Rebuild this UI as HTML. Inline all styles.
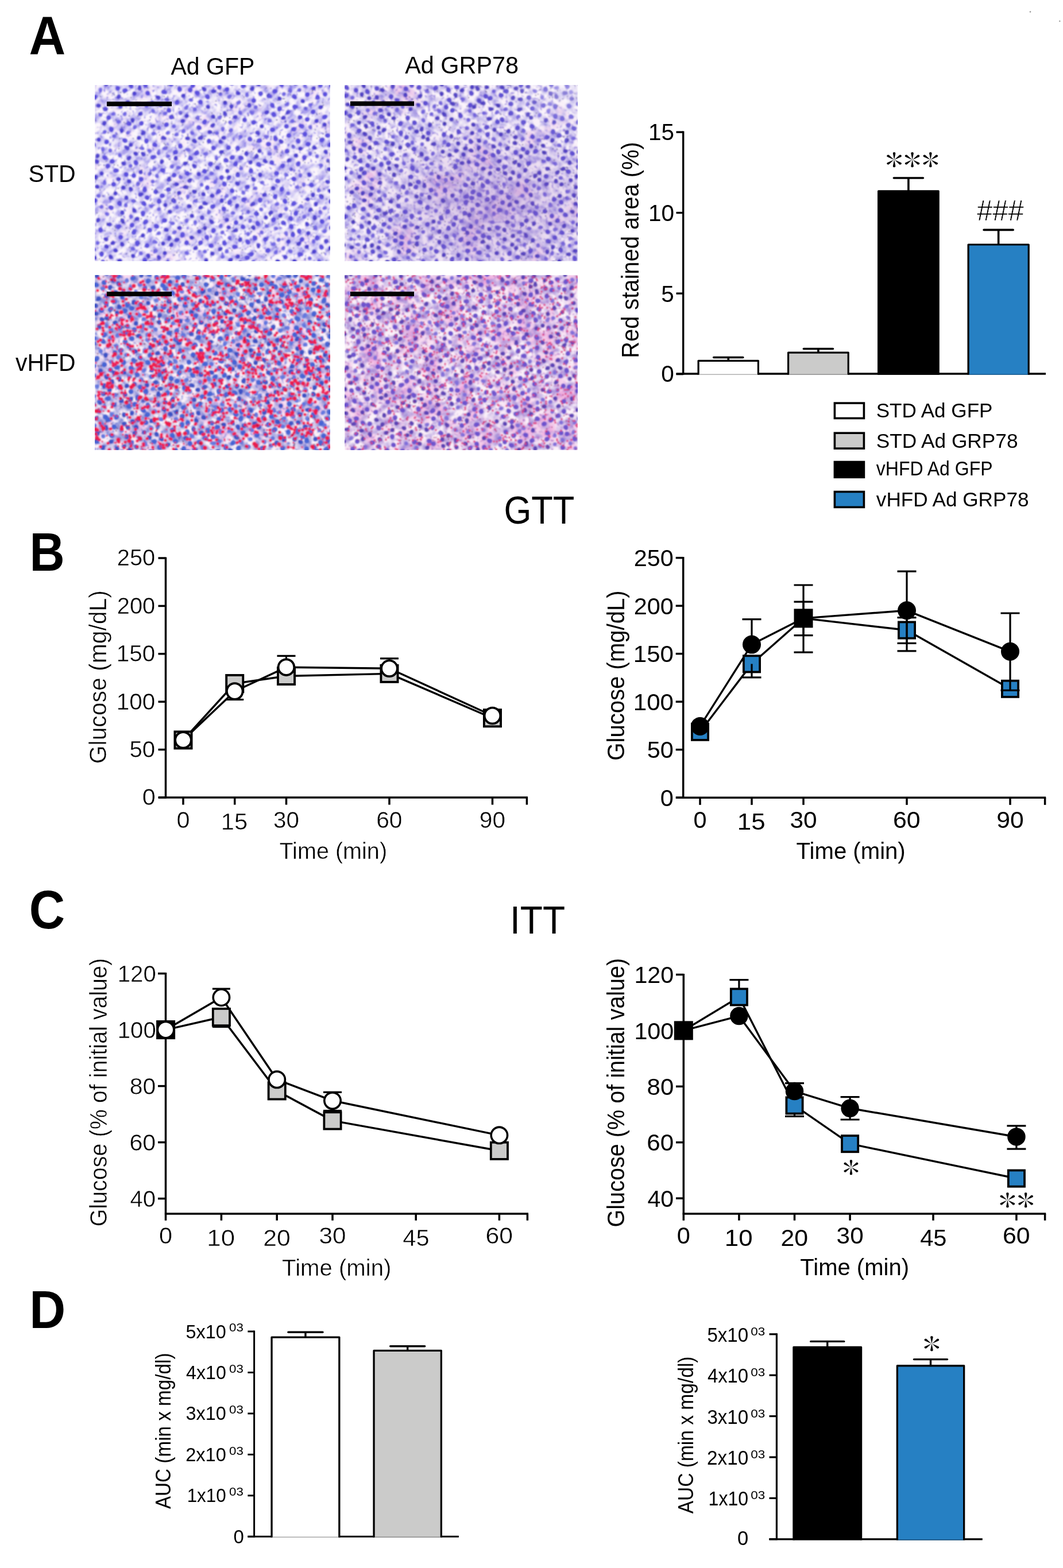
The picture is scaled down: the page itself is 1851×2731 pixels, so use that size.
<!DOCTYPE html><html><head><meta charset="utf-8"><title>Figure</title><style>html,body{margin:0;padding:0;background:#fff}svg{display:block}text{font-family:'Liberation Sans', Arial, Helvetica, sans-serif}</style></head><body>
<svg width="1851" height="2731" viewBox="0 0 1851 2731">
<rect x="0" y="0" width="1851" height="2731" fill="#fff"/>
<defs><filter id="bgt1" filterUnits="userSpaceOnUse" x="165" y="148" width="410" height="307" color-interpolation-filters="sRGB">
<feFlood flood-color="#fbf5fb" result="bg"/>
<feTurbulence type="fractalNoise" baseFrequency="0.03" numOctaves="2" seed="1" result="n0"/>
<feColorMatrix in="n0" type="matrix" values="0 0 0 0 0 0 0 0 0 0 0 0 0 0 0 2.100 0 0 0 -1.050" result="m0"/>
<feFlood flood-color="#f0d0f0"/><feComposite in2="m0" operator="in" result="c0"/>
<feTurbulence type="fractalNoise" baseFrequency="0.07" numOctaves="2" seed="8" result="n1"/>
<feColorMatrix in="n1" type="matrix" values="0 0 0 0 0 0 0 0 0 0 0 0 0 0 0 2.850 0 0 0 -1.140" result="m1"/>
<feFlood flood-color="#aaa0ec"/><feComposite in2="m1" operator="in" result="c1"/>
<feTurbulence type="fractalNoise" baseFrequency="0.2" numOctaves="1" seed="22" result="n2"/>
<feColorMatrix in="n2" type="matrix" values="0 0 0 0 0 0 0 0 0 0 0 0 0 0 0 4.500 0 0 0 -2.520" result="m2"/>
<feFlood flood-color="#8478e6"/><feComposite in2="m2" operator="in" result="c2"/>
<feMerge result="mg"><feMergeNode in="bg"/><feMergeNode in="c0"/><feMergeNode in="c1"/><feMergeNode in="c2"/></feMerge>
</filter>
<filter id="blt1" filterUnits="userSpaceOnUse" x="165" y="148" width="410" height="307"><feGaussianBlur stdDeviation="0.9"/></filter>
<clipPath id="cpt1"><rect x="165" y="148" width="410" height="307"/></clipPath>
<filter id="bgt2" filterUnits="userSpaceOnUse" x="600" y="148" width="406" height="307" color-interpolation-filters="sRGB">
<feFlood flood-color="#f9f0f9" result="bg"/>
<feTurbulence type="fractalNoise" baseFrequency="0.015" numOctaves="2" seed="2" result="n0"/>
<feColorMatrix in="n0" type="matrix" values="0 0 0 0 0 0 0 0 0 0 0 0 0 0 0 3.200 0 0 0 -1.760" result="m0"/>
<feFlood flood-color="#e4b0e0"/><feComposite in2="m0" operator="in" result="c0"/>
<feTurbulence type="fractalNoise" baseFrequency="0.07" numOctaves="2" seed="9" result="n1"/>
<feColorMatrix in="n1" type="matrix" values="0 0 0 0 0 0 0 0 0 0 0 0 0 0 0 2.850 0 0 0 -1.140" result="m1"/>
<feFlood flood-color="#aa9ee4"/><feComposite in2="m1" operator="in" result="c1"/>
<feTurbulence type="fractalNoise" baseFrequency="0.2" numOctaves="1" seed="23" result="n2"/>
<feColorMatrix in="n2" type="matrix" values="0 0 0 0 0 0 0 0 0 0 0 0 0 0 0 4.500 0 0 0 -2.520" result="m2"/>
<feFlood flood-color="#8a74dc"/><feComposite in2="m2" operator="in" result="c2"/>
<feMerge result="mg"><feMergeNode in="bg"/><feMergeNode in="c0"/><feMergeNode in="c1"/><feMergeNode in="c2"/></feMerge>
</filter>
<filter id="blt2" filterUnits="userSpaceOnUse" x="600" y="148" width="406" height="307"><feGaussianBlur stdDeviation="0.9"/></filter>
<clipPath id="cpt2"><rect x="600" y="148" width="406" height="307"/></clipPath>
<radialGradient id="rgt2850" cx="0.5" cy="0.5" r="0.5"><stop offset="0" stop-color="#8a5cb8" stop-opacity="0.35"/><stop offset="1" stop-color="#8a5cb8" stop-opacity="0"/></radialGradient>
<radialGradient id="rgt2990" cx="0.5" cy="0.5" r="0.5"><stop offset="0" stop-color="#ffffff" stop-opacity="0.35"/><stop offset="1" stop-color="#ffffff" stop-opacity="0"/></radialGradient>
<filter id="bgt3" filterUnits="userSpaceOnUse" x="165" y="479" width="410" height="305" color-interpolation-filters="sRGB">
<feFlood flood-color="#fbf0f8" result="bg"/>
<feTurbulence type="fractalNoise" baseFrequency="0.03" numOctaves="2" seed="3" result="n0"/>
<feColorMatrix in="n0" type="matrix" values="0 0 0 0 0 0 0 0 0 0 0 0 0 0 0 2.550 0 0 0 -1.173" result="m0"/>
<feFlood flood-color="#f2b8e4"/><feComposite in2="m0" operator="in" result="c0"/>
<feTurbulence type="fractalNoise" baseFrequency="0.07" numOctaves="2" seed="10" result="n1"/>
<feColorMatrix in="n1" type="matrix" values="0 0 0 0 0 0 0 0 0 0 0 0 0 0 0 2.850 0 0 0 -1.111" result="m1"/>
<feFlood flood-color="#8c8ed6"/><feComposite in2="m1" operator="in" result="c1"/>
<feTurbulence type="fractalNoise" baseFrequency="0.2" numOctaves="1" seed="24" result="n2"/>
<feColorMatrix in="n2" type="matrix" values="0 0 0 0 0 0 0 0 0 0 0 0 0 0 0 4.500 0 0 0 -2.520" result="m2"/>
<feFlood flood-color="#6a78d8"/><feComposite in2="m2" operator="in" result="c2"/>
<feMerge result="mg"><feMergeNode in="bg"/><feMergeNode in="c0"/><feMergeNode in="c1"/><feMergeNode in="c2"/></feMerge>
</filter>
<filter id="blt3" filterUnits="userSpaceOnUse" x="165" y="479" width="410" height="305"><feGaussianBlur stdDeviation="0.9"/></filter>
<clipPath id="cpt3"><rect x="165" y="479" width="410" height="305"/></clipPath>
<filter id="bgt4" filterUnits="userSpaceOnUse" x="600" y="479" width="406" height="305" color-interpolation-filters="sRGB">
<feFlood flood-color="#fbf0f9" result="bg"/>
<feTurbulence type="fractalNoise" baseFrequency="0.03" numOctaves="2" seed="4" result="n0"/>
<feColorMatrix in="n0" type="matrix" values="0 0 0 0 0 0 0 0 0 0 0 0 0 0 0 2.700 0 0 0 -1.134" result="m0"/>
<feFlood flood-color="#eea8dc"/><feComposite in2="m0" operator="in" result="c0"/>
<feTurbulence type="fractalNoise" baseFrequency="0.07" numOctaves="2" seed="11" result="n1"/>
<feColorMatrix in="n1" type="matrix" values="0 0 0 0 0 0 0 0 0 0 0 0 0 0 0 2.850 0 0 0 -1.197" result="m1"/>
<feFlood flood-color="#aa94da"/><feComposite in2="m1" operator="in" result="c1"/>
<feTurbulence type="fractalNoise" baseFrequency="0.2" numOctaves="1" seed="25" result="n2"/>
<feColorMatrix in="n2" type="matrix" values="0 0 0 0 0 0 0 0 0 0 0 0 0 0 0 4.200 0 0 0 -2.352" result="m2"/>
<feFlood flood-color="#b070c8"/><feComposite in2="m2" operator="in" result="c2"/>
<feMerge result="mg"><feMergeNode in="bg"/><feMergeNode in="c0"/><feMergeNode in="c1"/><feMergeNode in="c2"/></feMerge>
</filter>
<filter id="blt4" filterUnits="userSpaceOnUse" x="600" y="479" width="406" height="305"><feGaussianBlur stdDeviation="0.9"/></filter>
<clipPath id="cpt4"><rect x="600" y="479" width="406" height="305"/></clipPath></defs>
<g clip-path="url(#cpt1)"><g filter="url(#blt1)">
<rect x="165" y="148" width="410" height="307" fill="#fbf5fb" filter="url(#bgt1)"/>
<path d="M-30 277 L-17 269 L-11 262 L-2 254 L7 242 L16 240 L24 231 L28 225 L38 215 L51 207 L55 198 L67 193 L72 182 L80 174 L89 169 L97 160 L104 153 L113 146 L120 142 L129 133 L137 128 L145 114 L155 109 L165 101 L173 92 L181 81 L193 75 L202 63 L210 53 L220 49 L226 39 L237 33 L245 22 L254 15 L265 5 L273 -2 L277 -10 L291 -16 L298 -26 L305 -32 L318 -42 L327 -50 L333 -58 L345 -69 L352 -78 L363 -84 L369 -90M-17 291 L-7 281 L1 272 L7 262 L20 254 L27 247 L35 238 L43 232 L53 223 L60 213 L67 207 L79 201 L89 191 L98 179 L110 170 L114 162 L123 159 L128 150 L138 142 L144 136 L153 127 L162 122 L169 113 L177 104 L187 98 L192 90 L205 81 L212 75 L221 63 L227 58 L237 48 L249 41 L257 31 L270 22 L277 12 L287 4 L296 -5 L305 -15 L316 -19 L324 -32 L335 -42 L348 -51 L355 -60 L363 -63 L369 -69 L379 -81M-7 302 L4 290 L11 281 L19 273 L29 264 L35 257 L46 248 L54 240 L67 232 L71 224 L81 220 L90 208 L98 202 L109 193 L117 186 L126 175 L136 163 L146 153 L156 150 L162 143 L172 134 L178 125 L188 120 L197 112 L206 98 L215 90 L220 84 L234 76 L243 65 L254 58 L261 49 L267 41 L277 37 L286 28 L293 18 L305 10 L310 4 L315 -4 L326 -14 L336 -18 L341 -28 L349 -34 L358 -44 L371 -54 L384 -63 L389 -72M0 310 L10 300 L19 298 L25 290 L33 281 L41 277 L53 267 L56 258 L69 252 L77 242 L85 232 L94 224 L101 216 L111 212 L118 203 L129 195 L135 185 L143 178 L156 170 L161 161 L171 153 L179 144 L185 138 L193 133 L197 126 L208 118 L219 109 L229 97 L240 91 L246 86 L253 79 L264 68 L270 58 L281 53 L289 46 L296 40 L300 32 L312 23 L324 13 L333 3 L339 -4 L347 -10 L355 -20 L364 -24 L373 -35 L383 -42 L390 -52 L398 -60 L405 -64M12 322 L17 316 L23 308 L33 304 L40 295 L49 286 L55 281 L65 273 L73 266 L82 255 L91 247 L98 240 L109 234 L118 221 L127 211 L135 207 L145 196 L158 189 L165 181 L174 169 L186 161 L195 153 L207 143 L213 132 L221 125 L232 119 L238 113 L247 102 L255 93 L264 83 L279 75 L286 64 L300 56 L306 50 L316 39 L326 29 L339 20 L346 12 L352 2 L360 -5 L374 -13 L379 -20 L386 -29 L394 -36 L403 -47 L412 -51M22 333 L32 325 L37 317 L46 308 L56 299 L67 292 L79 283 L86 273 L98 264 L106 254 L112 246 L123 236 L134 228 L147 218 L156 205 L166 198 L174 191 L182 184 L187 178 L195 169 L205 164 L214 153 L223 144 L229 136 L239 131 L250 122 L260 114 L268 106 L276 98 L286 85 L294 80 L302 71 L308 65 L316 58 L328 48 L339 40 L348 29 L359 20 L368 11 L377 3 L387 -5 L397 -15 L407 -25 L415 -35 L424 -41M32 344 L40 338 L47 329 L53 323 L63 314 L72 307 L77 301 L89 291 L98 283 L105 273 L115 269 L119 259 L132 251 L140 243 L149 232 L160 225 L169 214 L179 205 L188 196 L200 189 L206 179 L219 170 L228 158 L241 150 L248 142 L259 133 L266 126 L274 121 L282 113 L291 103 L298 95 L304 88 L314 79 L324 69 L336 62 L341 52 L351 46 L356 39 L364 35 L374 23 L381 19 L393 10 L400 -1 L410 -12 L420 -21 L430 -27M41 353 L50 349 L58 340 L65 334 L73 326 L85 317 L91 311 L100 299 L109 292 L120 281 L132 272 L139 267 L143 258 L152 249 L160 242 L171 236 L180 223 L189 220 L193 212 L199 205 L207 202 L217 192 L228 182 L236 175 L247 164 L253 155 L266 146 L274 139 L283 130 L288 124 L296 116 L308 106 L318 98 L329 89 L337 77 L349 66 L362 58 L370 45 L379 42 L386 33 L397 21 L407 14 L414 7 L425 -0 L430 -7 L437 -12 L441 -21M53 366 L58 357 L71 349 L80 337 L88 329 L98 321 L107 316 L118 304 L125 298 L134 292 L144 282 L153 271 L165 262 L170 253 L179 247 L185 240 L194 230 L206 223 L213 214 L221 207 L232 198 L239 188 L251 178 L258 170 L271 161 L284 152 L295 141 L306 131 L314 118 L325 112 L337 101 L347 92 L356 85 L363 74 L374 69 L380 57 L389 53 L398 45 L404 37 L413 26 L421 22 L427 13 L436 8 L443 -2 L452 -5M61 375 L71 364 L82 360 L90 348 L102 339 L114 330 L122 321 L132 314 L142 303 L153 294 L158 285 L170 277 L178 268 L187 262 L197 251 L204 246 L210 236 L220 231 L223 223 L234 219 L244 209 L252 200 L261 191 L271 184 L281 171 L290 162 L298 156 L308 147 L318 135 L330 129 L339 118 L347 110 L360 101 L369 92 L381 82 L387 73 L398 63 L408 53 L416 46 L422 40 L429 31 L437 25 L449 16 L458 11 L464 2M73 388 L81 380 L90 372 L100 364 L107 352 L116 349 L120 339 L129 334 L140 323 L152 315 L157 308 L169 297 L177 288 L191 280 L196 272 L204 265 L210 257 L218 251 L230 243 L239 232 L245 225 L254 216 L265 210 L272 203 L276 196 L287 185 L297 177 L310 169 L315 160 L327 150 L335 144 L341 136 L349 132 L359 123 L368 110 L377 102 L389 94 L394 85 L405 76 L411 69 L421 62 L432 51 L441 41 L449 34 L459 25 L467 18 L475 10M81 396 L94 388 L101 377 L111 372 L121 364 L130 352 L139 344 L145 337 L152 330 L163 324 L172 315 L178 307 L189 301 L195 290 L202 285 L210 276 L219 271 L230 259 L240 251 L245 245 L252 238 L263 230 L267 222 L278 213 L286 206 L291 200 L299 195 L311 185 L319 179 L326 171 L335 165 L342 157 L352 149 L362 140 L369 132 L378 122 L387 114 L397 107 L405 97 L411 91 L417 84 L426 77 L433 69 L442 62 L449 53 L459 47 L468 39 L479 29M91 407 L101 402 L108 397 L115 390 L122 383 L131 372 L141 361 L153 351 L160 342 L170 334 L182 327 L189 316 L203 308 L211 297 L222 291 L230 282 L238 272 L249 262 L257 252 L266 243 L276 234 L282 229 L290 224 L298 216 L311 207 L321 198 L329 186 L340 176 L349 168 L358 163 L367 151 L378 141 L390 134 L398 121 L407 114 L416 109 L424 101 L433 91 L440 86 L449 74 L460 66 L468 60 L478 46 L490 37M101 418 L111 408 L122 404 L131 395 L138 386 L148 379 L156 367 L166 360 L176 353 L185 340 L192 333 L198 327 L208 323 L218 314 L223 305 L237 296 L245 283 L256 278 L267 269 L274 259 L281 255 L293 244 L301 233 L310 228 L322 218 L327 210 L336 202 L348 194 L357 183 L367 174 L374 164 L384 154 L395 146 L405 138 L415 132 L419 121 L431 112 L439 105 L450 98 L458 87 L467 79 L476 71 L483 64 L490 56 L502 46M113 430 L124 421 L134 412 L139 403 L147 397 L155 390 L161 383 L168 376 L180 367 L187 360 L198 351 L207 342 L215 336 L221 331 L227 325 L235 317 L243 306 L252 298 L260 292 L268 286 L279 274 L289 264 L300 255 L308 245 L319 236 L328 228 L339 219 L349 211 L354 202 L366 193 L379 185 L385 173 L398 165 L404 157 L412 148 L426 140 L435 129 L445 117 L456 109 L461 103 L471 98 L478 90 L486 80 L497 73 L508 62M124 443 L133 431 L139 423 L150 413 L160 406 L165 399 L177 390 L190 381 L195 374 L201 368 L211 362 L218 350 L227 343 L234 336 L247 328 L254 315 L267 306 L277 295 L286 292 L290 282 L302 277 L311 265 L324 255 L334 245 L343 238 L352 230 L361 222 L368 212 L377 203 L385 197 L395 186 L407 178 L416 167 L429 157 L436 146 L445 137 L457 128 L466 121 L476 113 L485 105 L495 94 L505 87 L508 79 L516 72M131 451 L139 445 L149 439 L161 428 L168 416 L176 413 L185 401 L198 392 L207 383 L212 376 L224 366 L230 360 L240 350 L247 344 L257 337 L265 331 L277 320 L281 312 L294 303 L300 296 L309 289 L313 282 L325 275 L331 268 L341 260 L350 253 L354 243 L362 239 L368 231 L374 224 L386 214 L399 205 L407 199 L413 194 L417 185 L425 176 L436 167 L446 157 L456 149 L464 143 L472 135 L481 125 L489 121 L498 115 L505 105 L509 98 L518 94 L528 86 L536 77M141 461 L152 456 L163 447 L173 435 L181 427 L191 419 L201 411 L208 402 L219 393 L228 384 L238 374 L245 366 L253 357 L265 352 L270 343 L282 336 L291 326 L298 317 L308 308 L317 297 L330 290 L335 280 L345 275 L356 266 L360 257 L370 254 L377 242 L389 236 L396 225 L409 216 L417 209 L425 200 L432 192 L441 185 L451 178 L455 170 L467 161 L477 152 L483 145 L490 137 L503 128 L512 115 L523 107 L533 100 L538 94M154 475 L161 465 L171 457 L179 450 L184 441 L192 434 L203 427 L214 418 L225 409 L231 400 L237 392 L247 386 L255 381 L264 367 L270 362 L283 355 L286 346 L296 339 L301 332 L309 326 L317 320 L324 312 L333 308 L339 300 L347 292 L354 283 L363 279 L372 267 L381 264 L387 257 L396 244 L407 235 L413 229 L422 223 L431 216 L439 204 L448 200 L455 195 L463 182 L471 175 L479 168 L485 162 L493 156 L503 150 L512 140 L522 129 L530 121 L543 113 L553 101M161 483 L175 476 L184 468 L195 457 L202 448 L209 440 L217 431 L224 425 L235 419 L243 407 L253 401 L258 393 L268 385 L277 376 L289 366 L298 359 L310 350 L320 339 L325 332 L336 326 L344 314 L354 309 L363 301 L373 290 L382 281 L388 272 L400 261 L409 256 L419 244 L429 239 L435 230 L442 222 L455 213 L459 206 L467 201 L477 189 L485 183 L495 177 L504 169 L512 159 L523 149 L532 141 L539 133 L545 126 L555 117 L562 110M171 493 L181 488 L192 480 L198 473 L204 466 L215 459 L225 450 L229 442 L236 433 L244 429 L252 419 L259 414 L270 405 L282 395 L293 384 L301 376 L306 368 L318 362 L322 354 L330 348 L341 337 L349 331 L360 320 L368 310 L380 305 L385 297 L395 288 L405 280 L414 270 L422 263 L431 255 L442 244 L452 238 L461 225 L471 215 L481 205 L491 199 L503 191 L512 180 L519 170 L530 163 L539 152 L547 143 L560 137 L568 128M182 505 L190 501 L196 491 L207 486 L218 474 L228 462 L236 453 L246 450 L252 443 L261 436 L270 422 L281 419 L286 408 L298 399 L306 392 L314 384 L322 374 L334 369 L343 359 L348 350 L357 347 L361 339 L372 331 L381 322 L391 312 L401 300 L411 291 L420 285 L427 278 L437 267 L447 264 L453 254 L466 244 L472 237 L480 232 L489 223 L495 218 L502 211 L511 203 L515 194 L526 189 L533 180 L540 174 L550 167 L559 156 L564 149 L577 140 L585 134M193 517 L203 505 L209 499 L217 494 L224 486 L231 481 L240 475 L247 467 L256 460 L262 453 L270 445 L279 437 L288 431 L299 419 L309 411 L316 403 L324 395 L332 387 L339 380 L347 374 L355 368 L366 358 L374 351 L380 342 L390 334 L399 327 L408 315 L416 309 L427 300 L433 293 L446 285 L454 275 L463 263 L471 259 L479 252 L486 244 L495 232 L504 225 L515 219 L526 208 L532 201 L542 193 L553 185 L562 171 L571 168 L578 162 L583 154 L588 146 L598 141M203 527 L209 521 L216 514 L226 507 L235 495 L246 488 L252 481 L260 477 L266 467 L276 460 L287 451 L295 445 L300 439 L307 433 L314 427 L324 417 L330 409 L337 404 L348 393 L358 384 L364 377 L373 371 L380 362 L389 353 L395 347 L402 343 L411 335 L418 325 L431 317 L436 311 L446 301 L458 292 L468 283 L478 272 L483 266 L494 257 L502 248 L513 238 L523 229 L528 222 L536 216 L543 207 L552 204 L563 192 L572 185 L578 179 L589 171 L598 161 L607 154M213 538 L223 529 L230 523 L240 513 L246 506 L257 495 L267 486 L278 481 L283 472 L294 464 L302 455 L309 450 L317 443 L324 434 L336 423 L348 413 L356 404 L364 399 L372 391 L379 384 L390 376 L398 366 L409 357 L418 349 L423 340 L433 337 L444 326 L451 319 L461 308 L467 300 L481 292 L490 280 L502 272 L508 261 L521 252 L532 242 L538 236 L543 230 L556 221 L563 210 L575 203 L584 194 L595 183 L605 174 L614 166M222 548 L228 541 L238 534 L248 524 L258 520 L262 512 L273 504 L279 495 L288 487 L299 477 L310 466 L320 458 L329 450 L339 440 L349 429 L361 423 L370 416 L376 406 L389 398 L397 386 L409 376 L420 365 L427 358 L439 352 L445 340 L457 334 L465 321 L475 317 L486 308 L496 297 L505 286 L512 282 L521 275 L528 268 L537 260 L546 249 L553 239 L562 234 L568 227 L579 219 L589 208 L598 199 L609 191 L619 178 L626 173M234 561 L240 553 L249 544 L259 533 L270 524 L282 517 L294 507 L299 500 L311 490 L319 482 L327 475 L336 468 L340 461 L347 456 L358 444 L368 433 L376 430 L382 419 L394 413 L400 406 L406 397 L412 391 L420 385 L431 377 L442 368 L448 361 L458 349 L470 343 L478 333 L487 327 L496 315 L502 307 L514 302 L522 289 L529 283 L536 276 L544 271 L557 261 L564 251 L575 240 L581 234 L593 226 L599 217 L610 209 L620 199 L625 192 L634 187M244 571 L251 567 L258 558 L264 550 L273 545 L283 533 L291 526 L296 519 L309 513 L312 504 L322 497 L331 492 L336 483 L348 474 L358 465 L365 461 L369 453 L379 447 L388 433 L395 427 L404 424 L409 417 L415 408 L423 402 L434 396 L442 386 L448 378 L458 371 L468 360 L474 354 L482 347 L492 342 L501 331 L513 322 L519 316 L524 309 L532 301 L538 295 L550 288 L558 274 L568 266 L578 259 L584 251 L592 243 L606 236 L611 230 L620 218 L630 211 L638 205 L648 197M255 583 L265 574 L269 566 L278 559 L287 553 L297 544 L306 536 L314 529 L321 518 L329 509 L341 501 L350 490 L360 484 L366 479 L377 468 L389 459 L396 450 L407 440 L414 433 L426 424 L430 415 L442 408 L451 398 L461 392 L466 383 L471 376 L483 370 L490 363 L496 356 L507 348 L515 340 L523 332 L534 321 L544 314 L547 305 L554 301 L564 293 L572 282 L584 273 L595 262 L608 254 L613 247 L623 241 L628 233 L633 225 L644 219 L652 213M265 594 L275 585 L283 577 L292 568 L300 559 L307 552 L317 540 L330 533 L336 525 L347 515 L356 507 L364 503 L372 490 L381 485 L392 474 L398 466 L409 460 L417 448 L424 444 L433 438 L440 432 L448 419 L456 416 L460 408 L468 400 L476 395 L486 387 L490 379 L501 373 L508 366 L515 361 L526 351 L531 340 L543 332 L551 324 L562 316 L569 307 L575 300 L590 292 L595 285 L606 274 L616 262 L629 255 L633 247 L644 236 L656 230 L666 220M275 605 L280 597 L290 590 L294 582 L302 575 L314 565 L324 557 L336 548 L344 535 L356 529 L367 517 L374 508 L379 502 L389 497 L397 489 L406 484 L415 471 L422 463 L431 456 L441 446 L450 436 L462 429 L470 422 L481 413 L490 402 L500 394 L508 388 L518 377 L526 365 L538 357 L549 348 L557 341 L569 332 L575 326 L584 315 L594 305 L601 296 L615 288 L623 279 L632 268 L643 261 L653 253 L660 245 L669 235M284 614 L290 607 L301 602 L311 591 L320 581 L330 572 L340 561 L350 555 L360 545 L367 538 L373 530 L379 522 L388 518 L397 506 L409 497 L418 486 L427 483 L431 474 L441 465 L452 460 L458 454 L470 444 L479 435 L485 428 L497 418 L504 412 L511 403 L522 394 L530 387 L541 377 L545 368 L554 360 L563 357 L567 349 L577 344 L588 333 L594 322 L606 312 L618 305 L627 297 L637 285 L646 275 L656 269 L662 261 L672 251 L683 240M294 625 L302 620 L308 610 L319 602 L327 592 L334 586 L343 578 L352 574 L357 565 L371 557 L378 544 L388 535 L399 525 L407 519 L414 514 L425 504 L434 492 L444 488 L451 480 L458 470 L468 466 L478 454 L482 447 L496 439 L504 428 L515 417 L527 410 L535 403 L543 397 L552 384 L561 378 L568 370 L579 362 L587 350 L595 342 L608 335 L614 327 L621 319 L628 315 L638 302 L650 295 L660 287 L667 278 L672 271 L683 265 L692 257M304 636 L316 628 L326 616 L332 608 L340 599 L351 595 L357 587 L363 578 L372 572 L379 565 L391 555 L399 546 L408 541 L414 531 L424 526 L436 516 L442 505 L453 494 L465 489 L471 480 L479 473 L486 467 L494 456 L501 451 L509 445 L519 435 L524 428 L533 421 L545 413 L555 403 L563 397 L568 387 L575 383 L588 373 L596 363 L607 357 L616 344 L626 336 L633 329 L641 324 L648 316 L657 305 L671 297 L677 286 L689 279 L696 273 L702 264M315 647 L325 638 L331 629 L337 623 L345 616 L351 611 L358 606 L363 600 L369 594 L378 584 L391 576 L400 567 L409 556 L417 548 L424 544 L435 537 L443 524 L455 515 L463 506 L470 501 L481 494 L488 483 L499 476 L505 468 L515 463 L520 456 L529 449 L536 439 L548 430 L552 423 L560 417 L568 412 L576 402 L584 396 L593 389 L604 379 L613 367 L625 357 L636 348 L643 339 L654 330 L661 324 L666 316 L676 312 L683 305 L688 298 L695 294 L705 285 L716 276M324 657 L334 649 L341 642 L350 636 L356 630 L367 621 L375 612 L382 606 L387 599 L393 592 L403 583 L412 574 L419 568 L430 562 L439 550 L451 540 L458 533 L469 525 L476 520 L482 508 L492 504 L496 496 L506 486 L517 478 L525 472 L530 464 L541 456 L548 449 L558 438 L565 433 L573 427 L578 419 L590 413 L600 404 L610 393 L618 383 L625 377 L632 371 L641 363 L650 355 L661 344 L669 339 L677 328 L686 321 L695 314 L704 300 L719 293 L728 281M334 668 L341 660 L349 654 L356 646 L366 638 L376 627 L384 622 L393 617 L399 606 L408 601 L414 593 L420 585 L432 577 L438 569 L449 563 L461 553 L466 546 L475 538 L484 532 L492 521 L504 511 L510 506 L522 495 L529 489 L535 484 L542 477 L546 468 L555 463 L565 454 L573 450 L581 437 L588 432 L601 423 L605 414 L617 404 L629 397 L639 386 L649 377 L657 371 L661 362 L674 355 L683 344 L689 338 L696 332 L703 322 L714 316 L722 305 L736 297M346 681 L351 672 L361 661 L369 653 L377 648 L389 639 L396 634 L404 622 L413 617 L422 605 L430 598 L441 586 L447 581 L459 576 L464 570 L473 562 L484 551 L492 544 L498 539 L504 529 L516 519 L523 511 L532 503 L541 496 L547 487 L556 484 L567 475 L574 469 L583 456 L596 448 L606 436 L615 425 L622 418 L635 412 L639 403 L652 395 L656 386 L664 380 L670 374 L680 363 L691 358 L700 347 L707 341 L715 334 L722 327 L732 315 L742 311M356 691 L363 686 L368 680 L375 673 L385 663 L395 650 L407 642 L413 634 L422 630 L428 621 L436 617 L443 606 L454 597 L465 588 L473 579 L483 568 L492 565 L502 556 L512 547 L517 536 L527 528 L536 520 L544 514 L552 503 L564 494 L574 485 L581 478 L588 472 L599 464 L606 457 L613 447 L622 438 L633 429 L644 423 L653 412 L661 403 L669 394 L681 389 L689 380 L699 369 L708 365 L714 354 L722 350 L732 339 L739 333 L745 325 L753 319M365 701 L371 694 L379 688 L391 678 L400 666 L407 662 L414 654 L423 644 L435 635 L443 625 L452 621 L457 615 L464 607 L477 598 L483 590 L490 582 L503 573 L513 563 L520 557 L529 551 L540 541 L545 532 L556 522 L566 514 L573 507 L578 499 L591 491 L599 480 L609 476 L620 464 L630 453 L642 444 L650 438 L654 430 L665 424 L670 414 L682 407 L688 401 L696 392 L708 383 L720 372 L727 363 L732 356 L741 348 L751 339 L762 334M376 713 L381 703 L392 695 L402 686 L410 678 L419 674 L425 665 L437 656 L448 644 L456 638 L463 633 L470 624 L481 613 L493 604 L502 596 L506 587 L519 580 L524 569 L533 562 L539 556 L549 548 L559 538 L569 529 L576 522 L587 513 L598 505 L607 497 L615 485 L627 477 L636 466 L644 462 L653 456 L658 447 L667 440 L675 435 L682 428 L692 415 L705 407 L711 402 L717 392 L727 381 L736 379 L740 372 L749 363 L761 354 L766 348 L776 337" stroke="#fff" stroke-width="4.0" stroke-linecap="round" stroke-linejoin="round" fill="none" opacity="0.35"/>
<path d="M510 356h0M390 422h0M465 437h0M448 388h0M372 359h0M284 341h0M304 305h0M507 382h0M253 454h0M486 191h0M282 296h0M432 449h0M364 245h0M475 185h0M288 161h0M453 350h0M395 280h0M530 276h0M300 204h0M397 258h0M464 416h0M254 150h0M219 157h0M249 374h0M441 214h0M304 351h0M342 161h0M296 146h0M425 149h0M252 356h0M317 411h0M485 316h0M491 149h0M181 274h0M208 394h0M516 186h0M427 347h0M194 281h0M357 211h0M258 163h0M538 251h0M424 396h0M272 334h0M471 168h0M325 422h0M352 380h0M559 429h0M483 302h0M579 270h0M578 351h0M493 288h0M175 402h0M411 284h0M520 284h0M560 385h0M414 257h0M411 430h0M510 407h0M443 413h0M405 333h0M229 151h0M362 170h0M226 216h0M477 382h0M562 243h0M479 239h0M348 223h0M379 335h0M536 164h0M304 266h0M543 323h0M247 214h0M525 443h0M187 290h0M389 363h0M511 311h0M520 247h0M442 176h0M371 257h0M236 282h0M312 154h0M255 247h0M289 218h0M476 226h0M553 168h0M557 146h0M204 297h0M390 319h0M448 373h0M257 345h0M508 396h0M332 156h0M403 275h0M496 447h0M167 168h0M567 203h0M432 325h0M414 303h0M260 400h0M341 268h0M357 299h0M452 288h0M314 253h0M197 321h0M233 305h0M277 349h0M453 163h0M219 303h0M558 341h0M480 159h0M490 331h0M546 194h0M185 248h0M421 275h0M190 205h0M185 190h0M573 253h0M568 421h0M497 352h0M288 384h0M192 361h0M350 422h0M331 275h0M211 413h0M256 427h0M523 219h0M514 170h0M453 245h0M534 208h0M177 444h0M252 388h0M385 310h0M430 420h0M516 370h0M469 251h0M576 397h0M426 208h0M502 236h0M335 150h0M495 389h0M521 404h0M274 395h0M271 253h0M552 413h0M437 296h0M411 387h0M234 402h0M245 312h0M252 328h0M216 244h0M295 193h0M209 356h0M474 284h0M269 273h0M361 415h0M166 350h0M439 442h0M382 153h0M399 354h0M498 220h0M569 236h0M525 418h0M480 341h0M368 285h0M309 177h0M194 227h0M205 153h0M239 426h0M229 393h0M366 428h0M499 264h0M349 177h0M291 460h0M327 303h0M566 165h0M436 243h0M476 198h0M531 235h0M371 403h0M510 225h0M396 155h0M292 330h0M361 326h0" stroke="#5a4ede" stroke-width="6.8" stroke-linecap="round" fill="none" opacity="0.81"/>
<path d="M512 354h0M391 424h0M467 436h0M449 390h0M370 360h0M282 341h0M303 305h0M506 380h0M252 453h0M487 189h0M284 297h0M430 449h0M364 246h0M474 183h0M285 160h0M453 348h0M393 279h0M530 274h0M298 204h0M398 257h0M462 417h0M253 147h0M217 158h0M249 371h0M442 213h0M302 349h0M344 162h0M298 147h0M423 150h0M250 354h0M318 408h0M483 315h0M490 147h0M183 275h0M206 395h0M513 186h0M424 348h0M196 281h0M356 213h0M257 162h0M536 251h0M423 395h0M271 334h0M468 167h0M325 423h0M352 379h0M560 431h0M481 302h0M579 269h0M576 351h0M492 289h0M175 400h0M410 286h0M519 286h0M561 386h0M414 259h0M408 430h0M510 409h0M444 415h0M404 332h0M228 149h0M361 168h0M224 215h0M476 383h0M560 244h0M480 242h0M346 222h0M381 333h0M535 165h0M306 265h0M542 322h0M246 215h0M522 443h0M188 289h0M390 364h0M512 312h0M519 245h0M442 175h0M372 258h0M237 284h0M313 156h0M255 245h0M290 217h0M474 226h0M553 170h0M558 149h0M201 297h0M391 321h0M446 372h0M256 344h0M507 394h0M331 157h0M405 274h0M497 448h0M165 170h0M565 204h0M430 326h0M414 305h0M261 401h0M343 266h0M356 298h0M450 286h0M314 255h0M198 321h0M233 306h0M277 351h0M454 163h0M220 304h0M560 343h0M478 159h0M491 329h0M545 195h0M186 247h0M419 275h0M189 205h0M183 190h0M575 252h0M568 420h0M496 350h0M286 384h0M194 362h0M349 423h0M332 276h0M210 413h0M256 428h0M526 220h0M512 168h0M451 245h0M535 208h0M177 442h0M254 386h0M386 309h0M432 422h0M515 372h0M467 251h0M579 395h0M426 209h0M503 236h0M336 149h0M493 388h0M521 402h0M272 394h0M269 252h0M552 415h0M437 298h0M411 388h0M233 405h0M246 312h0M252 331h0M218 245h0M294 192h0M208 354h0M473 283h0M266 274h0M360 413h0M166 349h0M437 443h0M382 152h0M400 352h0M499 220h0M571 236h0M526 417h0M479 343h0M366 286h0M308 179h0M194 225h0M205 154h0M239 423h0M230 392h0M368 428h0M500 263h0M349 178h0M292 458h0M326 302h0M566 164h0M435 242h0M477 200h0M531 233h0M372 401h0M512 225h0M395 156h0M294 330h0M361 327h0" stroke="#5a4ede" stroke-width="8.5" stroke-linecap="round" fill="none" opacity="0.9"/>
<path d="M445 274h0M451 263h0M502 280h0M336 460h0M331 359h0M209 184h0M243 151h0M208 312h0M281 283h0M212 229h0M337 333h0M309 321h0M466 195h0M284 425h0M287 440h0M320 166h0M212 424h0M408 402h0M213 369h0M463 282h0M385 433h0M167 307h0M247 338h0M164 450h0M311 336h0M560 186h0M259 447h0M201 336h0M188 391h0M248 267h0M306 274h0M354 154h0M470 372h0M177 303h0M528 177h0M235 267h0M363 187h0M522 423h0M195 424h0M368 341h0M534 389h0M387 264h0M415 446h0M274 169h0M187 430h0M325 241h0M347 304h0M172 244h0M192 446h0M475 327h0M552 210h0M549 258h0M429 266h0M391 196h0M539 367h0M227 253h0M237 382h0M450 233h0M535 429h0M335 376h0M291 401h0M438 357h0M572 294h0M221 178h0M195 345h0M522 259h0M577 147h0M214 387h0M324 284h0M450 430h0M337 288h0M224 315h0M408 204h0M568 266h0M524 204h0M367 230h0M380 293h0M383 246h0M207 454h0M396 383h0M219 256h0M403 187h0M403 452h0M239 183h0M412 319h0M181 216h0M546 439h0M311 397h0M369 441h0M372 217h0M463 378h0M169 273h0M355 339h0M453 306h0M248 233h0M440 311h0M248 411h0M395 297h0M333 414h0M326 202h0M489 374h0M226 274h0M231 211h0M392 178h0M299 425h0M419 416h0M455 220h0M535 347h0M514 146h0M357 398h0M545 341h0M186 146h0M347 404h0M440 153h0M332 313h0M434 182h0M359 455h0M451 148h0M170 385h0M173 184h0M294 417h0M418 457h0M170 326h0M459 340h0M399 396h0M295 310h0M359 355h0M536 407h0M485 455h0M276 447h0M367 385h0M348 362h0M233 365h0M374 159h0M340 247h0M500 197h0M442 398h0M503 420h0M569 316h0M419 378h0M386 348h0M547 153h0M214 284h0M550 357h0M206 170h0M183 416h0M310 417h0M310 460h0M388 240h0M548 377h0M575 433h0M488 245h0M347 241h0M202 437h0M220 343h0M400 308h0M214 326h0M168 280h0M265 178h0M516 270h0M412 360h0M512 454h0M287 241h0M245 299h0M227 328h0M339 433h0M241 241h0M231 445h0M416 163h0M321 326h0M243 199h0M234 162h0M573 332h0M268 219h0M372 204h0M319 210h0M486 171h0M437 282h0M295 368h0M288 358h0M492 206h0M538 303h0M566 217h0" stroke="#4c40d0" stroke-width="6.0" stroke-linecap="round" fill="none" opacity="0.81"/>
<path d="M447 272h0M452 263h0M504 279h0M336 459h0M329 359h0M210 186h0M243 154h0M206 312h0M282 281h0M212 227h0M339 334h0M307 321h0M464 196h0M284 424h0M287 441h0M319 167h0M213 426h0M411 401h0M213 371h0M461 280h0M383 434h0M167 309h0M244 339h0M165 449h0M312 336h0M558 187h0M258 445h0M201 337h0M191 391h0M250 269h0M306 276h0M356 156h0M472 370h0M177 302h0M527 176h0M237 268h0M362 186h0M520 425h0M197 423h0M370 341h0M535 391h0M385 265h0M414 447h0M276 170h0M185 429h0M327 241h0M346 303h0M172 243h0M193 448h0M476 328h0M551 211h0M547 257h0M429 268h0M392 199h0M541 365h0M228 252h0M239 381h0M448 231h0M534 430h0M334 376h0M289 400h0M441 355h0M573 295h0M223 178h0M193 345h0M523 259h0M577 149h0M213 384h0M322 285h0M450 427h0M339 290h0M225 316h0M410 204h0M567 264h0M522 204h0M365 230h0M378 292h0M384 247h0M209 454h0M395 383h0M222 258h0M403 185h0M401 453h0M239 181h0M414 320h0M182 214h0M547 438h0M313 397h0M370 442h0M370 219h0M463 379h0M170 271h0M354 338h0M453 304h0M250 231h0M442 313h0M249 410h0M396 298h0M334 414h0M325 202h0M488 376h0M224 276h0M231 209h0M392 179h0M298 427h0M418 418h0M456 220h0M536 347h0M515 145h0M357 397h0M545 339h0M185 147h0M347 403h0M439 155h0M330 315h0M434 184h0M359 453h0M450 146h0M171 383h0M171 184h0M295 414h0M419 459h0M169 325h0M461 339h0M398 396h0M294 313h0M356 354h0M537 406h0M483 455h0M277 449h0M369 387h0M350 361h0M234 367h0M371 159h0M338 245h0M502 195h0M441 396h0M502 421h0M571 317h0M420 379h0M386 350h0M546 154h0M216 285h0M550 355h0M207 168h0M185 417h0M307 418h0M308 459h0M390 240h0M548 380h0M575 432h0M490 247h0M350 240h0M201 436h0M220 345h0M398 310h0M215 327h0M169 282h0M264 180h0M515 271h0M413 358h0M513 455h0M284 240h0M245 300h0M228 330h0M341 432h0M242 240h0M232 446h0M414 162h0M324 326h0M245 198h0M234 163h0M575 333h0M265 220h0M371 203h0M318 211h0M487 172h0M436 283h0M296 369h0M288 357h0M494 205h0M539 305h0M565 217h0" stroke="#4c40d0" stroke-width="7.5" stroke-linecap="round" fill="none" opacity="0.9"/>
<path d="M523 307h0M495 163h0M464 393h0M289 197h0M302 220h0M384 203h0M468 268h0M175 159h0M163 253h0M437 195h0M345 207h0M183 229h0M541 223h0M306 235h0M410 344h0M229 378h0M249 259h0M234 223h0M455 318h0M362 311h0M407 371h0M272 422h0M565 404h0M432 370h0M240 319h0M356 268h0M383 164h0M494 431h0M276 268h0M400 213h0M419 239h0M264 359h0M402 146h0M555 453h0M269 439h0M314 198h0M499 409h0M564 363h0M446 186h0M314 308h0M377 277h0M259 262h0M571 279h0M267 296h0M196 199h0M385 392h0M198 237h0M531 147h0M340 386h0M522 156h0M481 438h0M370 302h0M274 308h0M552 273h0M504 437h0M394 439h0M546 419h0M377 232h0M529 379h0M393 343h0M516 326h0M222 232h0M557 368h0M320 227h0M510 211h0M233 434h0M500 305h0M454 364h0M305 404h0M501 336h0M231 350h0M351 321h0M388 227h0M432 409h0M325 386h0M486 417h0M419 294h0M174 200h0M192 263h0M481 356h0M529 323h0M403 226h0M542 182h0M430 164h0M339 350h0M507 294h0M219 356h0M228 289h0M327 344h0M208 270h0M170 424h0M455 404h0M374 318h0M277 222h0M294 272h0M417 178h0M550 399h0M466 238h0M468 211h0M401 167h0M266 317h0M269 232h0M540 269h0M506 159h0M480 256h0M540 450h0M363 371h0M423 334h0M199 181h0M499 363h0M526 361h0M278 183h0M256 183h0M387 448h0M555 330h0M474 426h0M179 262h0M573 380h0M185 372h0M435 386h0M291 232h0M266 192h0M181 457h0M560 288h0M324 440h0M501 180h0M334 231h0M285 259h0M302 389h0M260 304h0M510 254h0M176 361h0M165 435h0M356 438h0M276 365h0M482 398h0M275 407h0M208 212h0M533 190h0M326 185h0M331 174h0M340 191h0M170 341h0M218 197h0M443 328h0M308 360h0M400 415h0M300 291h0M313 292h0M261 457h0M182 316h0M441 458h0M325 260h0M388 404h0M419 198h0M246 442h0M289 173h0" stroke="#6c62e2" stroke-width="5.6" stroke-linecap="round" fill="none" opacity="0.77"/>
<path d="M523 305h0M494 164h0M464 394h0M287 198h0M303 220h0M382 205h0M470 268h0M175 156h0M163 251h0M439 197h0M344 205h0M182 230h0M540 221h0M308 234h0M408 345h0M228 377h0M247 258h0M235 221h0M457 318h0M359 310h0M405 371h0M269 421h0M566 402h0M432 369h0M240 321h0M359 268h0M384 164h0M493 433h0M276 266h0M401 213h0M419 238h0M263 359h0M404 146h0M556 455h0M271 437h0M314 196h0M498 406h0M566 362h0M445 187h0M315 309h0M377 275h0M261 263h0M571 280h0M269 294h0M198 198h0M384 394h0M199 237h0M531 150h0M340 388h0M521 157h0M480 440h0M368 302h0M273 306h0M552 272h0M506 438h0M395 437h0M546 421h0M378 232h0M530 377h0M395 341h0M518 326h0M223 231h0M558 370h0M319 229h0M509 211h0M231 433h0M498 304h0M455 365h0M303 405h0M502 337h0M233 350h0M351 322h0M388 224h0M432 407h0M325 384h0M485 418h0M420 293h0M175 200h0M192 262h0M483 355h0M529 321h0M402 227h0M540 183h0M430 166h0M341 350h0M507 295h0M219 358h0M227 289h0M327 342h0M209 271h0M170 423h0M456 405h0M375 316h0M277 223h0M292 272h0M415 179h0M549 396h0M463 238h0M470 210h0M399 169h0M266 316h0M267 233h0M540 267h0M505 157h0M480 258h0M539 450h0M364 369h0M424 336h0M197 181h0M498 364h0M524 359h0M280 184h0M255 185h0M388 447h0M555 332h0M477 425h0M179 259h0M574 379h0M187 373h0M436 384h0M293 231h0M267 194h0M179 455h0M559 288h0M326 441h0M500 182h0M335 232h0M288 258h0M300 389h0M261 302h0M511 256h0M177 360h0M163 434h0M357 438h0M277 364h0M480 398h0M277 406h0M206 212h0M532 189h0M324 188h0M333 174h0M339 190h0M172 341h0M217 199h0M445 328h0M308 361h0M400 414h0M299 290h0M310 292h0M262 458h0M182 319h0M441 456h0M328 261h0M387 405h0M418 196h0M245 441h0M291 173h0" stroke="#6c62e2" stroke-width="7" stroke-linecap="round" fill="none" opacity="0.85"/>
<path d="M473 340h0M278 235h0M522 378h0M292 149h0M488 231h0M489 271h0M332 297h0M186 390h0M570 282h0M190 185h0M357 399h0M343 347h0M312 353h0M537 313h0M302 345h0M328 325h0M185 191h0M404 403h0M177 439h0M493 172h0M433 308h0M323 377h0M464 453h0M196 163h0M379 162h0M286 168h0M520 368h0M495 172h0M428 151h0M274 334h0M496 448h0M380 424h0M302 321h0M174 331h0M335 369h0M514 212h0M233 300h0M201 411h0M257 153h0M394 213h0M531 283h0M438 306h0M229 294h0M395 289h0M470 258h0M303 206h0M402 180h0M441 330h0M483 261h0M286 250h0M266 388h0M202 209h0M441 260h0M502 348h0M212 222h0M358 288h0M508 295h0M425 169h0M208 351h0M441 275h0M502 159h0M373 285h0M556 198h0M208 241h0M445 438h0M437 418h0M561 254h0M404 436h0M510 404h0M228 170h0M316 345h0M382 436h0M356 391h0M484 175h0M352 378h0M549 266h0M472 238h0M299 350h0M464 153h0M327 282h0M347 427h0M322 323h0M201 397h0M264 444h0M293 174h0M560 441h0M224 422h0M166 210h0M466 166h0M497 177h0M301 234h0M427 384h0M546 315h0M244 288h0M389 378h0M438 264h0M391 177h0M429 185h0M570 420h0M227 438h0M396 367h0M332 360h0M261 209h0M352 398h0M503 278h0M287 155h0M200 394h0M400 417h0M513 241h0M438 396h0M316 198h0M275 187h0M438 403h0M313 305h0M434 398h0M211 381h0M563 233h0M422 435h0M251 398h0M376 176h0M332 336h0M393 353h0M236 417h0M399 228h0M552 241h0M423 263h0M307 149h0M296 336h0M350 271h0M482 209h0M344 397h0M310 340h0M216 162h0M447 412h0M321 263h0M400 205h0M199 287h0M291 372h0M561 276h0M402 359h0M560 339h0M385 270h0M219 215h0M172 197h0M556 239h0M526 352h0M185 363h0M373 206h0M567 220h0M549 382h0M319 393h0M284 215h0M564 440h0M461 389h0M396 314h0M568 230h0M246 381h0M536 382h0M172 273h0M200 401h0M524 326h0M173 451h0M481 430h0M262 302h0M172 288h0M573 283h0M463 444h0M179 188h0M361 297h0M424 346h0M390 159h0M350 208h0M572 280h0M505 149h0M188 231h0M193 149h0M220 397h0M572 436h0M247 296h0M503 352h0M421 445h0M384 198h0M327 329h0M287 331h0M436 429h0M269 283h0M240 202h0M369 377h0M234 385h0M274 453h0M569 347h0M436 155h0M330 312h0M433 201h0M310 378h0M384 162h0M520 361h0M175 168h0M430 325h0M168 313h0M342 333h0M225 202h0M169 371h0M406 397h0M199 165h0M225 403h0M549 226h0M399 322h0M243 424h0M306 254h0M569 300h0M373 231h0M391 370h0M490 265h0M206 200h0M443 245h0M545 395h0M523 158h0M232 241h0M352 152h0M505 367h0M389 210h0M279 197h0M243 320h0M292 168h0M515 302h0M258 450h0M462 415h0M298 325h0M511 432h0M304 444h0M300 200h0M205 288h0M228 148h0M532 188h0M393 211h0M518 426h0M484 381h0M257 270h0M308 176h0M257 377h0M204 234h0M391 204h0M447 247h0M319 316h0M330 426h0M336 170h0M384 285h0M291 256h0M544 157h0M218 183h0M297 354h0M265 330h0M514 191h0M411 416h0M552 199h0M268 435h0M546 412h0M545 367h0M189 339h0M288 252h0M510 254h0M471 375h0M183 402h0M546 399h0M206 328h0M210 161h0M186 454h0M414 301h0M536 411h0M468 163h0M308 440h0M318 217h0M297 433h0M179 341h0M220 323h0M433 367h0M544 159h0M243 258h0M486 390h0M230 208h0M498 212h0M435 218h0M338 414h0M390 267h0M305 348h0M220 442h0M351 236h0M330 271h0M562 179h0M499 343h0M564 329h0M447 268h0M356 242h0M362 297h0M563 183h0M543 390h0M295 414h0M225 431h0M449 371h0M522 335h0M331 337h0M566 420h0M412 333h0M469 338h0M470 376h0M365 263h0M459 242h0M179 266h0M418 289h0M305 335h0M215 387h0M340 181h0M354 248h0M542 333h0M544 179h0M568 454h0M473 312h0M335 245h0M424 208h0M468 390h0M185 281h0M236 350h0M181 288h0M341 206h0M506 165h0M568 397h0M539 260h0M483 265h0M264 173h0M271 329h0M396 193h0M375 282h0M299 215h0M207 259h0M369 197h0M503 265h0M211 376h0M528 280h0M531 451h0M327 236h0M216 213h0M298 314h0M562 342h0M295 278h0M571 297h0M454 184h0M430 290h0M265 354h0M538 237h0" stroke="#3a3a80" stroke-width="2.5" stroke-linecap="round" fill="none" opacity="0.55"/>
</g></g>
<g clip-path="url(#cpt2)"><g filter="url(#blt2)">
<rect x="600" y="148" width="406" height="307" fill="#f9f0f9" filter="url(#bgt2)"/>
<path d="M739 -91 L754 -86 L759 -78 L771 -71 L780 -65 L791 -58 L799 -53 L807 -46 L820 -36 L831 -31 L841 -27 L846 -20 L855 -15 L867 -6 L879 0 L885 5 L892 11 L905 21 L912 27 L924 34 L937 43 L950 50 L961 61 L969 65 L982 72 L992 79 L1004 88 L1017 95 L1028 106 L1038 111 L1050 121 L1062 125 L1069 133 L1076 139 L1085 145 L1093 151 L1106 157 L1115 165 L1127 170 L1134 177 L1147 186 L1153 192 L1164 200 L1173 204 L1180 209 L1189 213M734 -83 L742 -73 L752 -70 L763 -61 L776 -55 L785 -48 L796 -41 L809 -32 L820 -25 L826 -16 L836 -13 L846 -5 L852 3 L862 4 L869 12 L882 18 L891 24 L899 33 L910 42 L921 50 L934 56 L941 62 L952 66 L959 75 L967 79 L977 85 L983 92 L992 97 L1003 101 L1013 108 L1020 112 L1028 118 L1038 127 L1050 138 L1065 144 L1074 150 L1084 159 L1095 168 L1104 172 L1116 177 L1121 184 L1128 190 L1138 193 L1145 199 L1152 206 L1163 211 L1174 218 L1184 230M725 -71 L735 -63 L742 -59 L753 -53 L758 -46 L768 -41 L781 -32 L788 -25 L800 -22 L811 -14 L817 -5 L831 -1 L839 7 L849 13 L860 19 L868 26 L882 34 L893 42 L903 50 L911 58 L922 62 L930 67 L940 78 L953 87 L960 91 L972 100 L983 105 L991 113 L1000 118 L1009 126 L1021 134 L1035 140 L1042 146 L1051 152 L1060 161 L1071 168 L1080 171 L1093 179 L1103 185 L1108 194 L1122 202 L1130 205 L1137 212 L1149 219 L1160 225 L1168 235M718 -61 L727 -52 L735 -45 L745 -40 L753 -32 L766 -26 L774 -21 L780 -16 L794 -9 L803 -1 L812 6 L825 15 L834 23 L843 28 L854 36 L868 42 L878 50 L887 60 L901 63 L908 73 L921 81 L935 86 L946 98 L956 106 L970 111 L981 122 L989 128 L1001 132 L1013 140 L1022 149 L1030 155 L1041 160 L1054 169 L1060 175 L1072 184 L1084 191 L1095 198 L1103 204 L1111 207 L1122 216 L1132 226 L1142 232 L1153 241 L1162 243M710 -48 L720 -45 L727 -34 L737 -29 L747 -23 L760 -15 L770 -7 L779 2 L786 6 L795 11 L807 19 L816 26 L824 30 L833 36 L845 46 L857 51 L865 57 L873 62 L887 70 L898 80 L907 86 L914 91 L921 96 L929 104 L943 111 L952 120 L963 123 L971 129 L982 137 L989 145 L998 150 L1010 156 L1022 164 L1032 175 L1043 181 L1056 190 L1067 198 L1080 207 L1094 214 L1104 223 L1114 228 L1120 235 L1130 239 L1144 247 L1157 255 L1163 261M701 -35 L714 -28 L724 -22 L731 -15 L742 -11 L753 -4 L760 5 L769 6 L777 12 L786 19 L795 25 L802 32 L812 37 L824 44 L830 52 L839 58 L847 62 L860 70 L871 79 L879 87 L890 91 L901 98 L912 107 L923 114 L935 125 L948 131 L958 138 L966 141 L979 150 L990 161 L1004 167 L1011 176 L1020 178 L1028 184 L1034 191 L1041 197 L1054 201 L1066 210 L1075 218 L1083 223 L1091 227 L1102 238 L1112 244 L1126 251 L1136 257 L1143 262 L1151 267M695 -27 L704 -17 L717 -9 L727 -2 L737 0 L747 11 L756 15 L764 21 L774 27 L784 37 L796 43 L803 50 L818 57 L828 66 L841 71 L850 79 L857 86 L868 93 L879 102 L891 106 L900 117 L913 124 L921 127 L927 134 L939 139 L949 151 L963 158 L973 162 L983 173 L991 179 L1003 184 L1011 192 L1021 198 L1028 204 L1036 210 L1046 213 L1056 221 L1064 230 L1073 234 L1084 242 L1094 247 L1103 253 L1112 258 L1122 265 L1131 273 L1141 277M686 -13 L695 -9 L705 -0 L718 5 L724 13 L735 15 L747 24 L755 31 L762 38 L772 43 L780 51 L788 54 L796 58 L806 66 L813 72 L825 81 L835 88 L849 94 L855 103 L870 109 L880 119 L891 126 L902 131 L910 135 L921 143 L931 152 L939 160 L950 165 L960 170 L967 177 L980 183 L991 194 L998 199 L1008 205 L1015 210 L1024 218 L1035 224 L1048 230 L1054 236 L1062 240 L1070 247 L1080 255 L1095 262 L1105 269 L1115 278 L1123 282 L1133 290M680 -4 L687 4 L700 8 L711 17 L723 27 L734 36 L744 43 L752 45 L766 52 L774 64 L785 71 L794 75 L804 81 L813 89 L823 91 L831 102 L843 110 L851 116 L860 118 L870 129 L879 135 L887 139 L896 143 L904 147 L912 155 L920 162 L927 166 L938 172 L951 180 L960 188 L967 196 L979 201 L989 207 L1000 218 L1013 223 L1024 230 L1033 235 L1042 247 L1053 253 L1062 258 L1072 264 L1081 269 L1090 280 L1103 287 L1111 290 L1121 301M671 8 L684 14 L694 22 L706 31 L717 39 L728 45 L740 55 L750 61 L762 70 L772 79 L780 82 L791 89 L803 100 L813 105 L824 113 L833 120 L844 123 L853 133 L863 138 L875 149 L884 155 L896 160 L906 169 L919 178 L931 184 L937 189 L943 196 L953 201 L966 207 L978 216 L984 222 L992 229 L1004 232 L1011 237 L1019 246 L1027 249 L1035 259 L1048 267 L1060 273 L1068 279 L1077 283 L1088 293 L1100 300 L1108 306 L1119 312M663 20 L673 23 L683 33 L692 38 L699 45 L711 50 L718 55 L728 62 L737 66 L746 77 L759 84 L772 90 L778 98 L787 100 L798 108 L805 115 L819 121 L830 131 L840 139 L846 146 L854 150 L868 158 L882 165 L888 172 L894 178 L904 185 L915 187 L927 197 L937 203 L946 211 L955 215 L962 224 L971 227 L981 236 L993 244 L1006 250 L1019 259 L1026 264 L1037 274 L1048 284 L1062 292 L1070 299 L1084 304 L1095 310 L1100 317 L1110 326M657 28 L667 39 L679 45 L689 49 L697 60 L705 65 L719 71 L731 79 L739 86 L751 95 L757 101 L768 108 L777 111 L785 116 L794 123 L804 132 L812 139 L825 144 L831 152 L844 155 L855 164 L863 172 L872 176 L881 186 L888 190 L901 195 L911 205 L923 212 L931 218 L940 223 L950 228 L957 235 L966 242 L978 248 L988 256 L997 260 L1008 273 L1022 278 L1030 283 L1037 290 L1044 294 L1054 304 L1064 306 L1075 315 L1084 320 L1092 327 L1101 332M648 42 L658 46 L666 55 L678 63 L686 68 L695 73 L705 80 L715 84 L719 92 L733 98 L739 105 L750 110 L762 116 L768 124 L779 133 L789 139 L802 146 L816 153 L821 161 L830 164 L841 173 L848 179 L856 183 L868 191 L876 199 L888 206 L900 215 L911 222 L922 226 L930 232 L936 238 L945 246 L952 250 L961 253 L968 262 L980 267 L989 271 L996 281 L1006 286 L1020 292 L1028 300 L1036 305 L1048 311 L1059 320 L1070 327 L1081 336 L1091 346M643 50 L649 60 L660 67 L670 74 L683 81 L695 86 L701 91 L711 102 L723 110 L732 111 L740 117 L748 128 L763 133 L772 143 L784 149 L791 157 L804 164 L816 169 L824 175 L832 181 L842 190 L849 196 L855 201 L867 207 L875 213 L889 219 L895 227 L905 230 L914 237 L922 243 L928 250 L939 256 L947 263 L959 272 L968 274 L975 280 L985 288 L993 295 L1004 303 L1014 308 L1022 312 L1033 319 L1044 326 L1053 334 L1064 339 L1071 345 L1082 353 L1090 358M635 62 L644 70 L654 74 L667 83 L673 89 L683 100 L697 105 L710 112 L717 118 L726 127 L736 135 L748 143 L755 149 L768 157 L775 161 L786 167 L794 174 L805 182 L814 188 L822 193 L830 195 L836 202 L849 210 L860 218 L871 228 L885 234 L890 241 L899 246 L913 252 L920 259 L931 269 L946 275 L955 285 L965 290 L972 297 L983 302 L994 309 L1006 317 L1014 325 L1025 332 L1038 341 L1047 347 L1061 353 L1071 362 L1081 367M625 75 L637 85 L649 92 L663 97 L672 108 L685 113 L696 122 L705 129 L718 135 L729 142 L734 150 L749 157 L760 164 L770 172 L777 177 L786 186 L795 188 L802 193 L808 201 L823 207 L832 215 L840 224 L856 229 L864 237 L875 244 L888 251 L895 260 L905 263 L916 270 L926 277 L933 283 L944 293 L955 300 L963 308 L975 313 L983 317 L991 327 L1005 331 L1016 340 L1027 347 L1032 354 L1043 360 L1054 368 L1064 373 L1074 379M617 87 L627 92 L638 99 L651 106 L656 113 L668 120 L681 128 L690 135 L703 142 L713 153 L724 155 L730 162 L737 169 L744 174 L753 180 L764 183 L775 191 L786 202 L795 206 L805 215 L814 219 L824 226 L835 233 L844 239 L857 248 L864 253 L875 262 L883 266 L891 274 L900 280 L914 285 L922 294 L932 302 L940 308 L947 312 L958 315 L967 327 L978 333 L989 337 L999 347 L1008 351 L1017 356 L1030 364 L1036 369 L1047 379 L1058 387 L1071 395M612 95 L621 101 L629 108 L640 120 L653 125 L663 130 L673 137 L681 146 L691 152 L702 161 L713 165 L725 175 L733 181 L744 191 L755 194 L764 200 L770 208 L783 212 L790 217 L803 227 L815 234 L821 243 L829 246 L840 252 L850 262 L859 265 L869 273 L879 281 L887 288 L899 291 L907 299 L914 306 L926 312 L935 316 L942 324 L953 332 L960 337 L971 344 L981 352 L994 359 L1004 366 L1016 374 L1028 381 L1039 388 L1050 394 L1058 404M603 107 L616 115 L622 121 L631 126 L641 135 L654 142 L664 150 L675 157 L684 165 L691 169 L700 172 L711 181 L721 185 L727 191 L733 198 L742 202 L750 210 L763 217 L772 221 L782 229 L793 236 L804 244 L813 249 L824 259 L833 267 L841 270 L850 275 L862 283 L871 291 L879 295 L885 300 L894 310 L909 316 L923 324 L929 331 L940 339 L948 343 L957 349 L968 359 L976 362 L986 371 L997 380 L1010 385 L1021 394 L1032 402 L1043 410 L1053 417M595 120 L608 127 L615 134 L625 137 L631 142 L639 150 L648 154 L661 160 L670 167 L681 176 L689 180 L695 188 L704 190 L713 196 L722 207 L733 212 L739 218 L748 223 L762 231 L772 239 L783 246 L794 254 L800 260 L809 264 L818 272 L831 278 L839 286 L850 291 L859 302 L871 308 L879 313 L891 320 L901 327 L909 334 L916 341 L930 347 L938 350 L949 360 L957 364 L969 372 L981 382 L992 389 L1003 396 L1012 401 L1018 408 L1032 414 L1044 424M589 128 L598 134 L607 142 L613 150 L624 156 L632 162 L643 169 L651 176 L663 179 L675 188 L688 196 L694 202 L704 210 L715 216 L727 225 L734 230 L743 236 L751 240 L759 248 L766 251 L774 259 L782 263 L795 271 L808 279 L818 286 L827 291 L837 301 L850 309 L857 315 L870 323 L878 329 L890 338 L901 345 L909 348 L915 353 L926 358 L937 369 L947 378 L959 385 L971 392 L982 401 L990 407 L998 411 L1012 418 L1024 428 L1036 434M581 140 L590 150 L601 155 L610 161 L621 171 L630 176 L640 180 L647 186 L657 193 L666 201 L676 207 L685 215 L695 219 L707 227 L719 235 L726 241 L737 247 L744 256 L754 261 L764 267 L774 271 L784 282 L794 286 L805 292 L813 303 L826 309 L833 314 L843 322 L857 329 L862 336 L872 343 L883 350 L894 357 L904 365 L915 373 L927 376 L934 383 L944 391 L953 399 L965 401 L973 411 L981 417 L988 423 L998 429 L1009 436 L1017 442 L1032 448M574 151 L584 162 L597 170 L606 176 L615 179 L623 188 L634 191 L640 197 L647 206 L659 213 L671 220 L684 226 L694 236 L705 243 L714 251 L728 256 L739 266 L745 272 L759 279 L769 285 L776 291 L785 298 L797 304 L808 313 L818 318 L827 328 L839 336 L849 341 L860 348 L865 354 L879 361 L892 368 L902 377 L913 384 L925 391 L933 398 L942 404 L954 413 L966 419 L974 428 L985 437 L997 442 L1008 453 L1023 458M566 162 L573 170 L585 178 L595 183 L604 188 L610 197 L625 202 L635 213 L648 219 L657 228 L668 236 L676 238 L685 245 L697 256 L710 263 L721 272 L729 276 L744 283 L753 291 L765 300 L772 304 L783 312 L789 318 L800 321 L808 331 L821 336 L826 343 L838 347 L848 354 L856 363 L865 368 L876 375 L888 381 L898 390 L906 399 L920 404 L931 413 L941 419 L947 427 L958 431 L971 438 L980 445 L984 453 L995 458 L1003 462 L1009 469 L1015 474M558 173 L567 179 L573 185 L582 193 L593 197 L603 203 L609 209 L622 216 L633 228 L647 236 L655 243 L663 247 L675 255 L688 262 L700 270 L708 278 L722 285 L728 293 L738 297 L744 305 L757 310 L769 322 L780 324 L790 334 L800 337 L806 347 L818 353 L830 360 L842 369 L854 378 L865 387 L878 395 L892 403 L901 408 L908 417 L919 420 L925 427 L938 434 L945 441 L958 448 L968 454 L977 463 L991 470 L1003 480M549 187 L558 191 L570 201 L583 208 L593 217 L601 223 L614 229 L623 238 L632 240 L645 248 L655 256 L664 261 L672 268 L681 277 L694 282 L702 292 L711 297 L720 301 L728 310 L740 314 L751 321 L761 330 L770 337 L779 342 L789 351 L796 357 L811 362 L823 371 L835 379 L846 390 L857 396 L868 404 L877 411 L890 418 L903 426 L911 434 L920 440 L933 446 L941 455 L953 458 L965 467 L972 477 L984 484 L992 487 L998 495M543 195 L553 206 L565 212 L577 221 L583 227 L589 232 L601 238 L608 244 L618 249 L625 254 L637 262 L649 270 L659 278 L668 282 L679 292 L691 300 L703 307 L710 313 L724 319 L732 326 L745 333 L750 341 L763 347 L772 351 L777 360 L784 364 L792 370 L801 375 L813 382 L821 387 L828 395 L839 400 L848 405 L859 416 L871 424 L887 429 L895 436 L907 444 L919 452 L926 458 L939 467 L945 474 L954 479 L964 486 L975 491 L981 499 L990 502M533 210 L544 213 L553 220 L565 229 L576 235 L584 241 L595 251 L609 257 L621 266 L630 273 L637 278 L651 285 L663 295 L671 301 L679 305 L690 313 L702 321 L712 331 L723 337 L732 341 L742 349 L755 356 L761 362 L770 370 L782 376 L788 382 L795 388 L806 396 L817 400 L828 406 L839 417 L852 422 L860 428 L868 435 L881 444 L891 451 L901 456 L911 465 L919 472 L925 477 L935 484 L947 488 L957 495 L967 501 L976 512 L988 517M527 218 L539 229 L549 235 L556 242 L570 245 L580 254 L591 261 L598 270 L610 275 L622 281 L628 288 L637 294 L649 300 L655 308 L667 316 L674 320 L682 323 L688 332 L699 336 L706 341 L718 349 L728 354 L736 359 L746 371 L756 376 L765 383 L774 387 L786 395 L799 404 L805 409 L818 416 L827 424 L841 431 L852 439 L861 450 L874 453 L881 461 L894 470 L901 476 L912 485 L923 492 L937 498 L942 505 L953 513 L967 518 L974 527M519 231 L533 237 L541 243 L549 249 L562 257 L571 265 L583 275 L594 279 L602 285 L615 294 L624 299 L630 306 L640 313 L652 319 L661 328 L675 336 L684 341 L693 351 L702 357 L716 364 L721 371 L730 377 L740 381 L751 386 L760 392 L770 399 L779 408 L791 418 L802 425 L811 431 L821 439 L834 447 L849 452 L860 463 L871 469 L879 476 L889 480 L898 487 L911 495 L920 506 L934 515 L945 522 L957 532 L967 539M512 241 L520 247 L531 253 L540 260 L554 268 L560 274 L571 279 L580 286 L587 294 L595 296 L603 306 L616 312 L625 320 L635 327 L646 331 L659 340 L668 349 L679 354 L685 360 L692 365 L703 369 L711 377 L718 385 L729 387 L736 392 L745 398 L752 408 L761 413 L773 418 L783 424 L792 431 L799 437 L808 442 L816 448 L827 460 L838 462 L845 472 L853 478 L865 481 L872 486 L882 493 L890 501 L902 505 L907 513 L916 517 L925 527 L936 533 L946 540 L958 545M504 253 L511 258 L522 264 L532 270 L539 279 L549 283 L556 287 L567 296 L577 305 L588 313 L603 318 L614 325 L622 336 L634 343 L645 350 L654 354 L662 358 L674 366 L685 374 L695 386 L703 389 L714 396 L721 401 L732 408 L740 414 L748 417 L755 424 L765 429 L778 438 L784 445 L793 452 L806 459 L817 466 L827 476 L839 481 L853 488 L862 500 L871 504 L879 508 L893 516 L900 521 L908 527 L919 537 L929 545 L939 553 L949 557M497 263 L509 272 L519 278 L527 283 L536 293 L549 297 L558 306 L570 312 L576 318 L583 325 L598 330 L608 340 L618 346 L631 353 L641 365 L651 372 L663 379 L674 386 L684 393 L693 397 L702 401 L712 412 L720 418 L731 426 L743 431 L754 438 L763 447 L772 454 L786 461 L795 466 L806 472 L817 481 L825 486 L833 493 L844 500 L851 506 L861 513 L870 519 L884 527 L895 535 L906 543 L916 554 L928 560 L935 565 L948 570M488 276 L502 283 L510 287 L516 293 L529 302 L540 307 L551 316 L558 324 L570 331 L583 337 L593 346 L604 352 L615 358 L623 366 L633 373 L644 381 L658 388 L667 398 L681 404 L688 412 L699 417 L711 426 L719 432 L727 439 L740 447 L752 452 L762 464 L775 472 L783 475 L792 483 L799 489 L810 495 L823 502 L830 509 L839 511 L844 519 L857 526 L867 533 L876 538 L885 544 L896 553 L904 556 L915 566 L926 575 L938 580M481 286 L493 293 L505 304 L519 311 L527 317 L538 326 L546 328 L558 338 L565 343 L576 353 L584 357 L591 362 L603 366 L610 373 L619 383 L630 386 L641 394 L650 403 L663 409 L671 417 L682 424 L691 431 L699 437 L710 441 L715 448 L726 454 L737 458 L745 467 L753 473 L759 478 L774 484 L784 496 L795 500 L808 506 L820 514 L831 522 L838 531 L850 537 L859 541 L867 548 L875 553 L882 559 L889 566 L897 572 L907 579 L920 585 L932 591M473 298 L487 305 L493 312 L501 318 L510 324 L518 326 L531 333 L541 342 L552 349 L558 357 L572 362 L579 367 L587 373 L597 380 L610 388 L618 397 L631 404 L642 410 L649 419 L656 422 L668 432 L676 438 L688 441 L699 451 L713 458 L725 467 L732 471 L741 483 L754 489 L764 494 L774 500 L781 505 L792 517 L800 523 L808 527 L816 531 L828 541 L840 548 L852 556 L864 565 L877 571 L887 582 L895 585 L905 594 L919 600M465 309 L480 315 L485 323 L494 324 L503 330 L516 339 L521 346 L530 353 L544 359 L557 368 L565 374 L574 379 L585 388 L592 397 L603 400 L610 406 L616 412 L625 418 L637 422 L648 434 L660 439 L670 448 L682 453 L691 465 L704 472 L712 477 L724 483 L736 492 L743 497 L755 507 L764 511 L775 522 L786 527 L794 533 L807 540 L819 549 L829 558 L842 563 L855 571 L863 577 L873 586 L887 594 L894 598 L901 607 L910 612 L920 617M460 317 L467 328 L477 332 L489 339 L495 346 L503 348 L514 354 L518 362 L531 369 L543 379 L556 385 L567 393 L577 398 L582 405 L593 413 L603 419 L615 425 L625 431 L635 441 L642 446 L655 451 L666 464 L677 468 L683 474 L696 480 L702 485 L714 493 L724 502 L732 507 L739 513 L748 520 L759 524 L769 531 L781 538 L786 544 L795 548 L803 555 L810 562 L819 568 L830 570 L841 580 L847 586 L860 593 L869 603 L879 607 L893 615 L905 622M451 330 L462 338 L475 344 L486 354 L496 363 L506 370 L519 375 L525 382 L539 389 L546 397 L559 405 L567 410 L577 415 L587 424 L597 431 L603 437 L614 441 L625 450 L638 460 L649 469 L663 473 L672 481 L680 490 L694 498 L708 503 L717 512 L723 519 L730 524 L745 531 L752 536 L757 543 L770 546 L780 556 L791 561 L802 573 L815 581 L829 588 L841 596 L848 603 L859 608 L868 615 L878 624 L891 630 L900 636M442 343 L452 346 L462 352 L472 362 L481 366 L490 376 L498 380 L510 389 L525 396 L531 404 L541 409 L551 416 L560 418 L565 427 L573 429 L580 436 L590 444 L602 452 L611 456 L624 464 L635 473 L643 481 L651 484 L662 493 L670 497 L678 503 L686 507 L696 513 L703 521 L714 526 L723 534 L734 541 L746 551 L755 554 L766 560 L774 566 L783 573 L789 579 L802 585 L809 591 L821 598 L830 609 L841 612 L849 621 L860 624 L868 631 L874 638 L882 642 L892 646M436 352 L444 359 L455 364 L462 371 L473 380 L482 385 L491 391 L498 397 L507 403 L521 409 L531 421 L540 425 L554 431 L564 439 L574 446 L582 455 L591 459 L599 464 L607 469 L616 476 L626 484 L633 488 L646 498 L657 505 L668 508 L673 518 L684 522 L694 526 L704 533 L714 544 L722 547 L730 552 L737 558 L748 563 L759 574 L773 582 L782 592 L792 598 L800 603 L808 609 L822 616 L829 623 L838 629 L847 636 L857 643 L868 649 L879 658M428 363 L438 372 L448 375 L458 383 L470 390 L481 397 L488 402 L497 408 L505 419 L518 423 L528 435 L537 441 L551 444 L557 450 L570 459 L581 470 L594 478 L602 484 L610 487 L617 495 L629 499 L636 504 L644 512 L649 518 L662 522 L671 533 L681 534 L688 542 L700 550 L707 556 L720 565 L728 570 L739 577 L748 583 L757 590 L764 595 L778 603 L787 608 L794 615 L806 620 L815 627 L823 633 L834 641 L843 645 L849 653 L861 658 L869 666 L876 671M421 374 L432 380 L441 388 L448 393 L460 404 L470 411 L482 417 L491 422 L500 427 L510 436 L522 442 L533 453 L544 458 L556 466 L569 474 L578 482 L591 490 L602 497 L613 509 L626 513 L635 519 L642 528 L651 530 L659 538 L667 543 L679 552 L687 559 L699 565 L711 575 L723 582 L730 588 L742 596 L753 602 L765 609 L773 618 L786 626 L793 630 L799 636 L810 643 L823 648 L831 657 L839 663 L848 666 L858 671 L866 680M412 388 L425 393 L437 403 L450 409 L459 416 L467 425 L476 428 L482 435 L492 441 L504 446 L513 455 L526 462 L535 470 L541 476 L550 481 L558 487 L573 493 L579 501 L589 505 L597 513 L609 521 L617 526 L624 531 L636 537 L642 544 L653 553 L660 557 L673 562 L678 570 L687 573 L695 579 L703 585 L715 592 L721 597 L729 605 L740 608 L749 615 L755 621 L763 628 L773 630 L781 639 L794 648 L807 656 L819 663 L828 672 L835 676 L845 683 L856 687M406 395 L415 406 L426 411 L438 418 L451 426 L464 434 L475 444 L486 451 L495 461 L504 465 L511 471 L519 474 L526 481 L534 487 L548 492 L559 504 L570 512 L580 515 L587 524 L601 529 L608 537 L619 542 L626 547 L635 553 L643 560 L655 568 L664 572 L669 581 L678 585 L689 589 L698 598 L705 603 L718 611 L726 620 L738 627 L748 633 L758 637 L767 643 L773 651 L781 656 L790 660 L803 670 L813 678 L821 681 L827 688 L838 696 L851 699" stroke="#fff" stroke-width="4" stroke-linecap="round" stroke-linejoin="round" fill="none" opacity="0.3"/>
<path d="M608 238h0M926 189h0M745 390h0M964 348h0M986 148h0M663 446h0M835 177h0M919 265h0M627 261h0M998 268h0M798 228h0M818 184h0M742 278h0M888 456h0M690 174h0M714 308h0M832 440h0M950 154h0M860 346h0M698 214h0M605 154h0M849 236h0M884 342h0M759 437h0M967 204h0M678 283h0M717 146h0M721 213h0M788 450h0M624 198h0M904 306h0M917 332h0M689 419h0M616 357h0M653 395h0M609 202h0M978 367h0M967 414h0M1008 211h0M771 428h0M781 396h0M745 360h0M948 368h0M972 237h0M768 381h0M865 396h0M852 172h0M1006 181h0M812 323h0M787 193h0M825 333h0M913 213h0M875 210h0M810 343h0M804 416h0M728 413h0M849 315h0M998 223h0M607 361h0M682 366h0M629 393h0M922 284h0M620 158h0M816 437h0M928 239h0M910 259h0M844 265h0M698 234h0M794 381h0M649 218h0M812 351h0M780 155h0M908 148h0M867 263h0M1000 448h0M874 334h0M600 379h0M703 327h0M679 382h0M874 166h0M977 437h0M840 322h0M694 344h0M836 340h0M740 179h0M670 390h0M982 275h0M980 406h0M650 439h0M725 325h0M908 390h0M721 259h0M657 154h0M996 204h0M699 425h0M658 366h0M928 221h0M953 403h0M776 186h0M988 298h0M978 353h0M879 159h0M791 390h0M950 307h0M710 207h0M757 155h0M811 372h0M740 436h0M918 315h0M631 365h0M604 166h0M931 265h0M1008 345h0M633 302h0M920 170h0M881 290h0M888 440h0M793 288h0M641 401h0M1007 282h0M719 295h0M979 205h0M970 385h0M728 153h0M717 379h0M898 267h0M707 240h0M633 317h0M886 144h0M628 296h0M990 184h0M947 183h0M845 167h0M986 246h0M1007 374h0M706 154h0M656 249h0M650 178h0M900 448h0M843 411h0M712 253h0M801 200h0M963 228h0M794 152h0M967 187h0M641 289h0M954 239h0M923 439h0M986 375h0M832 287h0M819 245h0M779 370h0M775 330h0M850 413h0M639 158h0M641 418h0M902 222h0M849 221h0M1007 265h0M1010 361h0M654 378h0M617 274h0M684 152h0M860 271h0M663 349h0M876 352h0M888 198h0M960 147h0M664 192h0M643 274h0M628 281h0M783 175h0M872 366h0M826 416h0M710 438h0M626 227h0M693 358h0M1007 289h0M675 248h0M847 348h0M956 421h0M727 317h0M809 399h0M750 332h0M687 453h0M780 253h0M954 276h0M888 181h0M602 196h0M778 412h0M823 345h0M1011 145h0M667 204h0M931 370h0M632 252h0M989 218h0M820 161h0M773 233h0M733 353h0M704 369h0M681 170h0M867 213h0M598 244h0M843 277h0M701 414h0M961 377h0M831 356h0M745 231h0M684 268h0M664 285h0" stroke="#5c4cd2" stroke-width="6.8" stroke-linecap="round" fill="none" opacity="0.81"/>
<path d="M608 235h0M927 189h0M744 391h0M965 347h0M988 151h0M661 446h0M834 175h0M918 266h0M628 263h0M996 267h0M799 230h0M819 183h0M743 276h0M887 458h0M692 175h0M716 308h0M835 440h0M950 156h0M859 344h0M697 216h0M603 152h0M849 234h0M886 344h0M760 438h0M967 202h0M676 284h0M717 149h0M722 214h0M787 452h0M624 196h0M904 307h0M916 330h0M688 419h0M617 359h0M650 397h0M610 202h0M976 366h0M966 414h0M1007 213h0M773 430h0M781 398h0M744 362h0M949 368h0M974 236h0M768 379h0M867 397h0M854 171h0M1007 181h0M810 322h0M788 192h0M823 335h0M911 213h0M874 208h0M813 342h0M802 418h0M726 414h0M849 317h0M1000 224h0M607 362h0M680 368h0M630 395h0M920 285h0M620 157h0M814 437h0M927 238h0M911 260h0M846 265h0M698 231h0M793 379h0M648 215h0M811 353h0M781 157h0M907 149h0M868 265h0M1001 451h0M873 335h0M602 377h0M702 325h0M680 383h0M872 166h0M976 435h0M841 324h0M694 342h0M834 339h0M741 180h0M668 391h0M980 276h0M978 405h0M649 438h0M724 326h0M909 391h0M721 260h0M656 154h0M994 203h0M699 424h0M660 366h0M926 220h0M954 404h0M777 187h0M990 299h0M977 352h0M882 159h0M790 391h0M951 307h0M710 205h0M759 153h0M809 371h0M739 435h0M917 315h0M633 364h0M602 167h0M933 263h0M1010 346h0M635 301h0M921 170h0M878 291h0M887 442h0M793 291h0M642 404h0M1008 280h0M718 292h0M979 207h0M971 384h0M730 152h0M717 376h0M898 265h0M708 239h0M634 319h0M885 145h0M629 294h0M991 185h0M946 184h0M846 168h0M987 244h0M1007 375h0M707 155h0M654 249h0M650 180h0M902 448h0M841 411h0M710 252h0M802 202h0M963 230h0M796 152h0M967 185h0M640 288h0M952 239h0M924 436h0M984 374h0M830 286h0M820 247h0M780 368h0M775 332h0M852 414h0M640 160h0M639 417h0M901 223h0M847 222h0M1009 263h0M1009 359h0M656 379h0M618 274h0M684 150h0M858 270h0M661 347h0M875 353h0M890 197h0M960 148h0M662 192h0M643 273h0M627 280h0M782 174h0M869 366h0M828 415h0M712 437h0M625 228h0M694 359h0M1007 291h0M673 247h0M849 347h0M954 420h0M729 317h0M807 399h0M751 331h0M686 452h0M781 252h0M955 277h0M890 181h0M601 197h0M777 412h0M821 345h0M1009 146h0M664 203h0M933 372h0M635 252h0M990 218h0M821 163h0M773 235h0M731 352h0M706 369h0M681 168h0M866 212h0M596 244h0M841 278h0M699 413h0M961 376h0M832 357h0M746 232h0M682 269h0M664 287h0" stroke="#5c4cd2" stroke-width="8.5" stroke-linecap="round" fill="none" opacity="0.9"/>
<path d="M843 294h0M968 314h0M644 256h0M745 241h0M849 429h0M830 152h0M966 459h0M803 158h0M879 402h0M602 293h0M809 142h0M676 456h0M684 206h0M766 402h0M660 432h0M962 432h0M1000 437h0M714 191h0M813 404h0M886 227h0M739 321h0M612 248h0M614 335h0M854 207h0M857 190h0M784 270h0M673 371h0M626 213h0M661 304h0M894 169h0M825 218h0M772 445h0M902 320h0M596 327h0M955 294h0M937 142h0M945 253h0M929 391h0M995 368h0M664 156h0M803 284h0M928 356h0M716 322h0M878 416h0M634 232h0M812 451h0M651 293h0M907 274h0M657 171h0M686 303h0M885 257h0M894 410h0M897 154h0M606 182h0M1002 327h0M726 423h0M760 206h0M706 164h0M940 302h0M958 163h0M885 387h0M887 312h0M872 235h0M898 250h0M854 301h0M839 180h0M642 171h0M997 172h0M894 302h0M735 270h0M898 433h0M727 182h0M932 178h0M796 262h0M835 246h0M849 152h0M809 259h0M817 423h0M822 263h0M645 456h0M614 431h0M974 342h0M839 422h0M645 242h0M931 308h0M765 423h0M876 153h0M620 329h0M694 437h0M797 249h0M822 320h0M907 190h0M737 237h0M636 428h0M935 459h0M992 282h0M772 351h0M904 173h0M961 246h0M637 203h0M1008 392h0M903 286h0M690 406h0M940 314h0M647 357h0M896 239h0M643 387h0M925 253h0M647 429h0M763 307h0M696 258h0M915 408h0M659 223h0M660 319h0M886 358h0M878 301h0M898 351h0M627 307h0M974 454h0M866 183h0M968 166h0M684 252h0M979 295h0M953 320h0M924 205h0M733 166h0M909 442h0M920 198h0M771 265h0M678 200h0M915 385h0M772 198h0M912 359h0M957 389h0M909 160h0M604 279h0M786 180h0M1003 355h0M817 283h0M646 327h0M996 402h0M1010 405h0M965 212h0M667 228h0M898 281h0M871 280h0M983 392h0M630 166h0M925 341h0M748 219h0M1000 342h0M822 151h0M615 386h0M677 292h0M769 165h0M861 227h0M798 446h0M747 342h0M927 420h0M852 400h0M631 338h0M823 231h0M753 251h0M755 385h0M726 343h0M611 185h0M787 340h0M689 288h0M914 298h0M786 236h0M918 151h0M679 351h0M794 168h0M986 263h0M993 313h0M988 229h0M986 162h0M950 211h0M861 256h0M833 259h0M787 207h0M638 221h0M864 441h0M825 187h0M818 374h0M1005 308h0M647 338h0M891 427h0M599 427h0M728 396h0M988 443h0M946 265h0M774 215h0M636 349h0M706 394h0M600 311h0M735 223h0M696 459h0M634 151h0M866 295h0M977 322h0M787 312h0M953 440h0M770 148h0M808 270h0M820 393h0M972 299h0M724 229h0M934 446h0M617 260h0" stroke="#4e3ec2" stroke-width="6.0" stroke-linecap="round" fill="none" opacity="0.81"/>
<path d="M841 294h0M968 316h0M644 258h0M745 243h0M850 431h0M832 155h0M964 458h0M805 157h0M878 400h0M600 293h0M810 145h0M674 456h0M686 206h0M765 404h0M659 431h0M963 430h0M1002 437h0M715 190h0M814 406h0M885 229h0M739 324h0M609 248h0M612 335h0M851 207h0M854 190h0M783 270h0M670 372h0M625 214h0M661 303h0M893 171h0M824 217h0M773 444h0M902 322h0M597 326h0M953 294h0M938 144h0M946 254h0M930 389h0M997 369h0M666 157h0M805 284h0M927 354h0M714 321h0M879 417h0M636 234h0M813 452h0M650 294h0M907 272h0M656 169h0M686 305h0M883 259h0M893 411h0M899 154h0M605 182h0M1003 326h0M726 426h0M762 206h0M706 166h0M939 301h0M959 163h0M883 387h0M889 311h0M872 234h0M896 249h0M853 302h0M842 180h0M643 171h0M995 172h0M893 300h0M734 268h0M899 432h0M729 183h0M930 178h0M794 263h0M834 245h0M847 152h0M811 258h0M815 424h0M820 262h0M646 456h0M612 431h0M975 341h0M841 421h0M644 240h0M932 306h0M765 421h0M874 152h0M622 328h0M695 439h0M798 250h0M824 320h0M904 191h0M737 239h0M635 430h0M936 459h0M992 284h0M771 349h0M907 173h0M962 244h0M635 204h0M1006 391h0M904 288h0M688 407h0M939 313h0M645 358h0M898 239h0M643 388h0M925 255h0M648 427h0M764 309h0M697 257h0M916 411h0M659 222h0M662 318h0M888 356h0M880 302h0M900 352h0M626 308h0M974 455h0M868 184h0M969 169h0M684 250h0M981 294h0M951 321h0M925 205h0M731 168h0M912 442h0M919 200h0M771 264h0M677 199h0M917 384h0M774 200h0M910 361h0M958 390h0M909 158h0M605 277h0M789 181h0M1002 355h0M816 282h0M648 328h0M997 402h0M1008 407h0M965 213h0M669 226h0M896 283h0M869 281h0M982 394h0M630 164h0M924 339h0M749 217h0M999 340h0M822 152h0M615 387h0M678 294h0M769 163h0M861 226h0M798 444h0M748 344h0M928 418h0M852 399h0M632 336h0M822 232h0M756 251h0M755 386h0M725 342h0M614 186h0M788 341h0M691 289h0M915 296h0M786 238h0M920 151h0M681 351h0M793 165h0M984 263h0M994 314h0M987 231h0M983 162h0M951 209h0M859 255h0M834 257h0M786 208h0M637 219h0M865 441h0M826 186h0M817 375h0M1004 307h0M645 339h0M892 426h0M597 426h0M726 396h0M991 443h0M948 266h0M774 216h0M634 349h0M704 395h0M602 311h0M734 226h0M695 457h0M633 149h0M868 295h0M978 321h0M787 311h0M953 438h0M769 147h0M807 269h0M820 395h0M970 301h0M726 229h0M936 446h0M616 258h0" stroke="#4e3ec2" stroke-width="7.5" stroke-linecap="round" fill="none" opacity="0.9"/>
<path d="M804 172h0M975 254h0M655 197h0M930 325h0M831 304h0M611 417h0M707 350h0M675 184h0M876 430h0M736 404h0M937 329h0M987 333h0M980 423h0M676 396h0M901 418h0M842 197h0M911 226h0M779 303h0M685 239h0M707 269h0M934 361h0M863 327h0M801 306h0M997 143h0M923 398h0M702 187h0M719 392h0M625 440h0M824 364h0M994 162h0M647 312h0M1003 424h0M815 310h0M895 364h0M859 361h0M691 318h0M948 337h0M764 192h0M944 171h0M611 302h0M738 211h0M800 361h0M904 405h0M844 249h0M841 394h0M752 198h0M671 342h0M751 414h0M690 376h0M955 196h0M802 386h0M731 381h0M750 285h0M818 194h0M835 455h0M939 202h0M988 346h0M835 405h0M834 228h0M864 197h0M948 281h0M996 416h0M727 299h0M870 252h0M621 426h0M965 284h0M718 250h0M710 449h0M661 422h0M660 230h0M792 412h0M901 204h0M641 193h0M713 224h0M690 277h0M709 334h0M704 286h0M811 241h0M784 425h0M659 334h0M759 368h0M909 341h0M642 375h0M1010 248h0M611 446h0M750 434h0M918 183h0M975 310h0M845 378h0M760 453h0M969 399h0M879 191h0M835 312h0M855 387h0M712 424h0M875 453h0M753 269h0M615 218h0M604 263h0M930 158h0M714 178h0M849 333h0M674 428h0M882 368h0M814 224h0M997 388h0M619 453h0M759 339h0M755 399h0M729 371h0M637 445h0M798 280h0M692 190h0M827 435h0M630 380h0M670 209h0M671 258h0M950 450h0M757 184h0M777 315h0M860 371h0M764 387h0M937 426h0M943 396h0M870 409h0M665 401h0M851 446h0M719 442h0M882 274h0M736 196h0M861 244h0M613 171h0M1000 241h0M598 225h0M958 355h0M597 457h0M774 246h0M937 244h0M735 340h0M815 208h0M877 320h0M744 157h0M768 181h0M869 426h0M833 271h0M848 364h0M962 440h0M859 159h0M722 458h0M826 199h0M992 427h0M666 178h0M735 252h0M914 425h0M959 182h0M921 369h0M768 290h0M793 347h0M911 243h0M670 439h0M761 321h0M736 453h0M750 303h0M719 280h0M853 292h0M706 385h0M967 153h0M698 298h0M892 392h0M617 402h0M838 370h0M742 293h0M803 332h0M624 412h0M674 410h0M653 281h0M671 277h0M892 380h0M830 388h0M650 409h0" stroke="#7060da" stroke-width="5.6" stroke-linecap="round" fill="none" opacity="0.77"/>
<path d="M806 173h0M973 253h0M652 198h0M930 323h0M828 304h0M611 416h0M708 348h0M677 184h0M878 431h0M737 404h0M939 328h0M988 334h0M981 425h0M678 396h0M903 418h0M843 197h0M912 228h0M778 302h0M684 238h0M705 270h0M935 361h0M863 326h0M801 304h0M999 144h0M921 398h0M701 186h0M716 392h0M625 439h0M822 365h0M994 160h0M648 313h0M1003 423h0M815 312h0M894 365h0M860 360h0M689 319h0M949 339h0M765 194h0M944 169h0M612 300h0M737 209h0M799 362h0M906 404h0M846 247h0M840 396h0M751 199h0M670 340h0M749 415h0M692 375h0M955 193h0M804 385h0M732 381h0M752 285h0M818 193h0M837 456h0M940 200h0M987 345h0M832 404h0M836 227h0M866 195h0M946 281h0M993 415h0M726 298h0M871 251h0M624 426h0M967 285h0M718 248h0M711 449h0M661 421h0M661 232h0M791 410h0M903 203h0M640 192h0M714 223h0M692 277h0M708 336h0M703 284h0M810 241h0M786 425h0M660 334h0M759 367h0M910 341h0M641 374h0M1010 245h0M611 447h0M751 432h0M919 181h0M977 310h0M846 376h0M760 454h0M966 400h0M881 190h0M838 311h0M858 387h0M713 422h0M874 451h0M754 267h0M613 218h0M602 262h0M932 159h0M713 179h0M849 336h0M676 426h0M882 371h0M813 223h0M998 387h0M620 455h0M759 338h0M754 398h0M731 370h0M637 446h0M796 280h0M691 192h0M827 434h0M632 379h0M671 211h0M671 260h0M951 451h0M756 186h0M776 313h0M860 373h0M765 388h0M937 428h0M941 396h0M867 409h0M665 403h0M849 445h0M721 444h0M881 275h0M737 194h0M859 242h0M614 170h0M998 241h0M596 224h0M958 358h0M596 456h0M774 248h0M939 244h0M734 339h0M816 209h0M878 322h0M743 159h0M767 179h0M867 424h0M832 273h0M847 363h0M961 442h0M860 159h0M719 459h0M827 201h0M992 428h0M668 178h0M735 251h0M913 427h0M957 181h0M923 368h0M767 292h0M795 348h0M910 242h0M672 440h0M763 322h0M737 454h0M752 302h0M718 279h0M855 291h0M708 384h0M970 153h0M699 297h0M894 393h0M615 401h0M836 370h0M744 292h0M802 333h0M625 412h0M674 409h0M654 280h0M670 275h0M893 378h0M830 385h0M649 411h0" stroke="#7060da" stroke-width="7" stroke-linecap="round" fill="none" opacity="0.85"/>
<path d="M772 382h0M685 347h0M890 235h0M745 156h0M658 237h0M944 242h0M763 305h0M972 267h0M975 175h0M933 256h0M822 246h0M617 347h0M646 151h0M618 371h0M632 169h0M994 347h0M637 224h0M872 199h0M848 277h0M688 450h0M719 223h0M643 215h0M660 251h0M621 188h0M784 222h0M923 314h0M836 310h0M712 232h0M910 252h0M779 361h0M950 376h0M832 202h0M663 191h0M937 164h0M619 296h0M943 406h0M998 370h0M677 336h0M959 154h0M608 209h0M667 152h0M971 158h0M718 220h0M793 434h0M720 429h0M968 453h0M721 431h0M733 280h0M797 319h0M916 450h0M841 392h0M653 346h0M721 318h0M830 373h0M615 245h0M934 197h0M626 417h0M650 380h0M885 153h0M896 413h0M917 233h0M802 274h0M692 344h0M723 414h0M632 300h0M675 253h0M709 442h0M663 374h0M942 253h0M609 449h0M724 270h0M663 344h0M968 233h0M618 377h0M730 439h0M753 297h0M970 260h0M791 279h0M713 169h0M839 318h0M785 384h0M805 302h0M989 243h0M666 412h0M940 156h0M985 296h0M656 349h0M843 406h0M988 245h0M655 381h0M696 304h0M868 185h0M894 277h0M775 273h0M620 232h0M788 292h0M800 197h0M924 423h0M775 318h0M684 413h0M872 324h0M671 209h0M833 149h0M833 262h0M870 321h0M868 310h0M809 407h0M952 369h0M825 326h0M765 222h0M794 193h0M661 311h0M1001 149h0M707 261h0M950 363h0M918 268h0M762 184h0M699 337h0M924 307h0M841 393h0M735 232h0M811 225h0M662 388h0M979 452h0M773 367h0M680 235h0M932 225h0M962 170h0M847 160h0M728 273h0M807 375h0M1003 339h0M614 375h0M713 440h0M852 275h0M788 318h0M670 184h0M605 407h0M625 337h0M659 415h0M1006 397h0M865 150h0M749 314h0M761 159h0M676 415h0M768 280h0M796 240h0M682 277h0M919 290h0M778 306h0M987 292h0M800 240h0M771 255h0M700 374h0M629 276h0M915 161h0M863 357h0M961 166h0M704 325h0M999 301h0M765 327h0M655 276h0M970 343h0M757 330h0M622 279h0M884 327h0M616 316h0M883 253h0M629 266h0M906 422h0M920 447h0M718 173h0M643 377h0M845 422h0M779 442h0M991 403h0M935 303h0M770 374h0M813 185h0M732 345h0M976 294h0M778 448h0M672 253h0M668 175h0M689 430h0M758 301h0M700 433h0M616 210h0M867 420h0M856 401h0M740 314h0M801 307h0M842 419h0M948 266h0M736 362h0M939 174h0M722 426h0M614 324h0M933 166h0M684 228h0M665 265h0M844 436h0M605 351h0M912 444h0M685 370h0M775 214h0M880 232h0M989 412h0M923 431h0M786 426h0M616 384h0M717 260h0M872 300h0M607 213h0M837 381h0M650 258h0M957 423h0M615 351h0M836 150h0M854 353h0M726 380h0M688 278h0M984 319h0M795 158h0M975 432h0M681 252h0M816 351h0M684 150h0M1001 348h0M735 398h0M833 198h0M706 200h0M921 314h0M758 356h0M807 363h0M662 325h0M879 309h0M846 159h0M754 214h0M821 369h0M985 344h0M673 367h0M1002 442h0M605 201h0M775 386h0M604 397h0M680 373h0M988 238h0M610 355h0M980 172h0M865 229h0M893 282h0M610 341h0M932 358h0M804 332h0M697 272h0M784 286h0M898 247h0M755 281h0M908 451h0M706 269h0M689 303h0M968 386h0M780 415h0M693 348h0M829 182h0M982 239h0M649 167h0M857 319h0M712 455h0M832 355h0M649 226h0M645 387h0M744 198h0M890 337h0M909 368h0M645 254h0M717 412h0M835 395h0M963 259h0M613 178h0M920 373h0M901 406h0M1001 163h0M613 253h0M988 168h0M797 285h0M988 293h0M965 279h0M906 397h0M656 201h0M775 306h0M666 384h0M794 179h0M678 293h0M699 376h0M958 296h0M895 229h0M971 184h0M957 170h0M687 211h0M908 230h0M795 209h0M684 311h0M868 354h0M999 323h0M995 363h0M791 295h0M985 229h0M802 331h0M831 300h0M631 295h0M775 350h0M753 409h0M740 257h0M977 429h0M990 322h0M713 329h0M893 348h0M855 219h0M790 245h0M1005 295h0M822 316h0M889 149h0M888 399h0M981 238h0M956 160h0M603 261h0M868 310h0M869 267h0M738 442h0M816 170h0M944 279h0M641 397h0M788 365h0M944 371h0M616 180h0M918 425h0M619 197h0M742 241h0M645 280h0M850 350h0M793 349h0M661 159h0M834 175h0M1004 170h0M709 256h0M916 394h0M766 413h0M921 181h0" stroke="#3a3070" stroke-width="2.5" stroke-linecap="round" fill="none" opacity="0.55"/>
<ellipse cx="850" cy="360" rx="230" ry="150" fill="url(#rgt2850)"/>
<ellipse cx="990" cy="160" rx="120" ry="90" fill="url(#rgt2990)"/>
</g></g>
<g clip-path="url(#cpt3)"><g filter="url(#blt3)">
<rect x="165" y="479" width="410" height="305" fill="#fbf0f8" filter="url(#bgt3)"/>
<path d="M370 227 L379 236 L387 246 L396 249 L406 260 L410 269 L420 277 L429 284 L436 290 L447 300 L457 310 L463 316 L473 323 L478 331 L487 339 L498 349 L510 358 L520 368 L530 380 L539 384 L544 393 L553 400 L561 406 L570 413 L578 423 L589 434 L600 445 L612 455 L618 462 L630 473 L639 481 L646 488 L657 494 L661 502 L676 510 L685 521 L692 527 L701 539 L708 544 L713 550 L721 558 L733 567 L746 577 L751 584 L759 588 L765 597 L774 602M361 237 L371 250 L380 256 L388 264 L398 273 L406 283 L417 289 L428 298 L433 308 L443 315 L449 320 L460 327 L467 338 L474 344 L482 352 L490 359 L502 366 L506 374 L519 384 L527 393 L535 399 L543 406 L552 415 L559 424 L566 429 L577 437 L582 446 L591 450 L598 460 L606 465 L612 474 L620 482 L629 486 L637 497 L647 503 L653 510 L659 518 L672 525 L677 534 L687 543 L697 548 L702 558 L711 563 L719 571 L726 581 L736 584 L744 597 L757 607M350 249 L358 255 L369 264 L379 271 L387 278 L392 285 L399 293 L405 299 L415 309 L426 319 L438 324 L448 334 L454 343 L463 351 L474 362 L483 368 L493 379 L504 388 L511 395 L522 404 L530 416 L541 426 L548 431 L561 439 L567 447 L576 455 L583 465 L592 468 L598 474 L601 483 L615 490 L623 499 L631 506 L640 516 L649 522 L657 529 L664 540 L674 545 L680 552 L688 563 L696 570 L707 578 L715 585 L725 594 L735 604 L742 611 L753 618M343 256 L352 269 L360 276 L373 283 L382 291 L391 303 L401 313 L411 322 L423 328 L432 337 L436 346 L445 349 L449 358 L458 361 L469 372 L478 384 L488 395 L497 403 L504 408 L513 416 L519 423 L533 431 L539 440 L550 448 L557 455 L565 466 L574 472 L583 479 L592 486 L598 497 L607 504 L614 510 L624 520 L634 528 L642 538 L651 541 L659 554 L669 560 L680 569 L687 576 L696 585 L702 593 L715 602 L725 612 L735 623 L744 628M334 266 L343 273 L350 281 L361 290 L372 302 L381 310 L391 322 L401 329 L410 340 L419 347 L431 357 L439 362 L447 373 L458 385 L468 389 L475 396 L483 408 L496 416 L507 426 L514 435 L522 439 L532 450 L539 458 L551 465 L557 474 L567 481 L574 493 L583 499 L591 504 L601 512 L609 526 L616 532 L624 539 L636 546 L645 557 L657 565 L664 577 L676 585 L682 591 L689 599 L700 608 L706 614 L718 622 L727 634 L733 641M325 275 L335 286 L343 294 L353 301 L361 306 L369 318 L378 327 L387 332 L393 342 L401 346 L407 354 L416 360 L424 368 L435 377 L447 387 L454 394 L458 402 L470 409 L477 417 L485 428 L496 436 L504 442 L510 449 L521 456 L526 465 L532 471 L542 482 L552 488 L561 497 L572 508 L579 515 L589 523 L601 530 L609 542 L618 549 L628 556 L638 564 L644 574 L653 582 L663 594 L670 600 L682 606 L690 614 L695 621 L707 631 L717 642 L723 649M314 287 L325 296 L333 303 L344 314 L353 321 L364 327 L370 333 L376 340 L383 350 L393 357 L403 366 L410 375 L421 381 L430 393 L439 399 L447 408 L456 413 L461 422 L469 427 L477 433 L483 440 L491 445 L497 452 L506 459 L511 466 L518 475 L525 480 L535 486 L545 497 L551 504 L557 511 L567 517 L571 525 L578 532 L586 540 L596 545 L602 554 L613 561 L618 568 L630 579 L638 582 L644 589 L650 594 L657 606 L664 613 L673 620 L684 631 L692 634 L699 646 L708 649 L719 658M307 294 L315 306 L323 311 L333 321 L341 330 L351 336 L357 344 L368 350 L373 358 L382 367 L391 373 L397 380 L404 385 L414 396 L421 400 L431 411 L441 423 L449 431 L462 438 L470 444 L476 455 L483 460 L492 464 L501 474 L507 479 L515 490 L522 494 L534 505 L542 514 L552 524 L563 534 L571 539 L575 547 L584 550 L595 562 L607 572 L615 580 L624 591 L633 601 L646 610 L655 619 L660 626 L669 635 L677 640 L685 649 L693 654 L703 661M297 305 L306 313 L317 320 L322 330 L332 336 L339 341 L343 350 L353 359 L366 369 L378 379 L384 388 L396 399 L405 406 L412 415 L426 422 L438 433 L442 441 L451 447 L462 454 L471 464 L479 472 L488 483 L498 488 L504 496 L512 501 L520 513 L531 525 L544 533 L551 539 L559 548 L568 555 L579 565 L586 575 L598 583 L604 592 L612 595 L620 605 L628 609 L633 618 L641 627 L651 637 L660 640 L665 646 L674 652 L683 660 L690 668 L700 679M291 313 L297 322 L306 333 L319 340 L324 348 L335 357 L345 367 L354 373 L359 380 L369 391 L378 398 L389 409 L400 417 L409 424 L415 432 L427 443 L436 450 L443 459 L451 468 L460 472 L468 480 L478 492 L490 502 L496 507 L505 515 L512 523 L525 531 L534 542 L541 552 L553 561 L559 569 L568 573 L579 583 L584 592 L598 601 L606 608 L613 614 L625 624 L632 632 L637 639 L646 649 L656 658 L664 662 L676 672 L682 680 L689 687M281 323 L293 333 L304 344 L314 356 L325 363 L329 371 L338 376 L346 388 L352 394 L363 400 L370 407 L382 417 L389 423 L395 430 L407 439 L411 449 L422 460 L432 464 L443 475 L453 484 L459 490 L468 501 L478 508 L487 516 L495 526 L503 532 L513 543 L520 550 L533 557 L541 564 L544 573 L553 580 L562 583 L570 596 L582 607 L591 615 L598 621 L608 627 L617 636 L626 645 L633 652 L641 663 L652 673 L665 681 L677 692 L682 699M272 333 L282 342 L292 353 L301 361 L310 373 L321 379 L332 387 L338 398 L351 404 L360 416 L372 426 L379 434 L390 444 L400 455 L409 461 L418 469 L425 478 L436 488 L444 493 L451 501 L459 506 L466 514 L471 520 L483 531 L492 541 L502 552 L512 559 L517 565 L527 571 L539 581 L544 590 L556 596 L561 602 L565 609 L574 614 L581 622 L589 630 L600 639 L604 647 L617 653 L623 663 L637 671 L642 678 L649 688 L661 696 L669 704M263 342 L272 349 L282 358 L291 370 L302 377 L308 385 L318 396 L325 404 L336 412 L344 417 L355 427 L363 437 L370 445 L381 456 L393 463 L399 470 L407 476 L418 486 L426 499 L433 505 L444 510 L451 516 L459 525 L468 537 L476 541 L484 548 L492 555 L501 564 L508 570 L515 579 L522 587 L529 593 L541 600 L550 610 L558 619 L568 628 L573 635 L585 644 L595 652 L605 664 L612 671 L625 680 L636 691 L642 698 L650 706 L661 712M252 354 L262 361 L273 371 L281 379 L293 388 L298 396 L308 403 L318 415 L326 424 L338 433 L348 437 L355 449 L364 456 L374 463 L383 474 L392 480 L401 489 L411 498 L420 505 L426 514 L435 519 L443 527 L452 535 L457 543 L467 554 L478 561 L484 566 L490 576 L496 582 L507 588 L512 597 L520 602 L531 609 L535 618 L546 627 L560 635 L567 647 L576 653 L588 663 L598 672 L608 681 L616 690 L626 701 L635 709 L643 718 L651 724M245 362 L252 367 L261 376 L270 386 L281 398 L292 406 L298 412 L307 423 L316 427 L326 440 L335 448 L342 454 L352 463 L360 468 L367 479 L377 482 L380 491 L390 497 L401 509 L408 516 L415 520 L426 529 L430 536 L437 544 L444 550 L452 557 L461 565 L470 570 L477 580 L486 586 L495 593 L501 602 L510 610 L520 615 L525 622 L531 629 L538 637 L547 645 L558 654 L567 661 L572 669 L583 675 L592 687 L602 695 L607 703 L616 707 L628 717 L636 727 L642 735M237 370 L246 378 L253 390 L267 398 L276 408 L284 416 L293 422 L302 431 L314 442 L325 453 L329 461 L338 469 L347 477 L354 483 L362 492 L370 495 L377 507 L386 514 L397 521 L405 530 L412 534 L422 544 L431 552 L437 561 L446 571 L457 577 L466 583 L471 592 L482 600 L489 605 L495 613 L501 622 L512 628 L521 635 L529 647 L537 654 L546 659 L553 666 L561 676 L573 684 L582 695 L590 702 L600 709 L606 718 L616 729 L623 735 L634 744M228 380 L236 393 L243 398 L256 407 L264 419 L275 424 L280 434 L290 439 L297 450 L307 453 L317 465 L323 475 L334 478 L344 489 L349 499 L356 505 L366 510 L373 518 L382 526 L391 534 L400 546 L411 555 L419 559 L426 565 L435 578 L448 588 L454 593 L459 601 L469 605 L480 616 L491 627 L502 635 L512 646 L519 655 L529 662 L535 669 L540 676 L550 681 L558 688 L564 696 L573 703 L580 711 L591 720 L601 730 L609 735 L618 746 L626 754M218 390 L226 398 L231 404 L240 412 L249 420 L260 428 L272 439 L282 449 L292 459 L298 466 L308 477 L318 488 L326 491 L332 499 L340 507 L350 517 L360 526 L372 532 L383 542 L387 551 L395 557 L402 561 L413 570 L419 581 L427 587 L437 596 L447 606 L455 610 L461 621 L470 626 L475 633 L485 640 L496 648 L504 660 L516 668 L524 674 L534 686 L542 693 L553 702 L559 711 L571 719 L575 727 L586 735 L593 744 L604 749 L610 756 L620 765M208 401 L217 409 L226 418 L235 425 L243 435 L250 441 L257 448 L265 453 L273 462 L281 466 L287 474 L298 480 L304 487 L315 499 L324 507 L332 518 L345 524 L352 534 L357 541 L366 546 L375 556 L383 565 L393 571 L399 578 L407 585 L416 591 L422 597 L426 605 L437 612 L446 623 L452 629 L458 636 L467 640 L473 649 L484 658 L492 664 L503 672 L511 685 L523 695 L532 705 L541 709 L548 715 L559 724 L568 735 L578 747 L588 756 L596 760 L603 768M198 412 L208 421 L220 428 L228 438 L240 447 L247 455 L253 462 L260 467 L270 474 L278 483 L288 495 L298 504 L311 512 L319 524 L331 535 L341 540 L351 549 L360 560 L372 569 L377 578 L389 586 L398 594 L407 603 L413 612 L425 622 L434 627 L442 638 L454 645 L463 656 L471 663 L479 671 L488 682 L496 687 L507 698 L516 707 L522 712 L532 721 L540 728 L547 734 L553 742 L565 750 L575 759 L585 767 L594 779M192 418 L203 428 L211 438 L217 444 L227 455 L234 463 L242 470 L253 475 L265 486 L270 495 L277 500 L288 511 L295 519 L306 528 L317 536 L323 546 L338 553 L344 560 L354 570 L359 579 L365 586 L374 593 L387 601 L397 611 L405 617 L414 628 L420 636 L429 641 L435 646 L446 657 L453 663 L463 672 L475 681 L484 693 L495 702 L502 708 L512 716 L516 725 L527 735 L539 744 L549 755 L559 762 L566 767 L572 775 L577 783 L587 791M183 428 L191 441 L202 445 L209 458 L222 466 L232 473 L238 481 L250 490 L261 500 L272 511 L281 523 L293 533 L304 541 L315 551 L324 563 L329 570 L340 574 L348 581 L353 590 L365 601 L375 611 L386 619 L395 625 L403 634 L413 644 L422 653 L433 661 L438 669 L445 676 L458 686 L468 697 L480 707 L490 718 L497 723 L507 732 L515 743 L526 752 L533 758 L542 768 L550 770 L561 782 L570 792 L579 799M171 441 L181 448 L189 455 L198 464 L211 472 L221 485 L229 491 L236 496 L245 508 L258 516 L264 523 L271 532 L279 539 L290 546 L301 555 L310 564 L315 571 L323 580 L330 589 L343 595 L347 604 L358 608 L363 617 L371 622 L381 631 L388 643 L400 651 L410 659 L419 669 L429 677 L440 686 L447 698 L456 701 L468 711 L477 723 L483 729 L488 735 L496 742 L509 750 L517 758 L528 767 L534 773 L545 783 L552 791 L561 800 L573 810M163 450 L172 454 L183 465 L192 477 L202 482 L206 490 L217 496 L224 502 L235 512 L243 523 L252 530 L261 537 L269 549 L281 556 L292 566 L297 574 L308 584 L313 591 L322 595 L333 608 L345 614 L355 626 L360 633 L373 641 L379 652 L389 657 L399 667 L409 679 L420 689 L427 695 L437 703 L447 711 L452 720 L463 724 L473 737 L483 745 L490 751 L501 761 L512 772 L524 782 L532 789 L538 797 L546 804 L554 810 L559 820 L567 824M155 458 L161 467 L170 470 L175 476 L186 486 L192 495 L201 498 L211 507 L219 516 L226 527 L237 533 L245 543 L253 547 L260 556 L267 563 L273 571 L283 576 L290 581 L295 591 L304 597 L314 610 L327 616 L334 625 L342 631 L349 637 L358 648 L367 655 L376 665 L381 671 L392 677 L402 690 L412 694 L419 704 L428 710 L437 719 L446 730 L453 738 L464 743 L471 750 L477 761 L489 770 L497 775 L504 782 L515 790 L522 799 L530 810 L539 817 L547 823 L558 831M146 468 L154 473 L164 484 L171 490 L180 499 L188 506 L195 513 L205 520 L214 530 L223 543 L231 548 L241 553 L249 566 L260 575 L272 586 L282 595 L292 606 L302 611 L309 620 L316 629 L328 638 L337 647 L343 654 L350 660 L361 667 L367 674 L375 683 L381 689 L391 696 L401 706 L410 712 L420 719 L424 729 L433 733 L443 744 L452 753 L462 761 L474 770 L484 781 L493 790 L503 800 L513 808 L522 820 L529 826 L542 835 L547 844M138 476 L146 489 L154 495 L162 502 L171 509 L177 516 L189 524 L195 529 L200 539 L210 548 L223 555 L228 565 L239 576 L251 585 L260 595 L272 599 L279 607 L285 616 L294 621 L300 628 L308 637 L321 645 L328 652 L338 665 L347 675 L352 680 L361 687 L369 695 L378 700 L384 709 L394 714 L401 723 L409 731 L419 741 L431 750 L440 762 L452 767 L456 776 L467 786 L476 793 L483 800 L496 809 L503 820 L514 828 L520 836 L531 847M127 488 L139 496 L149 506 L158 511 L165 523 L174 526 L181 534 L191 543 L199 553 L206 562 L216 568 L226 577 L231 586 L243 594 L251 602 L260 607 L267 619 L273 625 L281 632 L294 639 L299 648 L311 659 L321 667 L330 677 L343 685 L351 698 L364 703 L368 712 L376 720 L386 729 L394 734 L402 745 L416 753 L422 764 L431 766 L436 775 L444 782 L454 793 L461 798 L471 808 L482 818 L491 827 L503 833 L507 843 L517 849 L527 860M119 496 L130 503 L136 510 L144 520 L150 526 L157 531 L163 537 L168 545 L176 552 L187 558 L198 568 L205 577 L217 589 L224 593 L234 605 L244 610 L249 619 L256 626 L264 633 L275 640 L283 650 L291 656 L299 667 L309 671 L316 681 L324 690 L332 695 L342 702 L350 711 L357 720 L368 731 L377 736 L389 745 L396 751 L406 763 L415 770 L423 783 L434 792 L445 798 L452 805 L458 811 L465 816 L474 829 L486 837 L494 846 L505 855 L513 864M111 506 L117 511 L128 521 L138 529 L144 538 L151 543 L160 552 L169 563 L177 570 L188 579 L197 587 L207 597 L214 604 L225 613 L237 622 L245 632 L256 639 L266 648 L273 658 L282 668 L296 677 L306 688 L316 695 L327 706 L334 713 L341 720 L348 727 L355 736 L366 747 L375 753 L385 763 L395 769 L403 780 L411 787 L417 794 L427 805 L435 810 L447 818 L457 826 L464 833 L469 843 L478 851 L492 859 L500 872 L512 879M102 515 L110 522 L119 533 L128 538 L135 548 L145 557 L155 568 L164 575 L175 583 L182 590 L190 600 L199 607 L205 613 L213 621 L226 629 L237 640 L246 654 L255 658 L260 666 L270 676 L283 684 L293 693 L301 701 L311 710 L319 719 L330 729 L338 737 L346 745 L355 749 L360 756 L370 767 L378 777 L391 784 L398 792 L405 799 L412 804 L422 813 L427 821 L434 828 L443 837 L453 844 L462 849 L473 860 L477 869 L487 876 L498 887M93 524 L102 535 L110 540 L120 548 L128 560 L135 566 L146 572 L152 583 L161 591 L167 598 L178 606 L185 611 L191 616 L198 622 L206 629 L212 637 L219 643 L230 655 L243 663 L253 673 L263 684 L272 695 L281 698 L289 711 L300 716 L304 724 L315 732 L323 742 L330 748 L341 759 L353 768 L364 775 L372 787 L383 792 L388 800 L399 811 L411 820 L418 827 L424 836 L434 842 L443 851 L453 863 L465 872 L473 879 L483 892 L494 899M82 536 L93 543 L100 550 L111 558 L117 566 L128 573 L133 580 L143 589 L149 594 L154 602 L161 610 L171 614 L176 621 L184 630 L194 638 L199 645 L209 650 L214 657 L225 665 L234 671 L240 682 L249 687 L257 698 L263 705 L274 714 L281 722 L290 728 L301 740 L311 744 L318 750 L327 762 L337 770 L345 778 L355 787 L365 799 L376 809 L384 814 L395 824 L405 832 L415 842 L421 852 L430 855 L437 864 L444 870 L453 881 L464 891 L472 896 L482 902M75 544 L84 555 L93 560 L102 568 L107 574 L115 580 L124 592 L134 597 L144 607 L149 615 L161 624 L168 634 L179 641 L187 646 L195 659 L203 665 L209 672 L218 679 L229 685 L236 696 L244 699 L249 709 L262 719 L272 730 L280 736 L291 746 L299 755 L306 760 L315 769 L326 777 L334 786 L339 793 L352 803 L360 810 L369 818 L374 827 L385 832 L395 840 L401 849 L413 858 L417 866 L425 870 L431 880 L442 885 L449 892 L454 901 L463 908 L471 915M67 553 L78 564 L86 576 L94 584 L104 589 L115 601 L123 605 L131 614 L135 621 L143 629 L153 634 L159 644 L172 653 L179 660 L187 666 L194 670 L203 684 L211 690 L216 696 L226 705 L235 711 L246 721 L253 726 L264 737 L269 744 L276 750 L287 759 L293 769 L304 779 L310 785 L322 790 L334 801 L346 812 L350 819 L359 828 L372 836 L381 847 L391 858 L403 866 L414 877 L420 884 L431 893 L439 902 L448 907 L454 917 L465 924M56 565 L68 572 L71 580 L84 587 L93 598 L103 606 L113 615 L121 622 L129 634 L140 638 L145 647 L155 652 L164 663 L170 670 L178 679 L189 689 L201 698 L212 708 L222 716 L232 724 L243 735 L250 746 L260 756 L271 761 L282 772 L293 783 L301 791 L309 801 L320 807 L330 815 L340 825 L347 834 L354 843 L366 851 L373 860 L382 868 L390 875 L398 885 L407 892 L415 896 L420 905 L429 909 L436 919 L448 926 L454 935M49 572 L60 581 L66 588 L76 598 L84 607 L97 615 L102 623 L113 631 L120 641 L127 646 L131 654 L139 656 L149 665 L158 674 L168 686 L178 692 L184 702 L195 711 L203 720 L212 727 L223 738 L231 746 L243 754 L250 763 L260 769 L269 777 L274 787 L282 793 L289 797 L298 805 L307 818 L318 822 L327 835 L338 841 L342 848 L352 857 L361 863 L368 871 L378 880 L386 887 L394 898 L401 904 L413 911 L417 920 L426 923 L430 932 L441 936 L447 945M40 582 L49 594 L58 599 L66 605 L75 615 L82 626 L92 631 L99 639 L106 644 L114 651 L123 663 L134 669 L143 679 L153 690 L160 697 L171 705 L181 714 L189 720 L198 729 L205 735 L215 745 L224 758 L237 765 L247 777 L256 788 L266 794 L277 804 L285 809 L293 818 L305 828 L311 838 L320 847 L330 856 L341 867 L352 874 L362 882 L368 890 L377 897 L381 905 L391 910 L398 918 L407 929 L417 938 L426 944 L433 953 L442 956M31 591 L37 598 L45 606 L52 612 L61 619 L69 627 L74 636 L87 644 L97 652 L101 659 L114 668 L120 678 L127 683 L134 691 L144 701 L157 708 L165 719 L174 724 L182 733 L188 743 L196 749 L203 755 L212 762 L222 769 L228 776 L234 785 L244 793 L256 801 L262 806 L272 817 L284 828 L291 836 L302 846 L311 853 L317 862 L329 871 L335 879 L344 886 L354 892 L364 901 L375 912 L384 919 L389 928 L397 932 L403 937 L412 946 L420 957 L428 966M22 601 L31 612 L37 619 L44 624 L55 635 L65 644 L75 650 L82 658 L91 670 L104 679 L114 691 L121 695 L129 700 L135 710 L143 715 L151 724 L159 728 L165 735 L177 745 L185 756 L196 767 L204 771 L213 782 L226 790 L236 801 L245 812 L254 819 L258 826 L270 835 L280 844 L290 850 L297 862 L308 872 L317 876 L323 884 L334 895 L344 903 L352 909 L361 922 L372 930 L381 934 L387 940 L391 950 L403 956 L410 961 L415 967 L423 974M12 612 L20 616 L30 627 L39 635 L50 644 L55 654 L63 660 L72 665 L79 674 L85 680 L94 687 L102 698 L112 704 L121 715 L131 723 L138 731 L147 740 L157 744 L166 756 L176 766 L188 775 L198 786 L208 792 L214 798 L221 806 L229 817 L239 824 L245 830 L253 838 L262 845 L270 854 L278 862 L290 871 L299 880 L307 889 L320 898 L331 906 L340 918 L348 921 L356 934 L367 942 L374 949 L385 960 L392 964 L396 972 L407 982M4 620 L10 626 L18 634 L24 642 L36 651 L47 661 L53 670 L62 673 L72 685 L79 694 L92 703 L103 712 L113 723 L123 729 L128 736 L133 744 L146 753 L155 764 L164 773 L173 782 L180 787 L191 794 L195 803 L206 811 L214 820 L226 827 L235 840 L246 849 L257 856 L267 869 L274 875 L285 880 L295 891 L304 899 L311 908 L320 920 L332 929 L340 938 L349 942 L358 951 L368 959 L376 965 L383 974 L394 984 L399 992M-7 632 L4 638 L11 650 L21 656 L28 666 L43 673 L48 683 L58 690 L69 697 L72 706 L81 712 L89 721 L103 729 L113 738 L119 749 L129 756 L139 767 L151 777 L158 784 L169 790 L172 800 L185 805 L193 818 L198 824 L207 829 L217 838 L225 845 L233 856 L243 866 L256 874 L262 883 L275 891 L286 901 L292 908 L302 918 L312 929 L324 937 L336 947 L345 955 L350 965 L361 976 L371 982 L378 989 L390 998M-14 640 L-3 649 L9 659 L13 667 L23 677 L31 685 L40 690 L48 697 L54 702 L62 712 L69 720 L76 727 L83 733 L94 743 L103 753 L112 756 L119 766 L129 774 L137 782 L150 790 L159 800 L169 810 L180 820 L189 830 L200 840 L209 849 L215 857 L225 862 L230 870 L242 880 L255 890 L264 902 L273 906 L281 915 L288 924 L297 929 L305 936 L312 946 L321 951 L331 960 L340 972 L350 977 L360 987 L369 998 L380 1006M-23 649 L-16 660 L-4 666 L3 674 L12 685 L21 692 L29 699 L35 708 L45 713 L55 722 L61 728 L72 738 L80 745 L89 753 L97 763 L104 768 L115 777 L126 786 L133 796 L144 803 L150 811 L160 822 L171 832 L184 841 L195 852 L201 859 L208 869 L220 878 L229 883 L237 892 L245 898 L252 905 L258 911 L268 924 L277 933 L291 940 L296 947 L303 958 L310 962 L322 970 L330 982 L337 988 L346 996 L353 1002 L361 1005 L368 1014 L377 1021M-32 659 L-23 667 L-12 677 L-1 687 L10 698 L20 706 L30 716 L39 728 L49 739 L63 746 L74 756 L81 769 L91 772 L101 783 L109 793 L121 803 L131 814 L143 822 L154 833 L165 843 L175 850 L178 859 L188 866 L196 874 L207 880 L213 889 L219 897 L226 901 L237 912 L246 916 L255 926 L262 931 L272 940 L276 951 L284 957 L292 960 L297 968 L306 977 L317 986 L324 991 L329 998 L338 1005 L347 1017 L359 1023 L368 1035M-41 669 L-32 682 L-19 690 L-14 698 L-5 703 L2 712 L11 718 L21 729 L35 738 L40 746 L48 755 L59 760 L67 769 L76 780 L89 788 L98 797 L109 807 L117 819 L125 825 L133 829 L141 836 L147 846 L160 855 L167 865 L176 870 L182 880 L190 887 L198 891 L206 898 L213 905 L222 916 L235 926 L243 932 L252 940 L262 951 L267 957 L277 964 L283 973 L295 983 L304 988 L311 996 L319 1004 L327 1010 L336 1024 L346 1033 L356 1041" stroke="#fff" stroke-width="4" stroke-linecap="round" stroke-linejoin="round" fill="none" opacity="0.2"/>
<path d="M416 779h0M251 716h0M562 628h0M545 583h0M245 624h0M386 713h0M334 543h0M369 736h0M458 782h0M291 685h0M345 540h0M479 498h0M198 742h0M294 557h0M194 537h0M361 531h0M568 497h0M345 770h0M186 473h0M432 725h0M234 705h0M360 517h0M396 589h0M379 497h0M467 738h0M380 744h0M342 549h0M534 765h0M372 716h0M575 548h0M552 660h0M286 503h0M338 568h0M503 703h0M257 704h0M218 597h0M559 739h0M381 684h0M322 520h0M541 595h0M468 582h0M502 716h0M339 511h0M186 532h0M373 530h0M254 680h0M209 611h0M228 589h0M518 503h0M370 760h0M465 542h0M420 535h0M307 579h0M225 511h0M396 622h0M502 751h0M553 787h0M367 697h0M545 637h0M424 753h0M397 639h0M285 498h0M473 671h0M173 717h0M455 553h0M436 636h0M409 631h0M217 580h0M295 670h0M528 759h0M182 685h0M577 577h0M322 481h0M224 602h0M397 571h0M411 685h0M266 656h0M545 721h0M322 531h0M517 572h0M529 656h0M360 765h0M229 640h0M318 710h0M311 484h0M334 652h0M270 592h0M558 488h0M384 589h0M341 642h0M294 541h0M565 521h0M559 773h0M192 787h0M570 601h0M298 616h0M255 724h0M472 726h0M355 634h0M186 694h0M291 599h0M509 544h0M434 544h0M383 629h0M263 618h0M301 760h0M322 674h0M219 541h0M317 742h0M368 486h0M228 683h0M404 773h0M509 529h0M519 628h0M272 482h0M456 496h0M529 476h0M522 576h0M402 610h0M492 780h0M566 783h0M551 714h0M530 512h0M167 627h0M409 528h0M253 501h0M238 651h0M259 633h0M509 712h0M424 742h0M216 630h0M563 760h0M234 576h0M329 787h0M299 749h0M400 478h0M427 615h0M200 526h0M504 481h0M366 603h0M432 488h0M386 481h0M296 634h0M191 731h0M347 587h0M540 576h0M514 481h0M437 530h0M381 643h0M384 664h0M362 752h0M260 789h0M383 730h0M312 520h0M221 569h0M374 616h0M315 640h0M226 709h0M245 675h0M300 509h0M460 728h0M309 663h0M417 638h0M510 669h0M449 619h0M420 727h0M307 593h0M555 553h0M288 609h0M514 582h0M372 544h0M175 540h0M516 554h0M327 735h0M194 646h0M230 485h0M255 736h0M533 483h0M490 474h0M267 769h0M206 640h0M227 772h0M507 686h0M363 687h0M181 596h0M185 726h0M542 523h0M390 655h0M485 631h0M546 504h0M222 533h0M231 537h0M502 516h0M387 522h0M482 538h0M304 768h0M467 610h0M182 493h0M440 643h0M293 580h0M359 567h0M503 509h0M331 771h0M471 495h0M393 781h0M343 484h0M477 750h0M334 724h0M482 645h0M313 613h0M463 576h0M329 644h0M534 783h0M577 658h0M534 589h0M539 649h0M377 561h0M453 605h0M261 477h0M279 779h0M409 721h0M341 783h0M489 514h0M210 672h0M181 585h0M313 756h0M401 712h0M284 658h0M193 758h0M470 530h0M338 601h0M313 647h0M181 636h0M438 716h0M202 728h0M306 783h0M172 699h0M574 719h0M326 755h0M354 691h0M257 491h0M480 695h0M214 789h0M424 627h0M329 630h0M486 673h0M412 654h0M347 703h0M548 493h0M449 757h0M286 536h0M169 497h0M348 624h0M453 667h0M518 749h0M337 617h0M185 554h0M546 548h0M576 587h0M539 752h0M320 780h0M317 727h0M568 728h0M402 518h0M208 571h0M239 695h0M280 649h0M560 589h0M392 688h0M299 660h0M440 566h0M376 655h0M420 549h0M170 767h0M476 662h0M421 719h0M207 480h0M232 626h0M429 593h0M555 500h0M358 495h0" stroke="#4262d4" stroke-width="7.2" stroke-linecap="round" fill="none" opacity="0.81"/>
<path d="M415 781h0M249 714h0M560 627h0M546 584h0M244 623h0M386 715h0M333 544h0M369 737h0M456 781h0M292 684h0M343 537h0M480 500h0M199 744h0M291 557h0M192 539h0M359 532h0M570 496h0M347 770h0M186 476h0M434 725h0M235 704h0M363 518h0M395 586h0M380 497h0M467 740h0M378 744h0M340 551h0M534 768h0M372 719h0M572 548h0M554 659h0M289 503h0M340 567h0M504 704h0M258 707h0M218 595h0M560 736h0M381 681h0M324 520h0M543 597h0M470 580h0M501 718h0M339 513h0M185 529h0M371 529h0M254 683h0M211 610h0M230 590h0M517 500h0M371 761h0M467 545h0M422 535h0M308 576h0M225 512h0M396 619h0M502 753h0M553 786h0M365 696h0M544 635h0M423 754h0M397 638h0M283 497h0M472 672h0M171 716h0M454 552h0M434 635h0M408 631h0M220 579h0M296 670h0M527 761h0M180 686h0M577 575h0M320 481h0M225 603h0M398 569h0M408 684h0M264 656h0M545 724h0M322 532h0M516 571h0M526 655h0M357 763h0M228 641h0M320 710h0M309 484h0M336 654h0M269 592h0M561 487h0M383 590h0M343 642h0M294 542h0M564 524h0M558 771h0M190 787h0M570 599h0M298 619h0M257 722h0M473 725h0M358 634h0M189 694h0M290 597h0M508 542h0M432 545h0M386 629h0M261 619h0M300 758h0M321 676h0M217 542h0M317 739h0M371 486h0M228 682h0M406 771h0M509 532h0M521 628h0M273 483h0M455 496h0M527 475h0M522 578h0M400 610h0M492 781h0M569 782h0M553 711h0M532 510h0M169 624h0M411 527h0M252 503h0M239 653h0M257 631h0M511 713h0M426 741h0M215 632h0M564 759h0M234 574h0M327 787h0M301 749h0M397 478h0M427 613h0M198 525h0M502 480h0M365 605h0M431 490h0M385 483h0M296 632h0M188 731h0M345 588h0M537 576h0M515 479h0M438 531h0M382 641h0M384 662h0M362 749h0M262 787h0M381 730h0M313 521h0M222 568h0M375 615h0M316 639h0M224 707h0M244 674h0M301 511h0M459 728h0M308 664h0M418 639h0M509 671h0M451 617h0M419 730h0M306 591h0M555 555h0M288 607h0M513 583h0M372 542h0M177 541h0M519 556h0M327 737h0M192 644h0M232 484h0M254 736h0M536 484h0M490 476h0M269 769h0M203 640h0M229 771h0M507 688h0M366 686h0M179 594h0M183 726h0M541 522h0M391 653h0M486 633h0M545 505h0M222 530h0M229 537h0M501 518h0M388 521h0M484 540h0M306 769h0M466 613h0M181 492h0M441 642h0M295 580h0M361 568h0M504 508h0M331 773h0M473 494h0M393 778h0M346 484h0M479 748h0M334 722h0M479 644h0M314 611h0M462 576h0M330 644h0M534 782h0M576 660h0M532 588h0M541 650h0M376 563h0M453 604h0M260 478h0M278 779h0M411 722h0M339 783h0M491 514h0M208 675h0M182 583h0M312 758h0M401 714h0M285 661h0M195 759h0M471 530h0M340 601h0M312 650h0M182 635h0M436 714h0M203 726h0M306 785h0M174 701h0M573 717h0M326 752h0M352 691h0M258 489h0M481 696h0M213 788h0M422 625h0M329 631h0M486 671h0M413 654h0M348 704h0M546 494h0M447 758h0M284 535h0M167 496h0M346 625h0M450 666h0M518 752h0M336 618h0M186 554h0M547 546h0M574 586h0M541 753h0M320 782h0M317 725h0M571 729h0M402 520h0M210 570h0M240 692h0M278 652h0M559 591h0M395 687h0M298 659h0M440 569h0M374 657h0M417 550h0M168 769h0M475 659h0M420 716h0M206 481h0M233 629h0M431 595h0M555 501h0M359 496h0" stroke="#4262d4" stroke-width="9" stroke-linecap="round" fill="none" opacity="0.9"/>
<path d="M419 684h0M394 673h0M356 728h0M556 645h0M533 743h0M282 766h0M269 539h0M382 554h0M463 519h0M199 562h0M168 754h0M406 643h0M531 638h0M568 641h0M433 476h0M411 616h0M478 621h0M220 673h0M172 567h0M168 547h0M299 709h0M190 680h0M422 497h0M518 648h0M310 598h0M320 623h0M284 713h0M425 661h0M415 746h0M277 599h0M207 533h0M186 516h0M210 699h0M446 504h0M452 744h0M539 661h0M293 737h0M339 697h0M467 702h0M507 639h0M286 647h0M240 585h0M460 665h0M412 674h0M447 578h0M168 481h0M442 738h0M402 557h0M479 773h0M317 497h0M508 646h0M555 624h0M217 649h0M217 686h0M466 690h0M344 579h0M200 508h0M569 531h0M461 589h0M258 527h0M521 527h0M467 511h0M446 595h0M436 610h0M237 612h0M278 563h0M252 753h0M494 767h0M336 672h0M389 739h0M285 635h0M299 605h0M489 706h0M406 738h0M277 677h0M350 651h0M196 705h0M276 684h0M343 679h0M547 677h0M410 760h0M326 763h0M560 669h0M170 522h0M399 497h0M569 513h0M231 735h0M261 514h0M298 722h0M483 554h0M296 526h0M227 697h0M201 615h0M529 689h0M495 586h0M432 584h0M352 562h0M179 557h0M522 769h0M545 685h0M199 651h0M416 693h0M570 770h0M236 564h0M393 529h0M265 501h0M489 564h0M563 577h0M358 483h0M238 745h0M349 613h0M374 671h0M448 524h0M308 716h0M191 502h0M422 520h0M245 765h0M337 749h0M405 501h0M424 486h0M399 656h0M229 721h0M255 671h0M285 482h0M232 528h0M393 547h0M286 573h0M209 662h0M432 672h0M487 761h0M186 658h0M247 479h0M340 478h0M305 534h0M225 552h0M237 777h0M212 516h0M577 646h0M215 738h0M487 613h0M346 721h0M371 582h0M273 616h0M538 560h0M413 581h0M516 592h0M220 759h0M469 600h0M534 714h0M490 603h0M567 691h0M216 724h0M221 743h0M192 770h0M446 540h0M354 676h0M277 551h0M262 603h0M575 679h0M565 619h0M215 509h0M377 474h0M272 755h0M505 739h0M295 492h0M276 706h0M377 788h0M461 717h0M184 620h0M163 703h0M523 490h0M520 736h0M522 540h0M427 702h0M462 675h0M169 727h0M553 477h0M196 666h0M521 721h0M175 648h0M456 639h0M181 674h0M461 627h0M300 551h0M489 524h0M388 559h0M567 710h0M332 580h0M407 540h0M550 764h0M547 778h0M263 734h0M498 497h0M269 666h0M266 643h0M185 743h0M485 592h0M203 545h0M234 670h0M206 493h0M445 776h0M426 562h0M551 608h0M179 781h0M227 784h0M413 601h0M441 618h0M349 523h0M458 533h0M198 489h0M518 608h0M482 683h0M299 697h0M444 553h0M355 507h0M464 759h0M245 529h0M475 572h0M217 777h0M341 731h0M566 567h0M261 761h0M366 648h0M289 701h0M525 616h0M512 765h0M495 676h0M479 606h0M485 736h0M400 783h0M378 510h0M446 632h0M352 754h0M540 615h0M167 531h0M236 753h0M203 781h0M368 595h0M534 628h0M446 485h0M294 774h0M326 572h0M315 560h0M241 732h0M470 651h0M549 532h0" stroke="#3850c4" stroke-width="6.4" stroke-linecap="round" fill="none" opacity="0.81"/>
<path d="M419 681h0M396 673h0M354 727h0M555 643h0M531 743h0M281 764h0M270 536h0M381 551h0M463 522h0M201 562h0M170 755h0M404 643h0M532 637h0M571 640h0M434 477h0M413 617h0M476 622h0M221 672h0M173 569h0M167 546h0M301 707h0M191 679h0M420 497h0M520 647h0M313 597h0M319 621h0M286 713h0M424 664h0M414 743h0M277 598h0M208 535h0M185 515h0M212 698h0M445 503h0M450 744h0M537 661h0M292 738h0M338 696h0M465 700h0M509 638h0M287 646h0M242 585h0M463 666h0M413 672h0M446 577h0M169 481h0M444 738h0M402 555h0M482 771h0M318 495h0M506 648h0M553 623h0M215 648h0M218 687h0M466 688h0M346 577h0M202 509h0M571 532h0M460 587h0M258 528h0M524 527h0M469 510h0M444 594h0M437 610h0M235 612h0M277 561h0M251 753h0M495 766h0M333 671h0M390 740h0M282 635h0M301 604h0M489 707h0M405 735h0M280 677h0M350 653h0M199 705h0M276 687h0M345 679h0M548 675h0M412 762h0M323 763h0M560 667h0M172 520h0M396 496h0M568 511h0M231 734h0M262 514h0M296 721h0M482 552h0M294 525h0M228 695h0M200 614h0M530 689h0M493 587h0M433 584h0M350 562h0M177 556h0M524 770h0M546 687h0M199 649h0M416 695h0M571 767h0M237 563h0M395 529h0M267 501h0M491 565h0M564 575h0M358 481h0M237 744h0M350 611h0M373 669h0M450 525h0M307 718h0M192 500h0M424 519h0M243 763h0M337 747h0M407 503h0M422 486h0M398 658h0M230 719h0M256 671h0M285 479h0M233 526h0M393 545h0M288 573h0M208 660h0M433 673h0M490 761h0M185 656h0M246 480h0M338 476h0M307 534h0M226 551h0M238 779h0M213 518h0M578 647h0M217 738h0M487 615h0M345 719h0M371 580h0M275 615h0M540 561h0M412 580h0M518 590h0M221 761h0M468 599h0M537 714h0M492 602h0M568 692h0M216 722h0M223 745h0M194 769h0M445 541h0M357 674h0M278 549h0M262 605h0M575 678h0M566 617h0M215 507h0M375 475h0M273 757h0M507 737h0M296 491h0M275 705h0M379 786h0M460 719h0M184 618h0M161 703h0M524 489h0M519 736h0M520 540h0M428 702h0M460 677h0M167 729h0M552 478h0M195 664h0M523 722h0M175 646h0M458 639h0M181 671h0M460 627h0M301 551h0M490 526h0M387 560h0M567 708h0M333 582h0M408 541h0M549 765h0M547 780h0M264 733h0M495 498h0M272 666h0M264 645h0M185 746h0M483 592h0M204 545h0M234 669h0M207 495h0M446 776h0M427 560h0M552 606h0M179 779h0M225 784h0M416 601h0M439 620h0M349 525h0M460 534h0M197 488h0M518 607h0M480 683h0M301 695h0M443 555h0M353 508h0M462 756h0M245 530h0M476 569h0M216 778h0M342 733h0M565 565h0M260 762h0M369 649h0M287 701h0M526 613h0M513 765h0M495 678h0M480 607h0M483 734h0M402 785h0M377 512h0M445 632h0M350 754h0M540 613h0M167 533h0M234 755h0M204 781h0M366 596h0M534 625h0M446 486h0M292 775h0M325 571h0M313 559h0M241 730h0M467 649h0M552 532h0" stroke="#3850c4" stroke-width="8" stroke-linecap="round" fill="none" opacity="0.9"/>
<path d="M561 720h0M504 661h0M425 576h0M221 487h0M529 703h0M473 777h0M175 741h0M162 690h0M356 586h0M339 710h0M312 703h0M256 543h0M245 496h0M488 485h0M391 600h0M165 743h0M386 704h0M432 777h0M384 750h0M304 628h0M456 654h0M356 549h0M252 644h0M185 566h0M406 485h0M382 538h0M181 501h0M440 750h0M536 731h0M194 723h0M496 728h0M445 686h0M411 708h0M176 611h0M498 623h0M251 613h0M364 622h0M496 551h0M557 750h0M271 573h0M165 599h0M430 646h0M387 616h0M415 567h0M333 760h0M517 513h0M236 507h0M530 568h0M241 642h0M315 507h0M521 666h0M380 768h0M579 753h0M386 573h0M369 635h0M290 515h0M510 727h0M556 515h0M247 662h0M165 655h0M515 697h0M454 706h0M331 504h0M415 514h0M257 584h0M450 511h0M475 764h0M461 771h0M259 592h0M508 557h0M282 731h0M308 676h0M446 721h0M492 696h0M163 783h0M219 619h0M462 563h0M283 625h0M529 552h0M165 590h0M570 482h0M270 523h0M512 656h0M305 730h0M510 490h0M484 719h0M478 716h0M530 601h0M208 764h0M440 663h0M572 624h0M193 587h0M431 508h0M398 752h0M228 499h0M227 656h0M430 685h0M324 558h0M309 496h0M563 539h0M367 555h0M364 506h0M268 627h0M277 505h0M205 583h0M249 566h0M368 786h0M195 630h0M200 687h0M194 574h0M534 538h0M449 568h0M441 701h0M165 637h0M271 717h0M253 775h0M201 602h0M182 706h0M241 548h0M362 716h0M263 744h0M265 678h0M262 569h0M517 621h0M539 741h0M437 765h0M348 667h0M207 623h0M566 740h0M491 743h0M521 683h0M375 708h0M326 661h0M248 699h0M534 497h0M364 662h0M329 596h0M170 672h0M418 770h0M538 703h0M390 508h0M353 781h0M406 593h0M475 481h0M498 571h0M489 575h0M554 694h0M453 688h0M274 744h0M531 678h0M331 680h0M300 564h0M245 516h0M568 657h0M266 555h0M211 749h0M419 586h0M556 567h0M352 744h0M338 530h0M467 638h0M306 642h0M436 515h0M320 583h0M380 695h0M179 759h0M507 599h0M316 544h0M251 555h0M191 603h0M209 557h0M374 772h0M494 657h0M278 586h0M496 534h0" stroke="#5e74de" stroke-width="6.0" stroke-linecap="round" fill="none" opacity="0.77"/>
<path d="M563 718h0M502 663h0M426 575h0M221 489h0M529 704h0M471 776h0M177 739h0M164 690h0M355 585h0M339 708h0M313 703h0M254 542h0M243 496h0M486 485h0M392 598h0M165 741h0M387 704h0M433 778h0M384 753h0M306 630h0M454 652h0M357 548h0M250 646h0M186 568h0M408 488h0M383 537h0M179 503h0M438 749h0M535 728h0M195 721h0M494 729h0M446 685h0M410 706h0M175 612h0M495 623h0M252 610h0M361 622h0M494 549h0M556 749h0M271 574h0M164 598h0M430 647h0M386 614h0M414 565h0M335 760h0M515 514h0M237 510h0M529 566h0M243 640h0M317 508h0M523 666h0M382 769h0M577 751h0M386 575h0M368 634h0M288 517h0M511 725h0M553 513h0M246 661h0M163 653h0M517 698h0M452 706h0M330 502h0M414 512h0M257 583h0M453 512h0M475 763h0M460 769h0M256 592h0M506 560h0M280 730h0M308 678h0M446 723h0M493 695h0M162 782h0M221 618h0M463 562h0M282 623h0M531 549h0M166 589h0M572 481h0M273 523h0M512 659h0M307 730h0M511 492h0M487 718h0M477 714h0M532 600h0M206 767h0M440 661h0M572 625h0M192 589h0M428 507h0M400 749h0M227 502h0M225 657h0M432 687h0M327 558h0M307 497h0M561 538h0M365 554h0M365 505h0M268 629h0M276 507h0M204 585h0M248 569h0M367 788h0M193 630h0M201 688h0M193 575h0M537 537h0M451 567h0M442 698h0M164 638h0M269 716h0M253 773h0M203 603h0M182 708h0M243 549h0M363 714h0M264 746h0M267 677h0M264 568h0M514 620h0M541 742h0M436 765h0M348 665h0M206 623h0M565 741h0M493 743h0M521 682h0M377 710h0M324 662h0M250 698h0M535 497h0M363 659h0M329 594h0M169 674h0M420 770h0M541 704h0M391 510h0M355 779h0M406 595h0M476 481h0M501 571h0M488 576h0M556 694h0M452 690h0M275 743h0M533 680h0M331 682h0M302 563h0M246 518h0M569 655h0M267 553h0M212 750h0M419 588h0M554 565h0M351 743h0M336 530h0M468 636h0M304 640h0M439 515h0M318 584h0M379 693h0M180 760h0M507 596h0M315 545h0M250 556h0M188 604h0M211 555h0M371 772h0M491 657h0M281 585h0M495 534h0" stroke="#5e74de" stroke-width="7.5" stroke-linecap="round" fill="none" opacity="0.85"/>
<path d="M448 702h0M281 761h0M360 589h0M468 707h0M453 717h0M552 735h0M257 551h0M281 757h0M319 611h0M305 734h0M357 517h0M323 528h0M427 555h0M470 613h0M553 551h0M514 621h0M372 553h0M428 540h0M372 576h0M439 643h0M312 567h0M377 754h0M256 764h0M282 570h0M360 711h0M239 778h0M274 485h0M471 506h0M496 762h0M346 529h0M487 526h0M519 540h0M190 783h0M298 592h0M365 605h0M498 530h0M367 578h0M457 601h0M178 582h0M223 694h0M212 743h0M258 552h0M457 637h0M313 593h0M299 554h0M292 714h0M324 744h0M204 566h0M484 683h0M210 694h0M542 725h0M190 593h0M435 498h0M385 688h0M435 558h0M244 663h0M370 723h0M436 670h0M410 530h0M472 574h0M285 577h0M459 714h0M172 683h0M529 586h0M526 502h0M228 675h0M222 576h0M338 648h0M297 536h0M321 622h0M330 510h0M510 614h0M282 628h0M217 644h0M177 695h0M208 672h0M435 738h0M195 757h0M251 535h0M301 670h0M426 723h0M361 526h0M229 646h0M245 531h0M425 505h0M371 779h0M366 531h0M334 732h0M296 497h0M476 774h0M540 582h0M269 733h0M388 776h0M369 482h0M285 632h0M431 558h0M216 505h0M517 633h0M405 712h0M482 580h0M302 782h0M383 674h0M197 703h0M563 607h0M441 568h0M424 714h0M337 643h0M513 707h0M381 718h0M212 684h0M357 686h0M470 710h0M297 615h0M424 568h0M193 747h0M361 529h0M384 615h0M337 555h0M499 605h0M216 578h0M487 670h0M378 563h0M451 700h0M177 669h0M359 716h0M403 737h0M215 584h0M385 519h0M174 717h0M198 636h0M521 524h0M401 641h0M487 671h0M396 588h0M435 636h0M536 668h0M245 492h0M431 601h0M356 756h0M512 627h0M471 767h0M323 591h0M533 650h0M373 662h0M171 595h0M508 592h0M239 706h0M254 729h0M573 628h0M497 495h0M180 576h0M249 490h0M558 655h0M385 664h0M455 641h0M286 702h0M345 688h0M521 750h0M555 566h0M536 737h0M430 778h0M485 688h0M376 718h0M328 506h0M459 653h0M433 721h0M295 496h0M423 715h0M540 715h0M364 736h0M239 538h0M488 504h0M285 665h0M319 669h0M446 651h0M306 559h0M262 599h0M383 713h0M521 602h0M357 646h0M380 574h0M549 700h0M245 588h0M562 675h0M290 775h0M189 716h0M334 501h0M173 694h0M550 604h0M231 603h0M451 782h0M205 632h0M196 509h0M200 488h0M175 778h0M340 739h0M212 649h0M228 504h0M444 683h0M195 525h0M336 576h0M511 686h0M381 555h0M387 649h0M171 689h0M210 583h0M327 491h0M212 558h0M289 516h0M293 617h0M270 698h0M182 709h0M197 620h0M486 743h0M477 611h0M413 771h0M523 710h0M433 639h0M445 752h0M511 780h0M424 764h0M304 743h0M296 738h0M472 720h0M176 564h0M473 667h0M434 569h0M250 773h0M389 720h0M491 505h0M462 483h0M274 730h0M448 573h0M442 562h0M445 644h0M506 723h0M380 710h0M309 507h0M433 738h0M291 760h0M192 747h0M547 658h0M445 646h0M557 672h0M409 755h0M265 533h0M189 675h0M326 570h0M332 597h0M240 644h0M245 536h0M389 503h0M371 674h0M572 755h0M540 532h0M395 719h0M194 487h0M541 482h0M239 768h0M563 638h0M514 764h0M532 518h0M373 625h0M331 765h0M406 734h0M429 675h0M385 626h0M198 525h0M247 637h0M221 559h0M559 553h0M232 612h0M403 507h0M537 633h0M174 601h0M367 767h0M241 537h0M425 632h0M413 492h0M237 528h0M463 578h0M304 502h0M287 695h0M335 725h0M287 531h0M380 545h0M380 735h0M475 527h0M280 622h0M540 491h0M394 618h0M214 557h0M408 661h0M224 661h0M315 730h0M473 651h0M191 660h0M386 668h0M177 538h0M448 572h0M508 686h0M389 745h0M488 695h0M426 534h0M343 706h0M495 596h0M472 706h0M513 749h0M483 547h0M558 621h0M301 698h0M375 646h0M422 573h0M554 732h0M533 759h0M279 773h0M562 683h0M451 733h0M456 602h0M384 535h0M555 763h0M453 734h0M555 517h0M405 524h0M221 722h0M298 765h0M277 645h0M358 572h0M351 630h0M289 561h0M226 727h0M233 660h0M535 528h0M243 731h0M377 766h0M264 643h0M429 777h0M409 728h0M568 709h0M483 512h0M203 631h0M510 631h0M197 593h0M536 627h0M357 654h0M372 719h0M379 773h0M309 623h0M401 706h0M283 689h0M188 653h0M496 640h0M567 685h0M464 554h0M215 532h0M354 615h0M400 545h0M250 676h0M547 574h0M337 538h0M421 747h0M248 711h0M180 700h0M196 508h0M419 557h0M186 673h0M575 552h0M270 694h0M523 607h0M275 738h0M482 698h0M282 516h0M305 529h0M246 681h0M501 696h0M192 579h0M548 593h0M462 698h0M343 690h0M212 637h0M371 612h0M231 737h0M568 613h0M504 527h0M366 622h0M340 772h0M272 673h0M469 515h0M458 769h0M407 756h0M467 493h0M527 715h0M229 649h0M502 586h0M318 732h0M268 511h0M398 497h0M341 517h0M295 741h0M334 549h0M404 748h0M448 753h0M390 676h0M253 538h0M546 570h0M289 647h0M242 694h0M202 572h0M185 527h0M364 767h0M299 751h0M284 775h0M245 622h0M172 485h0M207 770h0M213 565h0M406 688h0M195 709h0M328 520h0M379 526h0M440 650h0M566 511h0M424 716h0M475 501h0M488 540h0M213 663h0M220 521h0M441 684h0M547 596h0M568 771h0M502 779h0M470 749h0M168 730h0M397 703h0M188 772h0M457 644h0M541 646h0M531 722h0M470 689h0M298 676h0M570 683h0M266 670h0M191 685h0M352 504h0M481 556h0M340 633h0M330 597h0M461 536h0M428 497h0M405 525h0M436 587h0M542 740h0M255 665h0M205 659h0M473 596h0M424 650h0M376 644h0M310 696h0M297 611h0M327 490h0M386 494h0M549 628h0M509 758h0M312 566h0M353 618h0M185 500h0M394 553h0M437 571h0M395 591h0M494 495h0M196 587h0M546 653h0M289 672h0M378 751h0M512 754h0M489 566h0M177 742h0M396 567h0M358 765h0M245 568h0M327 641h0M227 546h0M397 566h0M424 641h0M501 537h0M289 484h0M473 716h0M418 768h0M201 635h0M545 749h0M498 621h0M203 549h0M371 672h0M288 767h0M412 550h0M173 687h0M170 749h0M366 701h0M476 670h0M572 702h0M227 603h0M343 615h0M308 490h0M422 619h0M297 603h0M194 549h0M370 754h0M388 752h0M379 625h0M536 503h0M228 777h0M223 618h0M233 759h0M289 736h0M186 549h0M283 649h0M542 757h0M256 553h0M445 496h0M425 593h0M197 637h0M268 700h0M197 687h0M491 628h0M187 513h0M461 586h0M252 548h0M474 625h0M491 685h0M519 622h0M514 494h0M472 688h0M564 694h0M563 680h0M227 762h0M551 531h0M558 783h0M274 508h0M310 777h0M326 765h0M381 552h0M273 512h0M389 644h0M277 638h0M317 520h0M532 483h0M525 481h0M284 780h0M371 484h0M480 630h0M386 552h0M252 709h0M535 671h0M370 525h0M561 551h0M470 755h0M525 523h0M410 662h0M276 505h0M450 607h0M536 542h0M449 639h0M353 757h0M298 686h0M225 514h0M479 584h0M257 710h0M422 495h0M510 561h0M549 597h0M368 750h0M487 753h0M170 506h0M362 545h0M432 661h0M387 731h0M295 670h0M330 680h0M399 670h0M415 609h0M197 517h0M212 563h0M440 683h0M371 745h0M542 596h0M529 737h0M389 576h0M316 504h0M427 492h0M183 534h0M296 764h0M463 490h0M227 582h0M272 650h0M332 701h0M214 525h0M562 482h0M424 542h0M369 669h0M420 518h0M408 505h0M450 576h0M387 662h0M378 578h0M489 591h0M566 696h0M476 515h0M459 782h0M286 570h0M502 533h0M439 727h0M567 745h0M488 559h0M291 653h0M228 504h0M412 494h0M426 589h0M304 750h0M475 734h0M353 744h0M169 573h0M371 527h0M276 717h0M357 577h0M525 625h0M506 746h0M503 619h0M508 747h0M239 711h0M175 592h0M382 663h0M327 705h0M534 509h0M460 546h0M538 526h0M271 645h0M390 726h0M547 615h0M395 697h0M490 644h0M550 720h0M549 563h0M311 615h0M302 698h0M402 526h0M520 648h0M245 570h0M441 656h0M539 594h0M516 537h0M392 561h0M380 480h0M514 546h0M398 746h0M477 689h0M432 648h0M557 544h0M173 766h0M572 568h0M298 635h0M346 617h0M449 540h0M339 781h0M569 685h0M352 629h0M569 729h0M401 677h0M403 570h0M334 524h0M399 696h0M222 600h0M218 590h0M420 603h0M496 650h0M383 640h0M428 636h0M245 599h0M539 747h0M250 548h0M444 571h0M272 492h0M433 599h0M441 705h0M557 649h0M479 724h0M506 694h0M559 638h0M547 609h0M268 654h0M568 507h0M253 573h0M434 649h0M451 484h0M192 644h0M349 615h0M281 483h0M311 505h0M286 780h0M229 633h0M553 775h0M174 737h0M303 602h0M376 697h0M437 511h0M388 620h0M192 553h0M351 601h0M495 587h0M463 693h0M575 691h0M299 648h0M529 482h0M378 735h0M427 740h0M255 574h0M532 647h0M534 646h0M236 748h0M443 614h0M211 616h0M452 587h0M266 507h0M298 568h0M251 496h0M179 571h0M384 618h0M521 688h0M526 756h0M216 780h0M259 564h0M232 582h0M274 595h0M307 586h0M462 757h0M185 685h0M257 696h0M226 503h0M250 776h0M412 671h0M437 700h0M518 579h0M458 504h0M421 568h0M340 564h0M320 718h0M363 758h0M527 749h0M505 522h0M240 570h0M574 673h0M287 531h0M354 526h0M458 540h0M395 779h0M486 617h0M500 522h0M524 573h0M309 639h0M217 584h0M375 625h0M287 615h0M316 592h0M192 667h0M258 708h0M242 610h0M226 759h0M532 681h0M543 646h0M197 633h0M265 564h0M284 482h0M218 770h0M325 544h0M341 738h0M393 480h0M418 630h0M266 655h0M558 629h0M357 693h0M393 606h0M451 612h0M552 669h0M313 754h0M307 581h0M356 576h0M507 496h0M347 580h0M533 747h0M552 661h0M282 541h0M545 780h0M363 481h0M489 593h0M535 635h0M263 545h0M272 638h0M522 724h0M336 777h0M296 542h0M294 514h0M521 527h0M461 778h0M567 515h0M574 779h0M325 723h0M263 747h0M225 658h0M538 577h0M222 567h0M286 729h0M208 570h0M262 756h0M238 547h0M509 650h0M208 495h0M455 578h0M440 620h0M482 649h0M470 739h0M365 639h0M257 561h0M193 515h0M266 616h0M194 729h0M453 623h0M450 656h0M218 684h0M196 586h0M262 638h0M359 480h0M285 711h0M422 673h0M324 680h0M324 646h0M545 641h0M317 663h0M534 627h0M360 520h0M538 564h0M515 744h0M191 570h0M227 577h0M537 481h0M470 674h0M477 620h0M493 602h0M481 527h0M338 571h0M167 756h0M266 779h0" stroke="#f21a50" stroke-width="5.5" stroke-linecap="round" fill="none" opacity="0.95"/>
<path d="M422 697h0M511 724h0M334 598h0M381 593h0M308 636h0M403 498h0M313 741h0M278 592h0M390 627h0M489 527h0M259 505h0M421 645h0M333 719h0M573 756h0M521 596h0M247 691h0M514 516h0M307 503h0M562 765h0M522 630h0M168 759h0M232 576h0M365 609h0M194 479h0M489 673h0M403 629h0M363 760h0M376 580h0M451 627h0M487 519h0M391 767h0M370 735h0M180 507h0M186 759h0M195 672h0M547 718h0M383 627h0M480 635h0M564 498h0M231 480h0M372 610h0M408 667h0M225 741h0M400 529h0M465 749h0M389 688h0M242 578h0M252 755h0M525 706h0M416 707h0M413 695h0M487 740h0M526 779h0M542 485h0M309 550h0M552 668h0M373 750h0M485 643h0M458 616h0M230 551h0M480 673h0M364 738h0M543 698h0M296 678h0M564 770h0M268 718h0M402 602h0M393 542h0M233 663h0M289 721h0M426 588h0M196 605h0M424 519h0M563 515h0M482 741h0M422 633h0M391 511h0M167 632h0M364 574h0M413 759h0M398 738h0M502 517h0M305 706h0M458 544h0M509 589h0M283 570h0M214 757h0M278 522h0M239 525h0M219 752h0M551 631h0M364 707h0M188 688h0M257 608h0M386 662h0M267 643h0M354 481h0M206 777h0M533 652h0M184 710h0M460 655h0M442 509h0M367 534h0M503 762h0M210 625h0M437 566h0M433 662h0M555 748h0M229 773h0M273 634h0M552 522h0M516 515h0M499 533h0M424 560h0M436 496h0M525 765h0M365 654h0M378 575h0M366 579h0M476 642h0M309 654h0M237 576h0M511 544h0M176 665h0M370 723h0M545 715h0M482 725h0M403 597h0M402 649h0M252 735h0M282 600h0M400 766h0M511 488h0M512 620h0M527 558h0M220 693h0M279 540h0M198 654h0M504 626h0M434 491h0M318 587h0M331 578h0M354 668h0M497 769h0M545 754h0M259 591h0M516 667h0M568 563h0M268 553h0M561 623h0M277 555h0M273 531h0M394 527h0M396 636h0M340 602h0M395 568h0M276 700h0M435 683h0M200 540h0M225 736h0M449 625h0M397 559h0M463 626h0M424 637h0M179 684h0M399 626h0M297 688h0M525 733h0M417 547h0M290 748h0M441 722h0M505 629h0M500 710h0M553 745h0M285 533h0M497 553h0M436 669h0M357 661h0M208 676h0M541 676h0M512 672h0M403 689h0M478 626h0M458 699h0M529 514h0M224 527h0M348 665h0M278 624h0M361 547h0M317 591h0M470 534h0M391 711h0M277 648h0M354 622h0M292 554h0M473 617h0M518 532h0M458 531h0M208 582h0M253 784h0M249 653h0M272 706h0M355 524h0M248 773h0M430 661h0M185 490h0M501 745h0M221 783h0M482 651h0M351 560h0M405 588h0M513 651h0M198 724h0M298 752h0M474 521h0M306 513h0M569 559h0M431 743h0M320 483h0M276 519h0M181 518h0M294 649h0M358 606h0M476 491h0M216 492h0M231 782h0M558 499h0M303 622h0M429 701h0M499 664h0M410 700h0M483 525h0M289 734h0M218 680h0M298 684h0M210 611h0M275 541h0M494 586h0M196 676h0M352 615h0M528 528h0M264 552h0M302 735h0M233 616h0M548 605h0M419 577h0M448 570h0M237 747h0M237 754h0M178 708h0M416 650h0M308 547h0M501 579h0M461 663h0M364 623h0M308 591h0M249 632h0M535 651h0M468 591h0M207 650h0M501 654h0M246 778h0M394 710h0M345 703h0M215 689h0M420 578h0M342 616h0M305 771h0M364 580h0M350 696h0M365 540h0M287 486h0M444 524h0M574 495h0M569 544h0M233 761h0M236 730h0M471 506h0M528 681h0M204 480h0M264 600h0M324 711h0M380 619h0M198 692h0M178 651h0M359 707h0M268 708h0M555 588h0M234 712h0M171 566h0M393 573h0M507 779h0M562 774h0M457 582h0M202 771h0M383 688h0M276 671h0M402 564h0M291 757h0M510 549h0M241 525h0M485 658h0M438 561h0M339 515h0M263 557h0M528 714h0M189 557h0M470 776h0M323 673h0M272 508h0M263 699h0M441 494h0M574 571h0M558 590h0M514 731h0M265 576h0M183 738h0M404 546h0M297 709h0M510 713h0M476 737h0M432 631h0M444 699h0M565 513h0M518 739h0M229 707h0M271 729h0M344 630h0M385 488h0M423 569h0M348 578h0M508 586h0M338 748h0M487 718h0M249 525h0M487 777h0M382 748h0M317 573h0M175 652h0M311 732h0M565 679h0M319 685h0M259 729h0M551 493h0M398 646h0M186 521h0M448 774h0M307 735h0M466 718h0M240 761h0M435 749h0M449 566h0M507 760h0M225 748h0M417 495h0M372 580h0M416 618h0M457 588h0M409 580h0M500 578h0M226 609h0M408 499h0M308 686h0M341 492h0M500 671h0M419 533h0M529 635h0M452 641h0M534 532h0M229 702h0M321 714h0M333 694h0M168 660h0M531 649h0M253 674h0M167 705h0M466 713h0M325 500h0M238 648h0M299 503h0M389 700h0M341 526h0M474 622h0M211 599h0M272 750h0M239 602h0M200 783h0M346 541h0M500 589h0M230 637h0M472 755h0M480 777h0M305 746h0M321 668h0M341 770h0M379 569h0M178 769h0M452 740h0M287 525h0M179 538h0M303 539h0M166 541h0M456 698h0M347 748h0M302 775h0M448 553h0M309 509h0M359 751h0M250 664h0M507 722h0M553 652h0M494 616h0M516 643h0M515 636h0M550 644h0M364 758h0M571 731h0M575 664h0M329 591h0M289 642h0M431 666h0M361 553h0M380 537h0M353 582h0M295 524h0M307 754h0M499 589h0M353 677h0M328 740h0M460 675h0M292 520h0M320 773h0M204 608h0M344 631h0M268 600h0M558 480h0M297 530h0M571 644h0M226 648h0M274 729h0M511 576h0M482 644h0M398 533h0M280 564h0M260 590h0M516 762h0M473 539h0M466 576h0M204 604h0M428 711h0M272 742h0M491 778h0M367 556h0M455 628h0M387 642h0M213 773h0M508 503h0M204 575h0M374 737h0M204 725h0M238 717h0M279 639h0M376 562h0M240 699h0M228 560h0M245 725h0M446 483h0M454 721h0M246 679h0M501 661h0M432 716h0M362 760h0M491 564h0M220 741h0M185 498h0M305 558h0M382 575h0M412 550h0M240 700h0M515 530h0M525 584h0M307 692h0M231 663h0M262 758h0M413 729h0M423 626h0M291 654h0M479 610h0M178 698h0M549 731h0M384 725h0M212 608h0M459 619h0M327 643h0M466 627h0M482 684h0M490 724h0M172 712h0M477 751h0M180 716h0M360 726h0M180 649h0M383 681h0M464 644h0M180 498h0M569 534h0M511 771h0M197 596h0M351 650h0M523 601h0M524 619h0M200 771h0M265 773h0M468 637h0M216 598h0M195 629h0M433 721h0M351 708h0M563 750h0M402 602h0M483 681h0M310 531h0M166 707h0M199 653h0M427 724h0M295 700h0M216 692h0M338 690h0M495 733h0M272 655h0M574 682h0M363 595h0M389 701h0M353 580h0M275 602h0M484 600h0M479 741h0M391 765h0M235 735h0M463 741h0M249 783h0M522 681h0M427 705h0M558 481h0M508 533h0M308 719h0M523 591h0M297 541h0M561 579h0M507 548h0M522 591h0M451 707h0M530 673h0M179 750h0M237 732h0M307 703h0M559 633h0M551 735h0M248 674h0M470 595h0M497 509h0M276 770h0M197 670h0M484 556h0M210 555h0M279 778h0M196 566h0M560 752h0M505 677h0M248 593h0M489 740h0M219 760h0M345 516h0M568 565h0M348 500h0M399 670h0M267 783h0M442 507h0M289 532h0M496 491h0M388 493h0M291 555h0M540 740h0M358 640h0M414 652h0M309 551h0M281 531h0M450 550h0M464 538h0M195 526h0M194 538h0M348 515h0M510 671h0M544 687h0M266 594h0M169 727h0M523 578h0M453 654h0M432 654h0M455 666h0M385 536h0M253 688h0M541 657h0M574 775h0M292 504h0M457 586h0M176 682h0M273 749h0M571 776h0M252 752h0M534 629h0M464 541h0M516 491h0M541 712h0M490 612h0M291 703h0M410 483h0M308 545h0M314 648h0M476 698h0M263 561h0M377 633h0M318 547h0M528 509h0M452 516h0M536 513h0M386 753h0M442 755h0M379 689h0M458 672h0M219 700h0M538 645h0M481 661h0M501 598h0M443 589h0M457 740h0M199 589h0M354 759h0M359 703h0M227 698h0M248 782h0M501 506h0M444 742h0M573 542h0M454 503h0M197 550h0M173 686h0M570 706h0M559 783h0M488 731h0" stroke="#ec2a6a" stroke-width="3.5" stroke-linecap="round" fill="none" opacity="0.9"/>
<path d="M433 506h0M313 500h0M241 728h0M180 746h0M291 573h0M364 567h0M311 757h0M554 688h0M347 621h0M570 763h0M498 619h0M220 701h0M518 677h0M536 754h0M343 485h0M575 621h0M322 755h0M477 601h0M541 696h0M553 608h0M349 625h0M508 667h0M209 673h0M199 481h0M171 657h0M470 554h0M285 587h0M244 764h0M169 763h0M203 650h0M312 756h0M428 612h0M209 503h0M188 668h0M326 600h0M471 525h0M350 772h0M233 498h0M402 562h0M534 485h0M353 623h0M342 533h0M309 514h0M200 617h0M247 737h0M519 668h0M225 768h0M340 754h0M307 674h0M486 774h0M251 505h0M269 730h0M225 583h0M497 679h0M528 668h0M254 612h0M211 628h0M168 716h0M450 730h0M343 648h0M544 778h0M402 572h0M400 685h0M488 763h0M537 641h0M230 556h0M287 687h0M373 566h0M260 584h0M229 674h0M212 747h0M267 718h0M255 563h0M327 676h0M288 658h0M509 719h0M362 609h0M442 743h0M267 602h0M537 516h0M232 671h0M357 663h0M364 599h0M446 777h0M167 748h0M292 738h0M429 758h0M254 694h0M195 673h0M271 626h0M292 482h0M571 652h0M381 493h0M396 542h0M555 507h0M513 694h0M500 722h0M245 633h0M191 600h0M337 606h0M400 643h0M309 559h0M461 674h0M414 490h0M539 700h0M176 652h0M276 630h0M514 663h0M287 725h0M264 625h0M411 717h0M431 494h0M362 650h0M263 639h0M443 773h0M289 595h0M179 563h0M448 624h0M448 741h0M249 536h0M416 581h0M519 505h0M211 676h0M469 716h0M263 550h0M268 635h0M550 716h0M188 602h0M387 520h0M541 528h0M337 514h0M508 529h0M461 730h0M244 692h0M244 642h0M295 703h0M568 665h0M357 780h0M502 743h0M211 544h0M558 535h0M463 480h0M491 625h0M239 635h0M426 595h0M421 556h0M286 490h0M206 766h0M557 604h0M358 683h0" stroke="#f01848" stroke-width="7.5" stroke-linecap="round" fill="none" opacity="0.95"/>
<path d="M282 670h0M210 629h0M305 784h0M286 708h0M240 680h0M313 628h0M211 709h0M272 679h0M383 510h0M400 656h0M518 677h0M536 498h0M448 741h0M513 773h0M443 723h0M216 623h0M236 659h0M271 551h0M312 764h0M463 546h0M302 750h0M330 664h0M486 752h0M207 559h0M502 482h0M343 654h0M519 659h0M326 555h0M490 729h0M458 778h0M265 590h0M286 543h0M194 738h0M332 715h0M433 493h0M217 568h0M225 780h0M574 599h0M449 629h0M512 776h0M548 551h0M277 656h0M228 738h0M445 705h0M185 735h0M454 597h0M319 769h0M295 551h0M319 728h0M251 599h0M189 557h0M538 729h0M430 634h0M204 746h0M474 633h0M266 611h0M571 783h0M384 626h0M573 568h0M278 741h0M426 592h0M311 681h0M190 517h0M436 487h0M282 609h0M571 479h0M461 505h0M410 638h0M402 625h0M369 713h0M307 776h0M475 491h0M379 600h0M365 744h0M547 774h0M287 614h0M223 510h0M440 535h0M340 775h0M503 565h0M340 590h0M267 784h0M216 706h0M238 628h0M202 750h0M424 743h0M371 627h0M456 485h0M350 700h0M542 536h0M299 730h0M205 686h0M227 608h0M398 686h0M465 632h0M224 665h0M469 563h0M558 776h0M275 742h0M294 639h0M431 530h0M337 622h0M299 577h0M416 494h0M387 542h0M339 530h0M302 633h0M271 698h0M411 540h0M473 490h0M509 757h0M481 695h0M252 599h0M508 618h0M560 730h0M174 702h0M375 513h0M466 756h0M169 600h0M469 531h0M542 613h0M333 644h0M551 637h0M171 637h0M384 596h0M444 515h0M475 500h0M469 701h0M454 711h0M223 699h0M186 555h0M516 526h0M266 586h0M424 512h0M199 541h0M529 622h0M207 664h0M183 687h0M279 691h0M435 610h0M380 499h0M417 522h0M333 715h0M195 488h0M313 675h0M379 708h0M360 591h0M274 561h0M167 766h0M416 763h0M349 773h0M312 581h0M548 728h0M269 689h0M455 668h0M242 697h0M235 658h0M376 735h0M348 772h0M391 744h0M320 723h0M365 734h0M220 698h0M444 615h0M443 498h0M170 616h0M386 573h0M258 521h0M196 578h0M262 579h0M569 642h0M249 698h0M236 584h0M437 715h0M325 682h0M374 691h0M393 628h0M574 630h0M210 704h0M437 522h0M428 514h0M508 659h0M573 578h0M405 490h0M211 497h0M427 778h0M325 775h0M393 525h0M376 738h0M393 692h0M356 554h0M308 718h0M382 518h0M380 765h0M523 724h0M575 582h0M453 657h0M274 747h0M504 493h0M180 482h0M290 493h0M336 686h0M216 571h0M215 570h0M499 681h0M213 511h0M343 641h0M520 579h0M460 749h0M443 693h0M258 559h0M342 486h0M298 585h0M262 771h0M251 664h0M284 664h0M326 535h0M211 694h0M318 784h0M295 621h0M515 688h0M174 752h0M533 520h0M420 709h0M455 691h0M176 637h0M516 479h0M183 702h0M255 698h0M496 606h0M386 739h0M192 544h0M258 780h0M189 492h0M470 775h0M545 662h0M209 721h0M431 549h0M301 673h0M363 495h0M334 543h0M193 600h0M271 625h0M188 627h0M547 607h0M484 681h0M472 581h0M310 532h0M257 665h0M298 664h0" stroke="#501040" stroke-width="3" stroke-linecap="round" fill="none" opacity="0.5"/>
</g></g>
<g clip-path="url(#cpt4)"><g filter="url(#blt4)">
<rect x="600" y="479" width="406" height="305" fill="#fbf0f9" filter="url(#bgt4)"/>
<path d="M417 552 L425 548 L431 542 L443 539 L455 530 L462 523 L469 516 L477 511 L491 505 L503 497 L510 490 L522 484 L534 476 L541 470 L551 462 L559 457 L568 454 L579 444 L588 439 L599 432 L610 422 L619 416 L628 408 L638 405 L643 397 L654 390 L665 384 L675 380 L682 373 L690 368 L698 361 L709 353 L721 348 L726 340 L736 337 L745 328 L754 322 L763 314 L777 310 L789 301 L800 289 L811 287 L821 277 L835 269 L846 259 L854 255 L862 249M425 564 L431 558 L440 556 L448 547 L457 545 L464 536 L471 530 L480 528 L486 520 L497 514 L509 504 L521 500 L531 495 L539 485 L548 478 L558 472 L572 466 L579 456 L588 451 L596 446 L608 437 L618 435 L628 429 L637 422 L648 414 L658 405 L665 399 L679 393 L690 382 L702 376 L713 369 L723 362 L733 352 L748 346 L755 342 L767 332 L774 328 L782 323 L791 312 L800 309 L811 302 L822 291 L830 290 L837 285 L844 280 L856 272 L866 265 L874 259M434 577 L444 567 L453 558 L461 556 L472 550 L481 540 L491 537 L499 527 L514 522 L520 516 L530 510 L537 502 L549 498 L554 490 L567 486 L575 477 L589 470 L596 466 L602 458 L615 450 L626 441 L638 433 L647 429 L656 423 L669 415 L674 409 L685 402 L696 395 L703 389 L715 381 L729 376 L738 367 L748 358 L761 350 L773 341 L787 334 L797 326 L805 322 L814 315 L820 308 L829 306 L837 301 L845 293 L854 287 L861 281 L873 272M440 585 L447 578 L457 577 L468 568 L481 561 L487 554 L497 547 L510 539 L522 528 L534 523 L545 515 L557 505 L570 497 L582 492 L591 481 L599 476 L612 471 L623 460 L633 456 L641 448 L647 443 L658 438 L668 429 L682 421 L688 414 L703 409 L715 399 L722 391 L731 385 L745 379 L755 368 L764 363 L776 354 L789 348 L800 342 L807 335 L814 328 L821 324 L828 318 L842 310 L855 303 L867 295 L880 287 L891 278M448 598 L458 590 L466 586 L474 576 L484 574 L491 566 L503 561 L511 553 L519 545 L531 536 L545 528 L554 526 L565 515 L576 509 L586 500 L600 495 L611 487 L623 476 L636 470 L645 459 L658 455 L665 448 L678 440 L685 435 L694 430 L703 421 L717 413 L726 408 L739 400 L750 390 L761 383 L773 377 L779 367 L792 361 L802 355 L809 348 L818 345 L830 336 L838 332 L849 322 L857 319 L867 311 L874 306 L880 301 L887 295M456 609 L466 599 L476 594 L483 588 L497 581 L508 570 L520 565 L530 556 L537 549 L552 544 L560 537 L569 530 L580 521 L591 513 L600 505 L609 501 L621 492 L633 483 L646 475 L653 470 L667 463 L679 454 L686 448 L698 444 L703 436 L715 427 L729 419 L740 413 L751 402 L764 394 L774 386 L787 379 L794 373 L804 368 L818 360 L828 356 L833 347 L848 341 L859 334 L866 329 L877 320 L887 309 L895 304 L906 299M462 618 L475 612 L484 601 L492 596 L501 592 L509 587 L517 580 L530 574 L537 567 L549 557 L556 552 L570 546 L582 537 L588 531 L600 524 L607 519 L617 512 L626 504 L634 502 L645 493 L652 488 L664 483 L674 477 L682 466 L693 461 L704 454 L710 448 L721 439 L728 434 L738 430 L747 425 L754 418 L765 411 L779 404 L786 396 L797 390 L807 385 L813 378 L822 375 L833 368 L840 362 L848 352 L863 347 L870 342 L881 333 L890 324 L898 320 L909 311M469 628 L482 624 L493 612 L501 605 L514 601 L524 590 L533 583 L545 580 L553 574 L566 565 L574 560 L587 552 L591 543 L601 539 L609 531 L622 526 L632 518 L643 512 L649 506 L656 500 L668 493 L677 486 L687 479 L697 471 L710 462 L723 456 L732 449 L742 444 L752 437 L760 431 L767 425 L779 418 L789 411 L798 407 L808 399 L821 389 L829 382 L838 376 L846 370 L856 364 L866 359 L875 354 L886 343 L898 335 L907 333 L911 324M476 638 L488 633 L495 626 L509 618 L517 612 L528 604 L537 601 L542 593 L551 592 L560 585 L571 579 L578 570 L588 561 L599 558 L609 550 L621 541 L633 533 L640 528 L647 521 L656 516 L667 512 L679 504 L687 497 L699 488 L711 478 L725 472 L738 463 L749 454 L761 448 L771 440 L783 430 L791 423 L805 417 L815 407 L823 403 L835 394 L845 388 L856 378 L868 369 L882 365 L891 358 L898 350 L907 344 L919 338M486 653 L497 644 L510 636 L520 626 L531 620 L544 613 L554 604 L563 598 L570 593 L576 585 L592 580 L598 570 L612 565 L620 560 L631 551 L638 543 L646 540 L658 533 L667 528 L673 522 L679 515 L689 512 L695 504 L706 498 L717 492 L729 486 L737 479 L744 472 L753 470 L761 463 L772 453 L780 447 L790 441 L799 438 L810 431 L821 422 L833 413 L843 407 L854 396 L861 391 L873 387 L883 380 L891 373 L900 368 L906 359 L917 355 L929 346M493 663 L500 658 L514 650 L523 640 L534 634 L543 625 L557 618 L563 612 L571 607 L578 603 L587 598 L597 588 L610 581 L620 577 L625 570 L635 562 L647 558 L655 551 L664 547 L674 535 L687 528 L693 522 L705 516 L714 507 L723 503 L734 498 L742 489 L756 482 L768 475 L776 466 L784 462 L797 456 L808 445 L819 440 L825 433 L836 427 L845 418 L855 411 L864 405 L874 401 L882 393 L893 388 L901 381 L911 376 L918 371 L926 367 L933 362 L939 356M500 674 L510 663 L519 661 L527 653 L536 647 L546 640 L554 635 L568 627 L580 620 L588 611 L599 602 L611 594 L622 588 L633 579 L646 574 L652 569 L661 563 L672 551 L683 547 L697 540 L701 532 L713 528 L724 519 L737 512 L749 502 L758 497 L770 490 L775 481 L784 476 L793 469 L805 463 L812 456 L822 449 L835 441 L847 432 L858 429 L867 420 L879 411 L892 404 L900 397 L909 393 L919 386 L930 380 L940 370M507 684 L519 674 L530 669 L538 661 L548 654 L561 645 L569 641 L581 635 L592 624 L602 619 L612 612 L622 606 L635 598 L646 590 L655 585 L660 576 L670 569 L680 565 L687 559 L698 555 L703 549 L712 541 L722 535 L731 530 L741 523 L751 517 L759 508 L771 502 L783 492 L793 486 L806 481 L816 472 L828 462 L841 454 L851 445 L858 441 L869 434 L880 426 L893 421 L904 414 L916 405 L922 399 L931 393 L943 386 L949 379 L958 376M513 693 L521 688 L533 678 L546 674 L553 668 L562 662 L570 654 L584 646 L597 638 L610 629 L615 622 L630 616 L643 608 L651 601 L660 591 L673 588 L683 580 L689 574 L699 568 L711 559 L722 552 L733 545 L741 537 L754 529 L765 521 L778 512 L788 506 L801 499 L808 491 L820 484 L827 478 L840 472 L850 462 L860 455 L871 448 L880 444 L888 440 L894 433 L906 425 L916 421 L926 414 L939 406 L945 399 L954 392M521 705 L533 695 L544 690 L555 682 L567 672 L576 666 L585 662 L595 653 L606 647 L619 638 L630 629 L642 619 L652 617 L661 609 L672 601 L683 594 L694 588 L703 582 L716 575 L721 568 L728 562 L739 558 L747 553 L760 545 L769 534 L781 528 L790 523 L799 517 L810 507 L819 503 L825 495 L838 487 L846 482 L857 473 L865 467 L876 464 L886 456 L897 445 L907 442 L917 437 L925 432 L936 423 L948 413 L957 407 L969 401M530 717 L541 709 L548 705 L557 696 L565 692 L573 685 L582 677 L590 671 L601 668 L608 660 L616 657 L626 647 L638 638 L646 633 L657 625 L669 618 L677 612 L690 605 L704 597 L713 589 L724 583 L736 572 L746 570 L756 561 L764 552 L774 550 L782 543 L791 535 L798 529 L809 522 L820 517 L831 507 L842 503 L852 495 L864 488 L875 479 L882 472 L894 467 L904 461 L911 454 L921 449 L933 438 L940 434 L954 428 L959 420 L971 416 L980 407M537 728 L550 719 L562 710 L574 701 L586 695 L599 686 L609 677 L618 670 L631 663 L643 654 L650 649 L660 645 L670 635 L681 630 L691 622 L699 615 L710 606 L723 601 L735 591 L747 585 L759 577 L767 567 L779 558 L790 551 L803 545 L813 537 L823 534 L833 526 L838 517 L846 513 L859 504 L871 500 L878 492 L885 485 L897 480 L905 475 L916 468 L923 461 L936 454 L947 445 L957 438 L970 433 L979 424M544 737 L551 729 L565 723 L576 714 L590 707 L598 702 L605 697 L617 689 L624 681 L634 678 L644 671 L653 663 L667 656 L678 647 L689 637 L699 633 L710 625 L720 616 L729 612 L740 603 L750 598 L756 590 L767 584 L778 574 L791 567 L800 559 L811 555 L823 545 L832 542 L844 532 L855 527 L863 519 L872 511 L881 506 L888 502 L901 495 L907 488 L921 482 L928 473 L940 465 L953 460 L959 452 L969 444 L980 439 L990 433M551 749 L562 739 L570 734 L580 731 L592 723 L601 716 L613 707 L625 698 L631 692 L640 688 L651 682 L660 677 L667 671 L675 664 L684 654 L696 650 L703 642 L714 635 L722 630 L733 624 L741 616 L751 612 L759 604 L772 598 L782 593 L789 583 L800 577 L813 571 L818 563 L831 557 L839 551 L847 546 L858 541 L868 532 L875 527 L885 521 L895 516 L906 507 L919 499 L927 494 L936 486 L941 479 L954 472 L968 465 L978 457 L988 450 L1001 443M558 759 L566 751 L574 746 L586 738 L599 734 L608 728 L614 720 L621 714 L632 710 L642 700 L648 695 L659 691 L664 685 L675 678 L684 675 L691 670 L698 666 L706 657 L716 653 L724 646 L732 638 L741 633 L754 627 L764 617 L775 614 L783 606 L791 602 L799 593 L809 586 L818 581 L827 574 L836 571 L845 562 L855 554 L865 549 L876 544 L884 536 L896 530 L904 524 L911 515 L918 510 L928 505 L940 500 L949 493 L956 485 L970 478 L977 472 L989 462 L1001 454M566 770 L573 764 L583 759 L595 752 L603 745 L613 736 L625 728 L636 722 L648 716 L653 709 L667 701 L679 691 L689 686 L700 678 L707 673 L720 667 L726 660 L739 653 L748 643 L759 637 L769 631 L777 627 L785 618 L796 611 L804 607 L812 604 L820 594 L834 587 L841 583 L847 576 L858 571 L872 563 L879 556 L886 552 L896 545 L902 540 L911 531 L924 528 L936 520 L942 513 L952 506 L964 497 L971 493 L983 484 L993 476 L1008 470 L1014 464M573 781 L581 777 L590 768 L596 763 L609 756 L620 750 L629 744 L639 733 L649 726 L662 723 L672 712 L685 703 L697 697 L703 691 L715 687 L721 679 L733 669 L747 664 L757 654 L768 646 L778 643 L784 637 L792 633 L801 622 L815 616 L824 606 L838 601 L846 592 L858 584 L871 578 L879 571 L888 566 L900 557 L910 552 L922 541 L934 536 L942 527 L951 523 L960 514 L968 510 L979 503 L987 496 L999 491 L1007 484 L1018 476M579 790 L589 786 L595 779 L607 774 L619 767 L628 762 L640 754 L646 744 L658 736 L667 734 L678 726 L685 721 L693 715 L704 706 L714 702 L725 695 L732 690 L738 683 L750 677 L760 669 L771 662 L778 656 L787 648 L798 644 L804 638 L818 632 L826 627 L837 617 L845 611 L853 606 L860 600 L868 596 L877 591 L887 580 L900 574 L909 569 L915 562 L927 556 L939 547 L952 540 L963 529 L974 524 L982 515 L995 507 L1003 502 L1011 500 L1016 491 L1030 483M588 802 L598 798 L608 788 L621 781 L632 772 L643 767 L651 758 L663 752 L671 743 L685 734 L696 728 L702 723 L711 715 L720 712 L728 704 L737 699 L751 693 L763 685 L771 675 L782 668 L795 659 L806 654 L814 649 L823 643 L834 636 L840 629 L850 620 L861 617 L868 610 L879 602 L888 597 L900 589 L913 580 L921 577 L928 567 L940 561 L946 556 L954 552 L964 548 L969 541 L976 536 L985 530 L993 525 L1006 519 L1015 510 L1025 506 L1030 500M595 813 L608 805 L614 798 L625 790 L636 787 L646 781 L654 772 L662 768 L672 762 L683 756 L691 747 L699 744 L707 736 L718 729 L727 724 L735 720 L748 712 L756 702 L768 697 L776 691 L784 684 L792 680 L800 674 L811 668 L822 660 L835 651 L843 646 L853 635 L863 632 L874 620 L888 615 L896 606 L904 601 L918 594 L926 589 L936 578 L950 571 L956 566 L965 559 L976 552 L989 544 L1001 538 L1006 531 L1019 524 L1030 514 L1042 506M602 823 L614 819 L624 810 L633 805 L642 799 L651 789 L661 785 L671 776 L680 772 L687 767 L698 757 L707 756 L718 746 L730 739 L740 733 L752 723 L762 713 L771 709 L781 699 L796 694 L803 689 L813 679 L823 672 L834 668 L842 660 L852 655 L861 647 L872 641 L883 631 L891 625 L900 621 L907 614 L916 607 L927 604 L935 597 L946 590 L959 581 L967 576 L974 570 L980 564 L990 560 L1001 549 L1014 541 L1022 534 L1031 528 L1042 525 L1050 516M611 836 L620 827 L629 820 L642 814 L653 806 L662 799 L671 792 L679 788 L690 783 L700 777 L705 770 L716 763 L728 755 L740 748 L751 736 L764 729 L776 723 L781 715 L795 709 L806 699 L817 694 L825 689 L833 683 L841 678 L851 671 L862 664 L867 657 L877 652 L887 646 L895 638 L904 633 L916 628 L923 623 L933 613 L945 607 L955 596 L966 591 L976 587 L984 580 L996 573 L1003 567 L1011 562 L1017 556 L1028 546 L1039 543 L1048 539 L1055 531M618 846 L625 841 L634 832 L642 826 L652 820 L663 815 L673 806 L684 801 L693 791 L700 788 L711 781 L724 775 L733 764 L746 760 L756 748 L767 742 L778 736 L789 726 L799 723 L809 713 L823 706 L833 695 L846 690 L852 683 L863 681 L870 673 L878 667 L887 659 L895 656 L902 650 L909 646 L918 641 L931 634 L942 624 L954 619 L962 610 L971 603 L979 600 L990 594 L996 585 L1005 580 L1014 576 L1021 567 L1031 563 L1038 559 L1051 550 L1061 540 L1070 538M624 855 L633 850 L643 842 L657 836 L665 829 L677 820 L685 816 L697 805 L707 798 L717 796 L728 785 L736 778 L748 772 L759 763 L770 759 L776 752 L790 746 L803 737 L809 729 L817 723 L828 717 L837 713 L844 706 L854 701 L867 693 L876 687 L887 678 L895 669 L907 667 L915 661 L927 652 L939 642 L951 634 L961 624 L970 622 L977 615 L985 613 L998 604 L1009 594 L1018 587 L1027 580 L1038 572 L1052 565 L1059 559 L1067 555M632 867 L643 858 L654 850 L664 847 L674 838 L686 830 L696 822 L708 815 L718 808 L727 804 L737 796 L743 789 L755 783 L765 779 L770 772 L780 769 L788 762 L795 756 L802 752 L815 744 L825 737 L833 727 L846 723 L856 714 L869 705 L881 697 L891 690 L899 686 L909 680 L923 672 L930 662 L939 659 L949 652 L961 641 L968 635 L978 633 L984 626 L994 617 L1006 612 L1011 606 L1024 602 L1031 593 L1038 587 L1046 582 L1059 577 L1068 567 L1080 561M640 879 L648 870 L657 869 L669 859 L681 851 L690 844 L698 836 L708 834 L717 827 L724 819 L732 815 L746 808 L756 801 L765 794 L775 785 L783 780 L792 776 L804 767 L812 759 L818 754 L827 750 L833 744 L841 741 L853 734 L863 723 L874 718 L883 710 L892 707 L901 698 L913 693 L921 684 L932 680 L944 671 L953 662 L965 654 L977 647 L989 639 L998 632 L1010 626 L1019 617 L1031 609 L1040 602 L1049 595 L1061 588 L1075 581 L1085 575M646 888 L656 881 L665 879 L675 869 L688 861 L700 855 L710 843 L721 835 L730 830 L742 822 L755 813 L764 811 L772 803 L783 798 L792 792 L801 783 L815 777 L823 766 L836 758 L850 751 L863 742 L875 735 L883 727 L895 717 L908 709 L918 701 L925 697 L933 694 L940 690 L950 682 L956 675 L966 668 L978 665 L987 654 L1001 647 L1010 644 L1021 635 L1031 629 L1037 624 L1047 617 L1058 610 L1067 600 L1080 591 L1093 584M655 900 L666 894 L677 886 L687 879 L697 873 L704 865 L711 859 L719 855 L726 851 L734 848 L739 840 L747 837 L757 831 L763 825 L773 819 L784 814 L795 806 L800 798 L811 790 L823 783 L835 775 L845 769 L852 765 L862 756 L875 747 L888 741 L896 734 L903 728 L914 722 L923 717 L929 711 L936 705 L943 702 L954 694 L967 688 L975 679 L986 670 L1001 664 L1010 655 L1019 653 L1029 644 L1039 639 L1049 631 L1060 624 L1066 615 L1078 607 L1089 605 L1100 594M661 909 L670 907 L682 899 L692 889 L700 884 L712 876 L721 873 L732 863 L743 853 L752 849 L763 840 L773 835 L785 825 L794 820 L802 816 L809 810 L818 802 L826 796 L840 790 L849 785 L856 777 L866 768 L878 762 L889 752 L902 745 L912 737 L921 736 L932 726 L938 721 L948 718 L958 707 L972 700 L979 693 L991 683 L1002 680 L1010 671 L1021 668 L1028 661 L1039 653 L1046 647 L1052 641 L1064 638 L1071 633 L1083 622 L1096 615 L1103 609M669 921 L677 914 L690 910 L702 899 L708 894 L720 887 L727 882 L739 872 L753 866 L765 859 L772 849 L785 842 L793 839 L801 834 L812 823 L822 820 L832 812 L839 806 L848 800 L855 793 L865 787 L875 781 L886 771 L898 764 L905 758 L915 755 L927 747 L939 738 L950 732 L959 720 L973 713 L984 707 L995 699 L1002 691 L1013 686 L1023 679 L1035 673 L1042 665 L1051 660 L1063 654 L1069 649 L1081 642 L1092 630 L1106 623 L1114 617M678 933 L684 925 L693 924 L705 914 L711 908 L719 905 L725 898 L737 890 L747 887 L758 876 L768 867 L777 861 L790 857 L800 849 L807 844 L815 837 L826 828 L839 820 L851 814 L860 806 L867 802 L876 794 L883 791 L893 783 L906 776 L918 768 L927 762 L935 754 L945 750 L950 743 L963 736 L972 732 L983 721 L994 717 L1004 706 L1014 701 L1022 698 L1029 690 L1037 685 L1050 679 L1058 670 L1071 661 L1084 656 L1092 647 L1105 641 L1111 634 L1122 631 L1128 623M685 944 L690 937 L702 929 L710 924 L718 921 L726 917 L737 909 L745 904 L751 897 L759 895 L770 885 L782 877 L792 868 L800 864 L807 857 L816 851 L829 846 L836 837 L845 830 L857 824 L870 815 L883 806 L891 801 L902 794 L908 788 L917 783 L930 776 L941 767 L948 763 L959 757 L966 752 L976 743 L987 737 L1000 730 L1011 720 L1019 713 L1030 708 L1036 700 L1049 695 L1057 690 L1063 682 L1075 677 L1082 670 L1095 663 L1105 658 L1112 648 L1127 642 L1134 634M693 956 L703 945 L717 939 L723 931 L732 927 L740 923 L748 915 L758 910 L769 900 L783 894 L794 882 L808 875 L814 869 L822 861 L834 855 L843 848 L855 842 L865 834 L876 829 L885 822 L894 813 L904 808 L915 801 L925 796 L936 785 L944 781 L954 777 L966 769 L973 763 L979 757 L985 752 L993 749 L1005 738 L1014 730 L1025 727 L1032 719 L1041 717 L1048 709 L1057 703 L1067 695 L1076 692 L1085 686 L1095 678 L1107 671 L1114 667 L1126 658 L1135 652 L1143 643M698 963 L705 958 L715 954 L724 946 L736 942 L744 935 L755 924 L764 917 L777 914 L788 903 L801 898 L811 887 L821 880 L830 878 L841 867 L853 857 L864 850 L876 842 L888 837 L900 830 L910 820 L924 813 L930 805 L940 802 L948 796 L956 792 L969 783 L977 775 L987 766 L995 760 L1006 754 L1013 748 L1027 743 L1038 733 L1046 726 L1054 723 L1064 714 L1077 708 L1086 698 L1097 695 L1106 686 L1117 680 L1130 672 L1136 665 L1147 656M708 977 L714 968 L722 964 L729 960 L739 954 L750 945 L757 941 L767 936 L777 926 L786 924 L797 911 L805 907 L812 902 L819 896 L827 893 L840 887 L850 878 L860 873 L872 864 L881 856 L889 849 L901 845 L911 838 L922 829 L931 821 L938 815 L946 810 L953 804 L967 798 L974 790 L987 785 L996 775 L1011 769 L1019 764 L1029 754 L1041 748 L1050 739 L1061 734 L1070 725 L1081 718 L1092 713 L1102 706 L1113 697 L1127 690 L1133 683 L1144 677 L1156 668M715 988 L722 979 L733 971 L743 966 L751 959 L764 951 L774 948 L784 936 L793 933 L804 925 L815 916 L824 910 L832 905 L842 899 L855 891 L863 886 L874 878 L884 871 L891 866 L898 860 L909 851 L921 844 L932 840 L942 829 L951 826 L964 818 L971 808 L979 805 L991 798 L1001 790 L1014 783 L1026 773 L1036 769 L1048 759 L1057 754 L1067 745 L1076 739 L1087 730 L1099 726 L1109 714 L1118 710 L1129 705 L1136 697 L1145 691 L1155 684M722 998 L731 990 L741 985 L750 977 L756 972 L767 966 L779 961 L787 954 L801 945 L807 941 L820 932 L827 927 L836 919 L846 912 L857 905 L868 899 L878 889 L887 884 L894 879 L900 872 L910 866 L924 859 L933 853 L941 849 L954 840 L965 830 L972 824 L981 822 L993 811 L1002 804 L1013 798 L1020 793 L1030 788 L1041 778 L1051 772 L1062 765 L1067 758 L1075 754 L1086 745 L1099 736 L1109 731 L1124 724 L1130 716 L1139 709 L1153 701 L1160 697 L1171 688M728 1008 L736 1002 L746 996 L759 988 L767 980 L780 972 L790 968 L798 961 L809 952 L815 946 L826 943 L836 937 L846 930 L853 924 L864 914 L873 912 L884 900 L897 891 L904 887 L918 881 L929 873 L936 868 L947 856 L957 852 L965 847 L976 841 L986 832 L996 823 L1007 816 L1019 807 L1027 805 L1036 800 L1046 790 L1056 783 L1064 778 L1071 771 L1080 769 L1090 760 L1098 755 L1110 746 L1120 738 L1131 735 L1141 723 L1151 721 L1157 714 L1168 710 L1176 704M736 1019 L744 1014 L755 1004 L763 998 L774 996 L783 986 L794 976 L808 971 L813 964 L820 959 L834 954 L845 945 L857 938 L868 927 L877 922 L884 916 L894 911 L902 906 L911 899 L921 890 L936 885 L944 876 L954 872 L961 864 L969 860 L980 850 L989 844 L1001 837 L1015 830 L1021 822 L1033 815 L1041 811 L1053 802 L1066 794 L1079 785 L1086 778 L1096 772 L1108 762 L1121 755 L1135 748 L1143 743 L1151 733 L1162 729 L1169 722 L1174 716 L1188 712M743 1029 L756 1023 L763 1018 L771 1008 L784 999 L796 991 L809 987 L816 978 L827 972 L836 965 L846 958 L857 951 L871 945 L877 937 L888 933 L895 925 L906 921 L912 914 L921 910 L931 899 L941 895 L949 890 L956 883 L966 876 L979 866 L991 858 L1001 851 L1008 846 L1020 840 L1033 832 L1041 825 L1054 818 L1059 812 L1071 808 L1083 799 L1092 789 L1104 782 L1117 774 L1130 767 L1140 757 L1148 755 L1157 747 L1166 738 L1178 732 L1190 725" stroke="#fff" stroke-width="4" stroke-linecap="round" stroke-linejoin="round" fill="none" opacity="0.15"/>
<path d="M834 624h0M1004 628h0M830 755h0M683 762h0M749 768h0M622 729h0M702 715h0M631 736h0M932 556h0M992 673h0M618 700h0M650 771h0M814 513h0M936 605h0M885 715h0M1007 681h0M805 616h0M936 634h0M821 572h0M695 631h0M654 499h0M818 641h0M720 658h0M632 608h0M687 492h0M956 572h0M633 575h0M836 591h0M989 615h0M846 684h0M805 742h0M658 778h0M838 513h0M828 712h0M980 700h0M620 550h0M906 559h0M901 720h0M762 567h0M640 714h0M961 730h0M936 589h0M798 680h0M880 752h0M855 518h0M661 583h0M832 739h0M821 654h0M938 524h0M937 730h0M676 700h0M887 520h0M672 785h0M912 604h0M725 490h0M870 581h0M838 715h0M726 602h0M801 728h0M844 698h0M978 754h0M716 609h0M884 492h0M897 709h0M888 538h0M613 681h0M987 629h0M717 515h0M752 630h0M811 486h0M798 572h0M898 518h0M625 678h0M643 739h0M697 754h0M609 732h0M829 640h0M855 673h0M701 670h0M627 565h0M913 633h0M673 672h0M864 606h0M602 706h0M850 502h0M843 778h0M769 608h0M1003 561h0M952 515h0M715 486h0M850 477h0M723 769h0M938 647h0M622 768h0M855 534h0M973 594h0M745 642h0M784 565h0M954 764h0M879 769h0M864 543h0M914 663h0M750 617h0M700 510h0M719 687h0M702 785h0M982 505h0M906 546h0M599 644h0M617 618h0M680 512h0M905 572h0M754 730h0M769 755h0M717 629h0M987 489h0M678 621h0M771 533h0M896 758h0M780 786h0M955 756h0M1005 673h0M975 655h0M670 615h0M648 675h0M650 787h0M844 544h0M658 553h0M665 519h0M830 617h0M768 673h0M868 527h0M866 635h0M798 696h0M958 682h0M986 644h0M666 643h0M653 579h0M831 775h0M910 620h0M875 502h0M814 501h0M655 717h0M621 660h0M1004 539h0M728 551h0M630 493h0M885 575h0M979 571h0M658 653h0M662 683h0M688 729h0M626 784h0M725 578h0M713 682h0M778 533h0M686 775h0M745 682h0M604 528h0M643 616h0M880 565h0M980 673h0M638 556h0M977 559h0M820 779h0M815 619h0M752 717h0M982 718h0M883 479h0M614 502h0M773 487h0M692 500h0M765 518h0M980 780h0M906 658h0M806 563h0M892 580h0M988 755h0M804 538h0M907 768h0M621 756h0M969 486h0M860 588h0M925 768h0M925 512h0M752 772h0M930 669h0M946 739h0M876 633h0M776 618h0M926 489h0M752 604h0M903 610h0M893 734h0M889 775h0M916 650h0M845 601h0M919 693h0M785 498h0M678 716h0M940 539h0M687 569h0M798 479h0M859 683h0M624 594h0M658 638h0M986 746h0M622 580h0M961 492h0M875 725h0M685 553h0M770 601h0M938 624h0M784 693h0M738 498h0M654 513h0M936 711h0M927 531h0M675 594h0M825 626h0M608 656h0M785 678h0M658 744h0M766 545h0M870 568h0M840 560h0M771 574h0M638 695h0M910 684h0M868 669h0M970 725h0M737 512h0M728 711h0M1000 763h0M753 746h0M784 580h0M710 572h0M614 783h0M836 496h0M650 607h0M986 594h0M914 757h0M615 587h0M827 550h0M684 680h0M642 533h0M633 532h0M810 525h0M837 524h0M826 588h0M892 554h0M960 506h0M662 478h0M808 702h0M656 668h0M709 662h0M929 687h0M913 587h0M928 545h0M851 767h0M896 695h0M953 655h0" stroke="#6a50cc" stroke-width="6.8" stroke-linecap="round" fill="none" opacity="0.81"/>
<path d="M837 624h0M1002 627h0M832 756h0M683 760h0M747 768h0M620 729h0M700 714h0M632 737h0M933 558h0M991 674h0M617 698h0M648 771h0M815 512h0M935 606h0M886 716h0M1005 681h0M803 614h0M937 633h0M822 571h0M694 629h0M655 499h0M816 639h0M717 657h0M630 607h0M689 491h0M955 571h0M633 573h0M836 592h0M989 616h0M847 683h0M804 741h0M660 778h0M837 513h0M826 713h0M982 699h0M622 550h0M905 560h0M898 721h0M760 564h0M639 713h0M959 732h0M934 587h0M796 680h0M881 753h0M854 516h0M663 582h0M829 740h0M821 655h0M936 524h0M935 729h0M675 700h0M888 522h0M674 784h0M911 605h0M727 491h0M868 582h0M838 717h0M724 603h0M800 730h0M844 696h0M977 754h0M717 610h0M883 493h0M899 709h0M889 538h0M612 680h0M985 631h0M715 516h0M752 632h0M812 484h0M799 573h0M900 518h0M623 677h0M644 738h0M696 756h0M609 733h0M830 642h0M854 673h0M698 671h0M626 565h0M914 635h0M672 674h0M864 605h0M603 705h0M852 503h0M843 779h0M767 610h0M1002 560h0M952 516h0M713 488h0M848 478h0M721 770h0M939 647h0M622 769h0M853 534h0M971 596h0M745 643h0M786 565h0M952 765h0M879 770h0M865 543h0M915 662h0M750 619h0M701 509h0M721 689h0M700 786h0M983 504h0M907 545h0M598 646h0M615 618h0M679 512h0M906 573h0M755 729h0M767 754h0M718 629h0M985 491h0M679 623h0M769 531h0M894 759h0M781 785h0M953 754h0M1005 671h0M976 655h0M669 614h0M647 674h0M650 786h0M842 544h0M660 553h0M666 520h0M828 617h0M770 672h0M866 529h0M867 635h0M798 697h0M956 682h0M987 646h0M666 642h0M651 578h0M830 773h0M913 620h0M876 503h0M813 499h0M654 718h0M619 660h0M1005 541h0M729 550h0M631 495h0M885 576h0M978 572h0M657 654h0M663 680h0M688 727h0M625 786h0M725 575h0M713 680h0M779 534h0M685 775h0M747 684h0M604 530h0M644 617h0M881 563h0M981 672h0M637 553h0M976 558h0M818 781h0M815 621h0M754 715h0M982 716h0M885 481h0M617 503h0M775 489h0M693 501h0M765 517h0M980 779h0M906 659h0M808 563h0M894 581h0M987 756h0M805 536h0M905 769h0M620 756h0M971 487h0M859 590h0M927 767h0M924 514h0M755 773h0M931 669h0M948 738h0M876 631h0M778 619h0M924 489h0M753 605h0M902 612h0M891 735h0M891 776h0M918 650h0M847 602h0M919 695h0M786 500h0M678 718h0M938 538h0M688 570h0M800 479h0M861 686h0M624 596h0M658 639h0M985 744h0M623 577h0M959 492h0M877 726h0M685 554h0M772 601h0M937 622h0M783 694h0M736 498h0M654 511h0M936 713h0M924 530h0M674 591h0M826 628h0M607 654h0M786 679h0M660 746h0M767 544h0M869 567h0M842 559h0M771 575h0M640 695h0M910 685h0M867 667h0M972 724h0M739 514h0M729 713h0M1001 765h0M753 744h0M785 581h0M710 570h0M614 782h0M838 496h0M652 607h0M986 591h0M916 758h0M615 586h0M828 550h0M684 683h0M641 531h0M633 530h0M813 525h0M838 525h0M824 588h0M891 552h0M961 505h0M663 475h0M810 702h0M657 669h0M708 664h0M931 688h0M912 589h0M929 546h0M853 768h0M896 692h0M952 656h0" stroke="#6a50cc" stroke-width="8.5" stroke-linecap="round" fill="none" opacity="0.9"/>
<path d="M723 699h0M994 503h0M641 602h0M635 684h0M812 773h0M700 702h0M648 658h0M611 479h0M659 541h0M753 649h0M960 587h0M950 504h0M851 708h0M743 528h0M775 589h0M996 596h0M794 778h0M709 541h0M1010 699h0M786 702h0M732 743h0M806 627h0M719 532h0M781 774h0M790 527h0M610 621h0M945 568h0M702 745h0M693 710h0M903 783h0M828 565h0M682 539h0M676 609h0M777 739h0M923 722h0M698 602h0M609 667h0M996 696h0M739 611h0M971 708h0M765 718h0M819 664h0M946 708h0M651 706h0M953 777h0M825 491h0M879 546h0M745 779h0M970 581h0M732 756h0M716 736h0M963 637h0M1008 614h0M1005 715h0M788 510h0M642 502h0M723 591h0M874 616h0M604 639h0M752 489h0M637 490h0M637 540h0M630 635h0M762 485h0M952 642h0M918 583h0M680 652h0M655 480h0M669 722h0M734 696h0M917 771h0M645 759h0M974 640h0M865 648h0M954 546h0M713 690h0M744 720h0M902 531h0M613 572h0M849 615h0M710 758h0M632 763h0M600 769h0M730 648h0M672 663h0M842 763h0M948 489h0M851 739h0M828 537h0M935 572h0M928 748h0M984 478h0M967 667h0M736 582h0M880 739h0M793 765h0M601 691h0M813 735h0M816 721h0M996 516h0M731 662h0M1001 655h0M825 695h0M773 521h0M897 571h0M925 660h0M867 623h0M738 676h0M788 609h0M881 676h0M705 620h0M779 552h0M887 623h0M994 724h0M911 484h0M802 586h0M695 592h0M932 493h0M980 543h0M743 657h0M711 708h0M649 564h0M912 511h0M738 707h0M600 579h0M602 748h0M949 613h0M672 687h0M771 776h0M686 668h0M764 640h0M989 565h0M923 500h0M692 613h0M852 631h0M837 483h0M751 504h0M818 760h0M822 681h0M910 541h0M691 547h0M693 520h0M984 518h0M879 520h0M596 568h0M614 739h0M885 691h0M966 694h0M698 580h0M601 677h0M690 584h0M865 733h0M866 508h0M760 690h0M631 719h0M637 669h0M610 558h0M760 550h0M701 559h0M634 585h0M761 679h0M889 640h0M700 496h0M793 652h0M878 645h0M834 580h0M774 686h0M665 741h0M917 550h0M770 764h0M965 535h0M802 605h0M914 713h0M698 482h0M768 627h0M631 750h0M968 569h0M674 753h0M1007 573h0M928 483h0M947 679h0M657 732h0M993 659h0M896 491h0M895 676h0M796 555h0M891 742h0M805 645h0M984 600h0M820 559h0M874 485h0M761 704h0M934 506h0M780 760h0M977 518h0M892 664h0M684 748h0M970 628h0M758 663h0M890 651h0M601 719h0M663 766h0M595 662h0M997 528h0M694 533h0M808 786h0M616 716h0M717 751h0M798 490h0M823 506h0M943 595h0M946 627h0M925 645h0M600 482h0M742 747h0M623 538h0M832 781h0M932 780h0M842 636h0M667 546h0M760 498h0M662 693h0M728 772h0M743 623h0M888 606h0M899 595h0M953 481h0M690 738h0M924 708h0" stroke="#5a40b4" stroke-width="6.0" stroke-linecap="round" fill="none" opacity="0.81"/>
<path d="M722 699h0M996 501h0M641 603h0M634 684h0M810 773h0M702 702h0M649 660h0M610 477h0M657 541h0M755 651h0M959 586h0M950 502h0M852 711h0M742 530h0M774 590h0M997 597h0M795 779h0M709 540h0M1010 697h0M787 704h0M731 742h0M805 629h0M719 533h0M780 773h0M790 529h0M608 621h0M945 567h0M704 746h0M692 709h0M904 783h0M830 567h0M680 539h0M675 607h0M779 741h0M925 721h0M701 603h0M611 667h0M996 694h0M738 613h0M973 707h0M764 721h0M819 667h0M948 708h0M648 704h0M954 779h0M827 492h0M878 547h0M744 780h0M972 582h0M732 758h0M717 738h0M962 636h0M1007 615h0M1006 714h0M787 512h0M643 504h0M724 589h0M876 616h0M604 641h0M752 491h0M639 489h0M635 541h0M631 637h0M764 484h0M954 641h0M917 582h0M679 650h0M654 480h0M669 724h0M734 695h0M916 774h0M644 756h0M976 641h0M867 648h0M954 547h0M712 692h0M742 719h0M902 529h0M615 573h0M849 617h0M709 758h0M632 765h0M597 770h0M729 649h0M671 661h0M843 763h0M949 488h0M850 741h0M825 535h0M934 572h0M928 750h0M984 479h0M969 665h0M736 580h0M879 738h0M794 768h0M598 690h0M813 732h0M816 722h0M996 514h0M730 665h0M1000 655h0M824 697h0M776 520h0M897 572h0M927 658h0M865 623h0M737 677h0M787 609h0M883 674h0M706 619h0M779 551h0M885 623h0M996 724h0M911 483h0M801 585h0M697 590h0M932 496h0M979 544h0M744 657h0M712 707h0M648 566h0M914 512h0M740 705h0M600 582h0M605 748h0M951 614h0M672 689h0M772 777h0M685 666h0M765 641h0M990 564h0M924 499h0M692 611h0M851 633h0M835 481h0M753 505h0M817 761h0M821 679h0M912 541h0M693 545h0M694 519h0M986 520h0M878 518h0M597 566h0M617 738h0M885 690h0M967 694h0M698 578h0M601 678h0M689 586h0M865 734h0M866 509h0M762 692h0M631 718h0M636 668h0M610 555h0M758 549h0M699 561h0M635 583h0M759 679h0M890 638h0M699 495h0M794 654h0M879 643h0M836 580h0M771 685h0M666 739h0M917 551h0M770 766h0M965 537h0M801 604h0M914 715h0M698 481h0M767 628h0M629 750h0M966 569h0M672 754h0M1008 575h0M930 481h0M945 679h0M655 731h0M992 660h0M897 491h0M895 678h0M794 556h0M892 744h0M805 647h0M982 602h0M819 557h0M875 488h0M763 705h0M935 509h0M781 758h0M976 517h0M893 665h0M683 749h0M972 627h0M759 664h0M890 650h0M603 720h0M661 765h0M597 662h0M999 528h0M692 534h0M807 788h0M614 714h0M716 753h0M798 492h0M824 506h0M945 597h0M947 629h0M925 644h0M603 482h0M743 749h0M622 537h0M832 783h0M932 782h0M843 639h0M668 545h0M762 498h0M664 693h0M731 773h0M743 626h0M887 606h0M899 598h0M955 480h0M690 737h0M922 707h0" stroke="#5a40b4" stroke-width="7.5" stroke-linecap="round" fill="none" opacity="0.9"/>
<path d="M619 644h0M658 573h0M624 626h0M936 700h0M871 712h0M610 765h0M923 611h0M872 696h0M892 514h0M746 483h0M605 610h0M911 744h0M948 727h0M757 582h0M1002 780h0M920 682h0M967 773h0M616 493h0M708 634h0M827 598h0M745 572h0M770 476h0M749 563h0M971 681h0M675 561h0M708 646h0M745 739h0M912 495h0M721 669h0M840 663h0M749 702h0M789 643h0M726 780h0M941 778h0M964 554h0M636 777h0M915 702h0M901 641h0M918 524h0M860 701h0M979 765h0M610 543h0M778 644h0M1004 639h0M618 517h0M721 542h0M885 659h0M734 562h0M642 647h0M771 650h0M1009 730h0M836 695h0M736 536h0M824 477h0M691 597h0M854 783h0M717 498h0M921 566h0M871 762h0M945 665h0M816 749h0M625 483h0M807 660h0M966 757h0M959 699h0M608 512h0M839 608h0M714 640h0M832 660h0M828 723h0M833 679h0M848 583h0M871 776h0M806 552h0M810 688h0M988 533h0M799 516h0M921 739h0M746 543h0M961 718h0M701 692h0M838 702h0M708 788h0M977 735h0M956 605h0M766 736h0M844 569h0M668 627h0M620 629h0M648 689h0M998 754h0M905 750h0M861 578h0M868 556h0M634 508h0M961 615h0M710 555h0M713 598h0M955 555h0M998 580h0M808 579h0M798 709h0M961 525h0M904 673h0M678 733h0M850 644h0M627 702h0M919 597h0M717 559h0M849 489h0M867 720h0M761 597h0M779 730h0M795 750h0M686 695h0M882 786h0M680 526h0M754 524h0M879 535h0M782 660h0M655 522h0M811 671h0M853 756h0M789 545h0M664 598h0M1010 599h0M676 484h0M994 773h0M939 551h0M946 696h0M974 532h0M788 628h0M807 758h0M988 552h0M667 530h0M708 773h0M793 732h0M900 741h0M747 672h0M974 503h0M1006 487h0M874 683h0M903 629h0M1000 737h0M786 485h0M860 564h0M770 561h0M840 747h0M966 650h0M777 712h0M654 596h0M648 545h0M691 655h0M886 706h0M952 669h0M998 488h0M783 595h0M816 540h0M922 631h0M796 669h0M654 622h0M631 650h0M1003 584h0M667 489h0" stroke="#7e6cd8" stroke-width="5.6" stroke-linecap="round" fill="none" opacity="0.77"/>
<path d="M619 646h0M658 571h0M627 626h0M936 702h0M873 711h0M612 763h0M925 610h0M872 694h0M889 513h0M746 481h0M605 612h0M912 746h0M947 726h0M759 581h0M1002 781h0M921 679h0M966 774h0M616 492h0M707 633h0M825 599h0M744 573h0M772 477h0M748 561h0M971 679h0M673 563h0M709 648h0M743 740h0M912 493h0M722 670h0M842 664h0M749 701h0M789 641h0M725 780h0M940 776h0M963 554h0M636 779h0M913 703h0M901 643h0M917 523h0M859 703h0M980 767h0M611 541h0M779 644h0M1002 640h0M619 518h0M722 544h0M883 660h0M735 564h0M642 645h0M771 653h0M1008 729h0M836 692h0M734 537h0M825 479h0M690 597h0M855 784h0M717 500h0M920 567h0M870 764h0M944 663h0M815 752h0M625 481h0M805 659h0M966 759h0M958 700h0M607 510h0M840 609h0M715 639h0M830 660h0M827 725h0M833 677h0M849 583h0M871 775h0M804 550h0M809 687h0M986 534h0M800 518h0M923 739h0M744 544h0M962 717h0M701 690h0M837 701h0M710 787h0M977 736h0M957 605h0M766 739h0M844 568h0M670 628h0M619 630h0M649 690h0M999 752h0M904 752h0M860 577h0M868 558h0M632 510h0M960 616h0M709 555h0M714 599h0M953 558h0M996 579h0M810 579h0M797 710h0M962 523h0M906 672h0M680 734h0M852 643h0M629 704h0M921 598h0M720 559h0M850 491h0M865 720h0M762 596h0M777 728h0M793 748h0M687 694h0M883 784h0M679 527h0M756 526h0M879 534h0M783 659h0M654 523h0M811 673h0M854 756h0M790 545h0M661 597h0M1009 599h0M678 483h0M993 772h0M940 553h0M945 696h0M972 530h0M790 627h0M805 757h0M990 554h0M667 532h0M707 772h0M792 733h0M902 741h0M746 671h0M973 501h0M1007 489h0M872 682h0M904 631h0M1001 735h0M787 484h0M857 563h0M769 561h0M842 749h0M966 648h0M775 711h0M652 595h0M647 546h0M693 656h0M886 704h0M953 670h0M996 487h0M784 596h0M817 540h0M923 629h0M795 666h0M653 624h0M632 649h0M1005 584h0M667 487h0" stroke="#7e6cd8" stroke-width="7" stroke-linecap="round" fill="none" opacity="0.85"/>
<path d="M867 515h0M615 587h0M820 684h0M841 547h0M722 480h0M879 779h0M861 521h0M997 537h0M1005 743h0M614 521h0M796 768h0M778 662h0M911 780h0M666 581h0M769 557h0M990 780h0M771 733h0M793 748h0M892 522h0M755 644h0M940 536h0M908 738h0M813 627h0M678 493h0M934 486h0M635 510h0M815 769h0M769 730h0M1002 660h0M901 638h0M988 577h0M662 782h0M851 663h0M792 621h0M871 551h0M954 484h0M903 689h0M769 572h0M971 662h0M973 498h0M774 645h0M922 661h0M690 689h0M758 587h0M899 682h0M677 525h0M721 586h0M961 539h0M666 747h0M659 565h0M705 758h0M993 608h0M886 592h0M680 598h0M982 634h0M652 591h0M866 666h0M665 655h0M957 491h0M756 562h0M810 486h0M745 674h0M793 646h0M912 670h0M796 517h0M620 734h0M691 756h0M903 580h0M858 550h0M736 643h0M770 600h0M935 599h0M985 686h0M883 754h0M776 672h0M988 679h0M647 746h0M958 649h0M677 748h0M893 758h0M784 696h0M657 523h0M959 730h0M732 484h0M669 598h0M958 625h0M949 504h0M836 654h0M784 783h0M876 763h0M951 699h0M747 678h0M819 693h0M622 513h0M844 486h0M854 687h0M705 551h0M860 576h0M671 781h0M722 532h0M811 764h0M994 779h0M617 536h0M608 665h0M673 562h0M976 561h0M997 595h0M922 784h0M968 579h0M839 702h0M954 608h0M861 507h0M970 551h0M992 595h0M981 776h0M849 681h0M863 534h0M843 520h0M677 634h0M694 623h0M683 733h0M946 583h0M812 506h0M991 740h0M619 669h0M831 518h0M733 766h0M632 781h0M953 671h0M868 719h0M670 779h0M902 552h0M760 596h0M743 727h0M805 772h0M909 574h0M678 594h0M629 567h0M637 747h0M725 749h0M948 772h0M697 730h0M864 699h0M626 504h0M994 684h0M684 716h0M682 577h0M650 704h0M732 568h0M813 697h0M734 710h0M891 654h0M724 554h0M680 728h0M932 655h0M734 736h0M880 633h0M766 674h0M638 495h0M809 774h0M652 504h0M692 783h0M872 523h0M802 532h0M896 632h0M947 612h0M682 515h0M1002 655h0M651 537h0M854 745h0M770 738h0M773 528h0M621 610h0M809 739h0M710 727h0M689 558h0M922 738h0M950 714h0M960 625h0M916 484h0M984 679h0M689 782h0M603 540h0M857 568h0M722 609h0M759 749h0M802 495h0M867 683h0M794 523h0M605 733h0M825 565h0M896 734h0M830 531h0M763 765h0M635 764h0M918 655h0M796 510h0M971 687h0M865 769h0M716 620h0M753 504h0M798 512h0M608 609h0M857 508h0M716 776h0M607 531h0M834 696h0M911 695h0M733 674h0M689 561h0M722 669h0M655 652h0M940 532h0M919 521h0M958 729h0M709 517h0M1002 552h0M615 686h0M617 656h0M758 519h0M990 734h0M880 518h0M811 623h0M705 501h0M611 526h0M944 536h0M706 698h0M941 517h0M688 700h0M918 551h0M678 732h0M805 555h0M709 731h0M925 638h0M756 657h0M921 586h0M739 537h0M686 721h0M910 718h0M875 503h0M913 576h0M901 603h0M862 748h0M759 693h0M852 779h0M781 553h0M822 689h0M886 734h0M722 728h0M838 556h0M964 604h0M770 671h0M746 516h0M888 698h0M951 703h0M664 536h0M727 783h0M875 695h0M912 714h0M695 755h0M930 737h0M944 550h0M977 676h0M952 488h0M773 783h0M811 665h0M656 521h0M876 626h0M858 549h0M695 767h0M960 690h0M830 712h0M755 656h0M784 771h0M673 575h0M1002 501h0M647 772h0M859 576h0M708 517h0M745 515h0M735 762h0M807 751h0M688 557h0M887 673h0M609 516h0M621 504h0M848 695h0M959 482h0M741 611h0M890 554h0M750 590h0M1001 596h0M870 485h0M776 541h0M926 741h0M992 566h0M891 557h0M987 702h0M739 647h0M839 553h0M953 601h0M945 485h0M707 605h0M804 487h0M797 767h0M749 774h0M725 556h0M675 619h0M840 518h0M883 723h0M933 533h0M818 553h0M812 543h0M790 712h0M619 520h0M942 776h0M780 614h0M814 693h0M983 610h0M644 610h0M966 732h0M635 662h0M959 521h0M631 784h0M771 640h0M836 654h0M739 676h0M825 665h0M615 549h0M673 596h0M947 592h0M972 490h0M624 517h0M768 726h0M786 630h0M664 530h0M877 506h0M729 694h0M672 660h0M880 533h0M950 722h0M770 531h0M915 773h0M894 512h0M636 676h0M719 767h0M613 506h0M643 617h0M949 683h0M871 481h0M639 537h0M839 642h0M865 612h0M998 586h0M920 723h0M814 595h0M783 774h0M846 631h0M976 773h0M883 689h0M967 520h0M600 579h0M978 613h0M735 570h0M820 629h0M695 540h0M944 520h0M839 680h0M653 512h0M774 493h0M949 730h0M729 687h0M657 576h0M809 617h0M877 591h0M735 731h0M720 708h0M689 584h0M722 718h0M704 587h0M871 602h0M916 649h0M848 603h0M649 515h0M635 588h0M774 549h0M944 663h0M700 709h0M667 583h0M701 605h0M767 769h0M900 579h0M1003 500h0M999 696h0M854 621h0M807 484h0M868 706h0M620 605h0M1002 564h0M874 758h0M908 700h0M833 591h0M728 694h0M867 550h0M828 560h0M965 606h0M928 483h0M890 766h0M847 651h0M650 493h0M840 748h0M687 679h0M942 701h0M927 776h0M951 693h0M624 529h0M858 735h0M862 525h0M704 617h0M861 567h0M727 578h0M887 762h0M809 656h0M645 591h0M846 515h0M891 670h0M879 682h0M951 751h0M724 602h0M763 696h0M773 491h0M916 496h0M839 650h0M848 710h0M979 541h0M706 520h0M926 724h0M880 760h0M992 639h0M701 568h0M849 685h0M756 613h0M886 694h0M677 711h0M987 588h0M722 499h0M850 669h0M978 593h0M726 719h0M745 774h0M845 781h0M1001 759h0M933 737h0M989 488h0M748 746h0M937 637h0M932 658h0M1005 739h0M997 601h0M743 612h0M877 766h0M672 766h0M620 482h0M606 488h0M810 710h0M662 766h0M637 506h0M658 632h0M869 662h0M690 590h0M676 762h0M708 705h0M1000 690h0M970 568h0M861 547h0M802 527h0M775 672h0M693 773h0M800 547h0M764 506h0M757 690h0M640 668h0M855 603h0M999 692h0M956 759h0M963 530h0M863 583h0M956 598h0M845 562h0M726 549h0M640 544h0M823 575h0M940 595h0M775 668h0M988 784h0M816 599h0M636 485h0M972 771h0M605 542h0M754 654h0M830 718h0M863 554h0M993 611h0M697 693h0M737 541h0M730 647h0M663 574h0M946 768h0M831 748h0M858 493h0M762 499h0M842 534h0M666 616h0M951 621h0M785 542h0M818 750h0M732 765h0M779 702h0M983 539h0M697 500h0M772 621h0M739 621h0M918 656h0M930 717h0M960 600h0M870 510h0M1000 733h0M621 514h0M900 721h0M833 686h0M929 664h0M759 692h0M939 541h0M759 593h0M635 538h0M701 657h0M946 778h0M971 527h0M601 647h0M769 547h0M915 601h0M860 663h0M767 523h0M763 655h0M927 528h0M803 701h0M893 706h0M600 556h0M814 649h0M711 612h0M755 545h0M666 507h0M935 488h0M776 714h0M729 733h0M977 699h0M987 654h0M860 769h0M895 515h0M928 761h0M916 674h0M632 740h0M912 743h0M843 522h0M979 703h0M677 735h0M640 582h0M876 511h0M939 774h0M681 668h0M845 577h0M812 656h0M944 500h0M626 548h0M853 554h0M626 506h0M715 744h0M940 626h0M911 631h0M679 694h0M830 778h0M860 638h0M617 510h0M742 607h0M744 691h0M978 730h0M786 666h0M887 518h0M710 479h0M639 540h0M692 532h0M707 764h0M706 626h0M614 492h0M955 574h0M831 583h0M838 695h0M848 572h0M763 560h0M883 480h0M662 664h0M745 686h0M724 607h0M871 540h0M918 576h0M831 727h0M957 761h0M834 524h0M841 599h0M983 566h0M608 743h0M657 566h0M680 512h0M976 546h0M747 514h0M888 571h0M673 484h0M710 610h0M849 605h0M681 560h0M638 546h0M726 773h0M640 583h0M751 660h0M967 736h0M746 727h0M796 655h0M975 531h0M795 607h0M808 548h0M948 531h0M889 708h0M775 634h0M913 696h0M1006 607h0M807 564h0M810 722h0M937 575h0M934 585h0M775 580h0M739 655h0M737 654h0M827 480h0M962 715h0M768 760h0M610 493h0M981 606h0M970 767h0M748 679h0M822 497h0M996 527h0M882 526h0M633 681h0M849 756h0M977 750h0M806 667h0M804 621h0M686 485h0M816 654h0M961 498h0M883 768h0M898 767h0M798 766h0M944 657h0M901 630h0M1005 483h0M673 503h0M819 484h0M665 676h0M754 694h0M724 505h0M879 725h0M656 778h0M1004 666h0M737 606h0M876 635h0M617 605h0M918 614h0M774 506h0M930 712h0M921 613h0M975 548h0M732 722h0M855 706h0M731 623h0M864 783h0M929 527h0M794 776h0M749 606h0M619 779h0M873 659h0M927 549h0M688 550h0M845 580h0M818 781h0M964 506h0M870 522h0M724 745h0M858 699h0M873 676h0M989 690h0M667 568h0M870 767h0M692 642h0M975 585h0M866 718h0M648 598h0M687 504h0M819 547h0M749 586h0M995 674h0M882 678h0M664 488h0M786 624h0M727 766h0M700 486h0M723 727h0M1004 568h0M981 544h0M913 670h0M853 733h0M843 735h0M686 629h0M814 514h0M847 761h0M794 510h0M706 502h0M960 714h0M746 657h0M652 767h0M999 624h0M684 699h0M904 689h0M912 662h0M818 517h0M642 647h0M855 741h0M929 688h0M685 483h0M623 750h0M908 706h0M766 696h0M786 745h0M695 712h0M800 591h0M717 514h0M645 567h0M628 744h0M682 602h0M838 656h0M941 665h0M740 646h0M747 548h0M806 585h0M786 760h0M971 679h0M978 511h0M915 526h0M607 750h0M884 480h0M992 492h0M765 547h0M864 633h0M721 580h0M952 503h0M895 491h0M897 528h0M715 759h0M815 583h0M958 680h0M663 482h0M848 674h0M960 619h0M988 768h0M743 489h0M987 562h0M948 554h0M701 577h0M772 759h0M850 559h0M603 491h0M847 614h0M724 536h0M904 522h0M669 617h0M943 508h0M812 639h0M901 755h0M972 755h0M708 707h0M812 651h0M666 597h0M623 581h0M841 738h0M916 685h0M803 541h0M901 687h0M649 744h0M752 744h0M885 683h0M689 538h0M718 482h0M929 606h0M654 707h0M785 687h0M842 632h0M979 624h0M867 705h0M697 758h0M913 696h0M813 555h0M857 620h0M787 519h0M695 503h0M626 491h0M771 544h0M735 702h0M854 757h0M898 774h0M701 700h0M890 633h0M856 578h0M953 536h0M929 520h0M619 755h0M995 766h0M763 770h0M614 545h0M909 782h0M752 575h0M948 677h0M858 705h0M745 661h0M839 602h0M927 551h0M880 495h0M712 541h0M827 704h0M863 533h0M826 769h0M918 640h0M761 614h0M770 610h0M858 715h0M665 646h0M796 576h0M803 606h0M906 503h0M938 572h0M779 721h0M785 626h0M807 557h0M869 537h0M808 568h0M699 705h0M948 498h0M864 615h0M848 782h0M898 783h0M1003 741h0M672 633h0M792 574h0M856 577h0M684 529h0M970 765h0M622 640h0M795 564h0M810 713h0M651 484h0M682 636h0M718 597h0M998 504h0M748 669h0M765 526h0M677 663h0M815 761h0M753 618h0M688 559h0M637 748h0M883 551h0M853 669h0M710 637h0M739 565h0M1002 564h0M735 524h0M861 737h0M713 520h0M808 784h0M616 665h0M1002 752h0M933 669h0M759 511h0M802 610h0M882 707h0M775 758h0M991 729h0M627 708h0M615 486h0M958 597h0M648 530h0" stroke="#e04282" stroke-width="4" stroke-linecap="round" fill="none" opacity="0.85"/>
<path d="M942 632h0M836 730h0M664 659h0M734 728h0M746 679h0M939 667h0M689 561h0M640 587h0M697 579h0M648 662h0M948 551h0M986 733h0M805 733h0M814 543h0M957 486h0M771 696h0M985 606h0M667 547h0M842 735h0M926 710h0M837 537h0M740 514h0M641 516h0M776 554h0M904 613h0M650 590h0M738 609h0M767 567h0M659 628h0M733 587h0M790 500h0M756 617h0M993 558h0M961 656h0M917 529h0M1003 648h0M822 752h0M939 573h0M852 738h0M688 499h0M782 759h0M705 757h0M695 656h0M742 600h0M909 715h0M669 533h0M995 514h0M686 747h0M989 570h0M696 688h0M942 512h0M643 634h0M996 491h0M822 550h0M733 585h0M643 582h0M788 689h0M960 728h0M912 497h0M802 524h0M891 634h0M625 750h0M806 568h0M947 577h0M936 713h0M948 628h0M611 689h0M879 603h0M752 631h0M809 661h0M770 549h0M601 726h0M831 491h0M893 730h0M878 653h0M767 499h0M952 747h0M615 510h0M688 674h0M939 715h0M1000 642h0M924 501h0M714 701h0M901 734h0M618 733h0M919 586h0M931 732h0M891 542h0M660 770h0M870 505h0M785 503h0M982 724h0M820 684h0M761 518h0M758 708h0M773 506h0M970 687h0M617 596h0M991 735h0M646 631h0M889 620h0M1005 580h0M712 738h0M952 752h0M640 662h0M778 570h0M730 770h0M984 694h0M911 780h0M946 707h0M794 633h0M765 500h0M892 585h0M781 682h0M673 743h0M961 580h0M831 492h0M680 530h0M711 562h0M664 548h0M944 680h0M647 751h0M626 543h0M770 613h0M880 648h0M946 640h0M882 497h0M686 592h0M970 648h0M857 549h0M678 697h0M727 589h0M913 502h0M708 621h0M935 629h0M763 679h0M723 648h0M754 767h0M960 671h0M841 483h0M639 568h0M884 756h0M954 656h0M664 759h0M823 619h0M825 661h0M947 726h0M844 760h0M612 542h0M923 546h0M908 698h0M759 699h0M775 506h0M966 570h0M624 766h0M933 690h0M765 580h0M965 527h0M666 686h0M924 541h0M785 770h0M890 608h0M610 715h0M855 740h0M795 576h0M743 481h0M897 484h0M895 486h0M986 722h0M931 561h0M743 629h0M974 585h0M740 497h0M677 510h0M731 749h0M917 592h0M983 507h0M725 630h0M650 592h0M954 570h0M935 595h0M863 647h0M720 567h0M702 605h0M797 654h0M891 520h0M899 753h0M786 552h0M961 744h0M943 766h0M982 591h0M799 738h0M958 491h0M848 619h0M779 761h0M915 770h0M633 777h0M671 560h0M756 762h0M606 760h0M693 651h0M606 709h0M958 520h0M901 783h0M627 570h0M672 652h0M841 669h0M762 699h0M876 559h0M612 535h0M852 497h0M969 723h0M908 628h0M655 564h0M762 704h0M979 604h0M922 782h0M992 705h0M922 495h0M984 508h0M903 718h0M659 583h0M660 651h0M850 717h0M986 636h0M808 510h0M759 623h0M621 743h0M794 584h0M947 561h0M868 624h0M917 704h0M910 508h0M656 504h0M942 502h0M948 718h0M707 517h0M932 482h0M994 628h0M957 516h0M647 597h0M965 715h0M824 762h0M926 499h0M890 577h0M642 727h0M991 553h0M606 488h0M846 734h0M895 672h0M696 603h0M612 693h0M696 708h0M958 774h0M797 626h0M860 614h0M807 728h0M818 631h0M1006 667h0M875 781h0M661 657h0M750 490h0M859 526h0M920 481h0M721 700h0M801 754h0M654 608h0M805 531h0M654 709h0M824 502h0M865 523h0M873 622h0M738 561h0M678 497h0M704 559h0M748 491h0M752 697h0M935 605h0M642 685h0M604 608h0M640 590h0M853 666h0M607 527h0M813 692h0M969 588h0M882 696h0M995 702h0M624 755h0M846 548h0M720 555h0M773 582h0M773 763h0M688 615h0M786 619h0M870 517h0M834 623h0M645 531h0M977 497h0M888 536h0M642 553h0M825 612h0M698 767h0M707 493h0M635 564h0M948 660h0M694 738h0M1003 782h0M625 676h0M604 537h0M808 682h0M738 636h0M607 520h0M915 765h0M633 559h0M964 606h0M622 617h0M994 777h0M711 537h0M743 659h0M980 707h0M676 518h0M816 509h0M723 707h0M925 644h0M979 770h0M687 694h0M831 555h0M792 751h0M980 688h0M769 605h0M1004 667h0M843 645h0M795 513h0M942 713h0M632 650h0M909 637h0M630 580h0M995 512h0M906 761h0M719 480h0M626 629h0M699 555h0M645 591h0M851 572h0M930 518h0M733 519h0M709 582h0M676 600h0M823 645h0M668 607h0M683 714h0M644 544h0M648 652h0M997 733h0M780 619h0M765 545h0M765 614h0M635 693h0M726 633h0M941 655h0M632 526h0M973 602h0M722 488h0M718 493h0M972 670h0M616 778h0M609 518h0M639 751h0M607 669h0M675 754h0M847 499h0M885 582h0M676 526h0M759 762h0M953 778h0M885 656h0M989 739h0M970 599h0M715 687h0M820 630h0M815 702h0M816 743h0M631 759h0M654 602h0M811 606h0M1004 763h0M864 751h0M711 593h0M713 767h0M634 722h0M745 550h0M812 530h0M649 688h0M775 536h0M890 730h0M926 493h0M777 604h0M882 604h0M689 576h0M671 674h0M773 760h0M1004 481h0M958 530h0M634 594h0M667 565h0M991 679h0M696 632h0M995 562h0M759 624h0M860 480h0M800 686h0M773 545h0M702 573h0M636 488h0M844 631h0M912 779h0M958 732h0M862 780h0M774 694h0M981 617h0M734 602h0M937 548h0M898 494h0M795 687h0M789 734h0M697 632h0M830 641h0M711 651h0M654 587h0M972 679h0M707 614h0M657 594h0M621 690h0M983 510h0M618 588h0M968 592h0M898 557h0M647 561h0M886 545h0M951 545h0M658 756h0M684 560h0M806 589h0M625 557h0M957 690h0M828 778h0M617 575h0M851 610h0M629 777h0M835 741h0M736 550h0M695 576h0M898 731h0M753 582h0M761 609h0M817 535h0M743 636h0M923 717h0M731 716h0M952 612h0M631 651h0M908 709h0M693 549h0M832 590h0M782 721h0M996 538h0M953 512h0M605 597h0M680 676h0M867 484h0M749 505h0M882 600h0M680 616h0M791 519h0M682 716h0M727 653h0M892 494h0M781 765h0M868 559h0M1005 572h0M708 729h0M665 523h0M866 645h0M906 572h0M812 748h0M678 544h0M798 624h0M607 696h0M920 705h0M790 670h0M659 578h0M842 505h0M655 770h0M645 769h0M962 538h0M842 543h0M955 482h0M922 638h0M682 538h0M937 684h0" stroke="#a82868" stroke-width="2.5" stroke-linecap="round" fill="none" opacity="0.75"/>
</g></g>
<rect x="186" y="177" width="113" height="8" fill="#000"/>
<rect x="610" y="176.5" width="111" height="8" fill="#000"/>
<rect x="186" y="508" width="113" height="8" fill="#000"/>
<rect x="610" y="508" width="111" height="8" fill="#000"/>
<text x="50.39" y="94.50" font-size="94.00" font-weight="bold" textLength="63.70" lengthAdjust="spacingAndGlyphs" fill="#000">A</text>
<text x="297.39" y="129.50" font-size="43.00" textLength="146.03" lengthAdjust="spacingAndGlyphs" fill="#000">Ad GFP</text>
<text x="705.19" y="128.30" font-size="43.00" textLength="197.88" lengthAdjust="spacingAndGlyphs" fill="#000">Ad GRP78</text>
<text x="49.55" y="316.50" font-size="43.00" textLength="82.10" lengthAdjust="spacingAndGlyphs" fill="#000">STD</text>
<text x="27.10" y="645.50" font-size="43.00" textLength="104.56" lengthAdjust="spacingAndGlyphs" fill="#000">vHFD</text>
<line x1="1189.70" y1="228.50" x2="1189.70" y2="652.50" stroke="#000" stroke-width="3.4" stroke-linecap="butt"/>
<line x1="1177.50" y1="651.60" x2="1189.70" y2="651.60" stroke="#000" stroke-width="3.4" stroke-linecap="butt"/>
<line x1="1177.50" y1="511.10" x2="1189.70" y2="511.10" stroke="#000" stroke-width="3.4" stroke-linecap="butt"/>
<line x1="1177.50" y1="370.60" x2="1189.70" y2="370.60" stroke="#000" stroke-width="3.4" stroke-linecap="butt"/>
<line x1="1177.50" y1="230.10" x2="1189.70" y2="230.10" stroke="#000" stroke-width="3.4" stroke-linecap="butt"/>
<line x1="1177.50" y1="651.00" x2="1821.00" y2="651.00" stroke="#000" stroke-width="3.4" stroke-linecap="butt"/>
<line x1="1268.25" y1="627.70" x2="1268.25" y2="622.50" stroke="#000" stroke-width="3.6" stroke-linecap="butt"/>
<line x1="1242.75" y1="622.50" x2="1293.75" y2="622.50" stroke="#000" stroke-width="3.6" stroke-linecap="round"/>
<rect x="1216.10" y="628.30" width="104.30" height="24.50" fill="#fff"/>
<path d="M1216.10 652.80V628.30H1320.40V652.80" fill="none" stroke="#000" stroke-width="3.2" stroke-linejoin="round"/>
<line x1="1217.70" y1="652.10" x2="1318.80" y2="652.10" stroke="#a8a8a8" stroke-width="1.4"/>
<line x1="1424.90" y1="613.50" x2="1424.90" y2="607.50" stroke="#000" stroke-width="3.6" stroke-linecap="butt"/>
<line x1="1399.40" y1="607.50" x2="1450.40" y2="607.50" stroke="#000" stroke-width="3.6" stroke-linecap="round"/>
<rect x="1372.60" y="614.10" width="104.60" height="38.70" fill="#cbcbca"/>
<path d="M1372.60 652.80V614.10H1477.20V652.80" fill="none" stroke="#000" stroke-width="3.2" stroke-linejoin="round"/>
<line x1="1374.20" y1="652.10" x2="1475.60" y2="652.10" stroke="#8c8c8c" stroke-width="1.4"/>
<line x1="1581.90" y1="332.30" x2="1581.90" y2="310.00" stroke="#000" stroke-width="3.6" stroke-linecap="butt"/>
<line x1="1556.40" y1="310.00" x2="1607.40" y2="310.00" stroke="#000" stroke-width="3.6" stroke-linecap="round"/>
<rect x="1529.60" y="332.90" width="104.60" height="319.90" fill="#000"/>
<path d="M1529.60 652.80V332.90H1634.20V652.80" fill="none" stroke="#000" stroke-width="3.2" stroke-linejoin="round"/>
<line x1="1738.65" y1="425.40" x2="1738.65" y2="400.40" stroke="#000" stroke-width="3.6" stroke-linecap="butt"/>
<line x1="1713.15" y1="400.40" x2="1764.15" y2="400.40" stroke="#000" stroke-width="3.6" stroke-linecap="round"/>
<rect x="1686.10" y="426.00" width="105.10" height="226.80" fill="#2680c3"/>
<path d="M1686.10 652.80V426.00H1791.20V652.80" fill="none" stroke="#000" stroke-width="3.2" stroke-linejoin="round"/>
<line x1="1687.70" y1="652.10" x2="1789.60" y2="652.10" stroke="#1c5a8c" stroke-width="1.4"/>
<text x="1129.07" y="244.00" font-size="40.50" textLength="45.05" lengthAdjust="spacingAndGlyphs" fill="#000">15</text>
<text x="1129.07" y="384.60" font-size="40.50" textLength="45.05" lengthAdjust="spacingAndGlyphs" fill="#000">10</text>
<text x="1151.24" y="525.60" font-size="40.50" textLength="22.52" lengthAdjust="spacingAndGlyphs" fill="#000">5</text>
<text x="1151.24" y="665.00" font-size="40.50" textLength="22.52" lengthAdjust="spacingAndGlyphs" fill="#000">0</text>
<text transform="translate(1111.50,623.79) rotate(-90)" x="0" y="0" font-size="43.00" textLength="376.45" lengthAdjust="spacingAndGlyphs">Red stained area (%)</text>
<text x="1541.16" y="298.80" font-size="54.60" style="font-family:IPAGothic" textLength="95.07" lengthAdjust="spacingAndGlyphs" fill="#000" stroke="#fff" stroke-width="0.9">***</text>
<text x="1700.95" y="384.10" font-size="50.60" textLength="81.96" lengthAdjust="spacingAndGlyphs" fill="#000" stroke="#fff" stroke-width="0.6">###</text>
<rect x="1453.40" y="702.10" width="51.00" height="26.40" fill="#fff" stroke="#000" stroke-width="3.6"/>
<text x="1525.72" y="727.00" font-size="35.50" textLength="202.79" lengthAdjust="spacingAndGlyphs" fill="#000">STD Ad GFP</text>
<rect x="1453.40" y="754.20" width="51.00" height="26.90" fill="#cbcbca" stroke="#000" stroke-width="3.6"/>
<text x="1525.71" y="779.60" font-size="35.50" textLength="246.81" lengthAdjust="spacingAndGlyphs" fill="#000">STD Ad GRP78</text>
<rect x="1453.40" y="804.50" width="51.00" height="26.80" fill="#000" stroke="#000" stroke-width="3.6"/>
<text x="1525.84" y="828.00" font-size="35.50" textLength="202.75" lengthAdjust="spacingAndGlyphs" fill="#000">vHFD Ad GFP</text>
<rect x="1453.40" y="856.50" width="51.00" height="26.90" fill="#2680c3" stroke="#000" stroke-width="3.6"/>
<text x="1525.82" y="881.90" font-size="35.50" textLength="265.70" lengthAdjust="spacingAndGlyphs" fill="#000">vHFD Ad GRP78</text>
<text x="877.42" y="912.40" font-size="68.50" textLength="122.98" lengthAdjust="spacingAndGlyphs" fill="#000">GTT</text>
<text x="51.49" y="994.00" font-size="94.00" font-weight="bold" textLength="61.21" lengthAdjust="spacingAndGlyphs" fill="#000">B</text>
<text x="50.65" y="1616.50" font-size="94.00" font-weight="bold" textLength="62.30" lengthAdjust="spacingAndGlyphs" fill="#000">C</text>
<text x="888.03" y="1626.20" font-size="69.00" textLength="96.12" lengthAdjust="spacingAndGlyphs" fill="#000">ITT</text>
<text x="51.33" y="2312.50" font-size="92.00" font-weight="bold" textLength="62.94" lengthAdjust="spacingAndGlyphs" fill="#000">D</text>
<g stroke="#fff" stroke-width="0.5">
<line x1="288.50" y1="970.50" x2="288.50" y2="1390.50" stroke="#000" stroke-width="3.5" stroke-linecap="butt"/>
<line x1="275.50" y1="1389.00" x2="288.50" y2="1389.00" stroke="#000" stroke-width="3.5" stroke-linecap="butt"/>
<line x1="275.50" y1="1305.60" x2="288.50" y2="1305.60" stroke="#000" stroke-width="3.5" stroke-linecap="butt"/>
<line x1="275.50" y1="1222.20" x2="288.50" y2="1222.20" stroke="#000" stroke-width="3.5" stroke-linecap="butt"/>
<line x1="275.50" y1="1138.80" x2="288.50" y2="1138.80" stroke="#000" stroke-width="3.5" stroke-linecap="butt"/>
<line x1="275.50" y1="1055.40" x2="288.50" y2="1055.40" stroke="#000" stroke-width="3.5" stroke-linecap="butt"/>
<line x1="275.50" y1="972.00" x2="288.50" y2="972.00" stroke="#000" stroke-width="3.5" stroke-linecap="butt"/>
<line x1="275.90" y1="1389.00" x2="919.00" y2="1389.00" stroke="#000" stroke-width="3.5" stroke-linecap="butt"/>
<line x1="319.00" y1="1389.00" x2="319.00" y2="1401.60" stroke="#000" stroke-width="3.5" stroke-linecap="butt"/>
<line x1="408.75" y1="1389.00" x2="408.75" y2="1401.60" stroke="#000" stroke-width="3.5" stroke-linecap="butt"/>
<line x1="498.49" y1="1389.00" x2="498.49" y2="1401.60" stroke="#000" stroke-width="3.5" stroke-linecap="butt"/>
<line x1="677.98" y1="1389.00" x2="677.98" y2="1401.60" stroke="#000" stroke-width="3.5" stroke-linecap="butt"/>
<line x1="857.47" y1="1389.00" x2="857.47" y2="1401.60" stroke="#000" stroke-width="3.5" stroke-linecap="butt"/>
<line x1="917.40" y1="1389.00" x2="917.40" y2="1401.60" stroke="#000" stroke-width="3.5" stroke-linecap="butt"/>
<text x="203.71" y="985.40" font-size="41.50" textLength="66.53" lengthAdjust="spacingAndGlyphs" fill="#000">250</text>
<text x="203.71" y="1068.80" font-size="41.50" textLength="66.53" lengthAdjust="spacingAndGlyphs" fill="#000">200</text>
<text x="202.66" y="1152.20" font-size="41.50" textLength="67.60" lengthAdjust="spacingAndGlyphs" fill="#000">150</text>
<text x="202.66" y="1235.60" font-size="41.50" textLength="67.60" lengthAdjust="spacingAndGlyphs" fill="#000">100</text>
<text x="225.39" y="1319.00" font-size="41.50" textLength="44.82" lengthAdjust="spacingAndGlyphs" fill="#000">50</text>
<text x="247.63" y="1402.40" font-size="41.50" textLength="23.08" lengthAdjust="spacingAndGlyphs" fill="#000">0</text>
<text x="307.48" y="1442.20" font-size="41.50" textLength="23.08" lengthAdjust="spacingAndGlyphs" fill="#000">0</text>
<text x="384.81" y="1445.00" font-size="41.50" textLength="46.51" lengthAdjust="spacingAndGlyphs" fill="#000">15</text>
<text x="476.07" y="1442.20" font-size="41.50" textLength="44.93" lengthAdjust="spacingAndGlyphs" fill="#000">30</text>
<text x="655.14" y="1442.20" font-size="41.50" textLength="45.37" lengthAdjust="spacingAndGlyphs" fill="#000">60</text>
<text x="834.84" y="1442.20" font-size="41.50" textLength="45.14" lengthAdjust="spacingAndGlyphs" fill="#000">90</text>
<text x="486.41" y="1496.20" font-size="41.50" textLength="187.68" lengthAdjust="spacingAndGlyphs" fill="#000">Time (min)</text>
<text transform="translate(185.20,1330.24) rotate(-90)" x="0" y="0" font-size="43.00" textLength="302.17" lengthAdjust="spacingAndGlyphs">Glucose (mg/dL)</text>
<polyline points="319.00,1288.92 408.75,1190.51 498.49,1177.50 677.98,1173.33 857.47,1250.72" fill="none" stroke="#000" stroke-width="3.4" stroke-linejoin="round"/>
<polyline points="319.00,1288.92 408.75,1204.02 498.49,1162.15 677.98,1164.32 857.47,1246.55" fill="none" stroke="#000" stroke-width="3.4" stroke-linejoin="round"/>
<line x1="408.75" y1="1204.02" x2="408.75" y2="1218.50" stroke="#000" stroke-width="3.2" stroke-linecap="butt"/>
<line x1="393.25" y1="1218.50" x2="424.25" y2="1218.50" stroke="#000" stroke-width="3.2" stroke-linecap="butt"/>
<line x1="498.49" y1="1162.15" x2="498.49" y2="1142.30" stroke="#000" stroke-width="3.2" stroke-linecap="butt"/>
<line x1="482.49" y1="1142.30" x2="514.49" y2="1142.30" stroke="#000" stroke-width="3.2" stroke-linecap="butt"/>
<line x1="677.98" y1="1164.32" x2="677.98" y2="1146.90" stroke="#000" stroke-width="3.2" stroke-linecap="butt"/>
<line x1="661.98" y1="1146.90" x2="693.98" y2="1146.90" stroke="#000" stroke-width="3.2" stroke-linecap="butt"/>
<rect x="304.45" y="1274.37" width="29.10" height="29.10" fill="#cbcbca" stroke="#000" stroke-width="3.9"/>
<rect x="394.19" y="1175.96" width="29.10" height="29.10" fill="#cbcbca" stroke="#000" stroke-width="3.9"/>
<rect x="483.94" y="1162.95" width="29.10" height="29.10" fill="#cbcbca" stroke="#000" stroke-width="3.9"/>
<rect x="663.43" y="1158.78" width="29.10" height="29.10" fill="#cbcbca" stroke="#000" stroke-width="3.9"/>
<rect x="842.92" y="1236.17" width="29.10" height="29.10" fill="#cbcbca" stroke="#000" stroke-width="3.9"/>
<circle cx="319.00" cy="1288.92" r="13.85" fill="#fff" stroke="#000" stroke-width="3.8"/>
<circle cx="408.75" cy="1204.02" r="13.85" fill="#fff" stroke="#000" stroke-width="3.8"/>
<circle cx="498.49" cy="1162.15" r="13.85" fill="#fff" stroke="#000" stroke-width="3.8"/>
<circle cx="677.98" cy="1164.32" r="13.85" fill="#fff" stroke="#000" stroke-width="3.8"/>
<circle cx="857.47" cy="1246.55" r="13.85" fill="#fff" stroke="#000" stroke-width="3.8"/>
</g>
<line x1="1189.70" y1="970.10" x2="1189.70" y2="1390.70" stroke="#000" stroke-width="3.5" stroke-linecap="butt"/>
<line x1="1176.70" y1="1389.20" x2="1189.70" y2="1389.20" stroke="#000" stroke-width="3.5" stroke-linecap="butt"/>
<line x1="1176.70" y1="1305.68" x2="1189.70" y2="1305.68" stroke="#000" stroke-width="3.5" stroke-linecap="butt"/>
<line x1="1176.70" y1="1222.16" x2="1189.70" y2="1222.16" stroke="#000" stroke-width="3.5" stroke-linecap="butt"/>
<line x1="1176.70" y1="1138.64" x2="1189.70" y2="1138.64" stroke="#000" stroke-width="3.5" stroke-linecap="butt"/>
<line x1="1176.70" y1="1055.12" x2="1189.70" y2="1055.12" stroke="#000" stroke-width="3.5" stroke-linecap="butt"/>
<line x1="1176.70" y1="971.60" x2="1189.70" y2="971.60" stroke="#000" stroke-width="3.5" stroke-linecap="butt"/>
<line x1="1177.10" y1="1389.20" x2="1821.20" y2="1389.20" stroke="#000" stroke-width="3.5" stroke-linecap="butt"/>
<line x1="1219.00" y1="1389.20" x2="1219.00" y2="1401.90" stroke="#000" stroke-width="3.5" stroke-linecap="butt"/>
<line x1="1309.00" y1="1389.20" x2="1309.00" y2="1401.90" stroke="#000" stroke-width="3.5" stroke-linecap="butt"/>
<line x1="1399.00" y1="1389.20" x2="1399.00" y2="1401.90" stroke="#000" stroke-width="3.5" stroke-linecap="butt"/>
<line x1="1579.00" y1="1389.20" x2="1579.00" y2="1401.90" stroke="#000" stroke-width="3.5" stroke-linecap="butt"/>
<line x1="1759.00" y1="1389.20" x2="1759.00" y2="1401.90" stroke="#000" stroke-width="3.5" stroke-linecap="butt"/>
<line x1="1819.60" y1="1389.20" x2="1819.60" y2="1401.90" stroke="#000" stroke-width="3.5" stroke-linecap="butt"/>
<text x="1149.73" y="1403.80" font-size="41.50" textLength="23.08" lengthAdjust="spacingAndGlyphs" fill="#000">0</text>
<text x="1126.74" y="1320.28" font-size="41.50" textLength="46.11" lengthAdjust="spacingAndGlyphs" fill="#000">50</text>
<text x="1102.75" y="1236.76" font-size="41.50" textLength="70.19" lengthAdjust="spacingAndGlyphs" fill="#000">100</text>
<text x="1102.75" y="1153.24" font-size="41.50" textLength="70.19" lengthAdjust="spacingAndGlyphs" fill="#000">150</text>
<text x="1103.83" y="1069.72" font-size="41.50" textLength="69.07" lengthAdjust="spacingAndGlyphs" fill="#000">200</text>
<text x="1103.83" y="986.20" font-size="41.50" textLength="69.07" lengthAdjust="spacingAndGlyphs" fill="#000">250</text>
<text x="1207.48" y="1441.90" font-size="41.50" textLength="23.08" lengthAdjust="spacingAndGlyphs" fill="#000">0</text>
<text x="1283.86" y="1444.70" font-size="41.50" textLength="48.85" lengthAdjust="spacingAndGlyphs" fill="#000">15</text>
<text x="1375.45" y="1441.90" font-size="41.50" textLength="47.19" lengthAdjust="spacingAndGlyphs" fill="#000">30</text>
<text x="1555.01" y="1441.90" font-size="41.50" textLength="47.66" lengthAdjust="spacingAndGlyphs" fill="#000">60</text>
<text x="1735.23" y="1441.90" font-size="41.50" textLength="47.42" lengthAdjust="spacingAndGlyphs" fill="#000">90</text>
<text x="1386.60" y="1496.30" font-size="41.50" textLength="190.13" lengthAdjust="spacingAndGlyphs" fill="#000">Time (min)</text>
<text transform="translate(1086.50,1324.70) rotate(-90)" x="0" y="0" font-size="42.00" textLength="296.38" lengthAdjust="spacingAndGlyphs">Glucose (mg/dL)</text>
<polyline points="1219.00,1274.78 1309.00,1156.35 1399.00,1076.84 1579.00,1097.55 1759.00,1199.78" fill="none" stroke="#000" stroke-width="3.4" stroke-linejoin="round"/>
<polyline points="1219.00,1264.92 1309.00,1122.60 1399.00,1076.84 1579.00,1063.30 1759.00,1134.80" fill="none" stroke="#000" stroke-width="3.4" stroke-linejoin="round"/>
<rect x="1204.90" y="1260.68" width="28.20" height="28.20" fill="#2680c3" stroke="#000" stroke-width="3.8"/>
<rect x="1294.90" y="1142.25" width="28.20" height="28.20" fill="#2680c3" stroke="#000" stroke-width="3.8"/>
<rect x="1564.90" y="1083.45" width="28.20" height="28.20" fill="#2680c3" stroke="#000" stroke-width="3.8"/>
<rect x="1744.90" y="1185.68" width="28.20" height="28.20" fill="#2680c3" stroke="#000" stroke-width="3.8"/>
<circle cx="1219.00" cy="1264.92" r="14.20" fill="#000" stroke="#000" stroke-width="3.6"/>
<circle cx="1309.00" cy="1122.60" r="14.20" fill="#000" stroke="#000" stroke-width="3.6"/>
<circle cx="1579.00" cy="1063.30" r="14.20" fill="#000" stroke="#000" stroke-width="3.6"/>
<circle cx="1759.00" cy="1134.80" r="14.20" fill="#000" stroke="#000" stroke-width="3.6"/>
<rect x="1384.40" y="1062.24" width="29.20" height="29.20" fill="#000" stroke="#000" stroke-width="3.8"/>
<line x1="1309.00" y1="1122.60" x2="1309.00" y2="1078.60" stroke="#000" stroke-width="3.2" stroke-linecap="butt"/>
<line x1="1292.50" y1="1078.60" x2="1325.50" y2="1078.60" stroke="#000" stroke-width="3.2" stroke-linecap="butt"/>
<line x1="1309.00" y1="1156.35" x2="1309.00" y2="1179.90" stroke="#000" stroke-width="3.2" stroke-linecap="butt"/>
<line x1="1292.50" y1="1179.90" x2="1325.50" y2="1179.90" stroke="#000" stroke-width="3.2" stroke-linecap="butt"/>
<line x1="1399.00" y1="1076.84" x2="1399.00" y2="1019.00" stroke="#000" stroke-width="3.2" stroke-linecap="butt"/>
<line x1="1382.50" y1="1019.00" x2="1415.50" y2="1019.00" stroke="#000" stroke-width="3.2" stroke-linecap="butt"/>
<line x1="1399.00" y1="1076.84" x2="1399.00" y2="1048.10" stroke="#000" stroke-width="3.2" stroke-linecap="butt"/>
<line x1="1382.50" y1="1048.10" x2="1415.50" y2="1048.10" stroke="#000" stroke-width="3.2" stroke-linecap="butt"/>
<line x1="1399.00" y1="1076.84" x2="1399.00" y2="1106.60" stroke="#000" stroke-width="3.2" stroke-linecap="butt"/>
<line x1="1382.50" y1="1106.60" x2="1415.50" y2="1106.60" stroke="#000" stroke-width="3.2" stroke-linecap="butt"/>
<line x1="1399.00" y1="1076.84" x2="1399.00" y2="1136.10" stroke="#000" stroke-width="3.2" stroke-linecap="butt"/>
<line x1="1382.50" y1="1136.10" x2="1415.50" y2="1136.10" stroke="#000" stroke-width="3.2" stroke-linecap="butt"/>
<line x1="1579.00" y1="1063.30" x2="1579.00" y2="995.20" stroke="#000" stroke-width="3.2" stroke-linecap="butt"/>
<line x1="1562.50" y1="995.20" x2="1595.50" y2="995.20" stroke="#000" stroke-width="3.2" stroke-linecap="butt"/>
<line x1="1579.00" y1="1063.30" x2="1579.00" y2="1133.90" stroke="#000" stroke-width="3.2" stroke-linecap="butt"/>
<line x1="1562.50" y1="1133.90" x2="1595.50" y2="1133.90" stroke="#000" stroke-width="3.2" stroke-linecap="butt"/>
<line x1="1579.00" y1="1097.55" x2="1579.00" y2="1075.70" stroke="#000" stroke-width="3.2" stroke-linecap="butt"/>
<line x1="1562.50" y1="1075.70" x2="1595.50" y2="1075.70" stroke="#000" stroke-width="3.2" stroke-linecap="butt"/>
<line x1="1579.00" y1="1097.55" x2="1579.00" y2="1120.40" stroke="#000" stroke-width="3.2" stroke-linecap="butt"/>
<line x1="1562.50" y1="1120.40" x2="1595.50" y2="1120.40" stroke="#000" stroke-width="3.2" stroke-linecap="butt"/>
<line x1="1759.00" y1="1134.80" x2="1759.00" y2="1068.00" stroke="#000" stroke-width="3.2" stroke-linecap="butt"/>
<line x1="1742.50" y1="1068.00" x2="1775.50" y2="1068.00" stroke="#000" stroke-width="3.2" stroke-linecap="butt"/>
<line x1="1759.00" y1="1134.80" x2="1759.00" y2="1202.30" stroke="#000" stroke-width="3.2" stroke-linecap="butt"/>
<line x1="1742.50" y1="1202.30" x2="1775.50" y2="1202.30" stroke="#000" stroke-width="3.2" stroke-linecap="butt"/>
<g stroke="#fff" stroke-width="0.5">
<line x1="288.50" y1="1694.10" x2="288.50" y2="2125.70" stroke="#000" stroke-width="3.5" stroke-linecap="butt"/>
<line x1="275.00" y1="2087.60" x2="288.50" y2="2087.60" stroke="#000" stroke-width="3.5" stroke-linecap="butt"/>
<line x1="275.00" y1="1989.60" x2="288.50" y2="1989.60" stroke="#000" stroke-width="3.5" stroke-linecap="butt"/>
<line x1="275.00" y1="1891.60" x2="288.50" y2="1891.60" stroke="#000" stroke-width="3.5" stroke-linecap="butt"/>
<line x1="275.00" y1="1793.60" x2="288.50" y2="1793.60" stroke="#000" stroke-width="3.5" stroke-linecap="butt"/>
<line x1="275.00" y1="1695.60" x2="288.50" y2="1695.60" stroke="#000" stroke-width="3.5" stroke-linecap="butt"/>
<line x1="286.90" y1="2114.00" x2="920.00" y2="2114.00" stroke="#000" stroke-width="3.5" stroke-linecap="butt"/>
<line x1="385.40" y1="2114.00" x2="385.40" y2="2125.70" stroke="#000" stroke-width="3.5" stroke-linecap="butt"/>
<line x1="482.20" y1="2114.00" x2="482.20" y2="2125.70" stroke="#000" stroke-width="3.5" stroke-linecap="butt"/>
<line x1="579.00" y1="2114.00" x2="579.00" y2="2125.70" stroke="#000" stroke-width="3.5" stroke-linecap="butt"/>
<line x1="724.20" y1="2114.00" x2="724.20" y2="2125.70" stroke="#000" stroke-width="3.5" stroke-linecap="butt"/>
<line x1="869.40" y1="2114.00" x2="869.40" y2="2125.70" stroke="#000" stroke-width="3.5" stroke-linecap="butt"/>
<line x1="918.40" y1="2114.00" x2="918.40" y2="2125.70" stroke="#000" stroke-width="3.5" stroke-linecap="butt"/>
<text x="226.50" y="2102.20" font-size="41.50" textLength="44.71" lengthAdjust="spacingAndGlyphs" fill="#000">40</text>
<text x="225.44" y="2004.20" font-size="41.50" textLength="45.80" lengthAdjust="spacingAndGlyphs" fill="#000">60</text>
<text x="225.66" y="1906.20" font-size="41.50" textLength="45.58" lengthAdjust="spacingAndGlyphs" fill="#000">80</text>
<text x="204.79" y="1808.20" font-size="41.50" textLength="66.96" lengthAdjust="spacingAndGlyphs" fill="#000">100</text>
<text x="204.79" y="1710.20" font-size="41.50" textLength="66.96" lengthAdjust="spacingAndGlyphs" fill="#000">120</text>
<text x="277.08" y="2165.90" font-size="41.50" textLength="23.08" lengthAdjust="spacingAndGlyphs" fill="#000">0</text>
<text x="360.31" y="2169.70" font-size="41.50" textLength="48.74" lengthAdjust="spacingAndGlyphs" fill="#000">10</text>
<text x="458.26" y="2169.70" font-size="41.50" textLength="47.55" lengthAdjust="spacingAndGlyphs" fill="#000">20</text>
<text x="555.51" y="2166.20" font-size="41.50" textLength="47.09" lengthAdjust="spacingAndGlyphs" fill="#000">30</text>
<text x="701.36" y="2169.70" font-size="41.50" textLength="46.41" lengthAdjust="spacingAndGlyphs" fill="#000">45</text>
<text x="845.46" y="2166.20" font-size="41.50" textLength="47.55" lengthAdjust="spacingAndGlyphs" fill="#000">60</text>
<text x="491.10" y="2221.60" font-size="41.50" textLength="190.33" lengthAdjust="spacingAndGlyphs" fill="#000">Time (min)</text>
<text transform="translate(185.90,2136.37) rotate(-90)" x="0" y="0" font-size="43.00" textLength="467.59" lengthAdjust="spacingAndGlyphs">Glucose (% of initial value)</text>
<polyline points="288.60,1793.60 385.40,1771.55 482.20,1899.93 579.00,1951.87 869.40,2004.30" fill="none" stroke="#000" stroke-width="3.5" stroke-linejoin="round"/>
<polyline points="288.60,1793.60 385.40,1737.25 482.20,1880.33 579.00,1917.08 869.40,1977.35" fill="none" stroke="#000" stroke-width="3.5" stroke-linejoin="round"/>
<line x1="385.40" y1="1737.25" x2="385.40" y2="1722.20" stroke="#000" stroke-width="3.2" stroke-linecap="butt"/>
<line x1="369.90" y1="1722.20" x2="400.90" y2="1722.20" stroke="#000" stroke-width="3.2" stroke-linecap="butt"/>
<line x1="579.00" y1="1917.08" x2="579.00" y2="1902.30" stroke="#000" stroke-width="3.2" stroke-linecap="butt"/>
<line x1="563.00" y1="1902.30" x2="595.00" y2="1902.30" stroke="#000" stroke-width="3.2" stroke-linecap="butt"/>
<line x1="579.00" y1="1951.87" x2="579.00" y2="1934.50" stroke="#000" stroke-width="3.2" stroke-linecap="butt"/>
<line x1="563.00" y1="1934.50" x2="595.00" y2="1934.50" stroke="#000" stroke-width="3.2" stroke-linecap="butt"/>
<line x1="385.40" y1="1771.55" x2="385.40" y2="1788.50" stroke="#000" stroke-width="3.2" stroke-linecap="butt"/>
<line x1="369.90" y1="1788.50" x2="400.90" y2="1788.50" stroke="#000" stroke-width="3.2" stroke-linecap="butt"/>
<rect x="274.00" y="1779.00" width="29.20" height="29.20" fill="#000" stroke="#000" stroke-width="3.8"/>
<rect x="370.80" y="1756.95" width="29.20" height="29.20" fill="#cbcbca" stroke="#000" stroke-width="3.8"/>
<rect x="467.60" y="1885.33" width="29.20" height="29.20" fill="#cbcbca" stroke="#000" stroke-width="3.8"/>
<rect x="564.40" y="1937.27" width="29.20" height="29.20" fill="#cbcbca" stroke="#000" stroke-width="3.8"/>
<rect x="854.80" y="1989.70" width="29.20" height="29.20" fill="#cbcbca" stroke="#000" stroke-width="3.8"/>
<circle cx="288.60" cy="1793.60" r="14.20" fill="#fff" stroke="#000" stroke-width="3.6"/>
<circle cx="385.40" cy="1737.25" r="14.20" fill="#fff" stroke="#000" stroke-width="3.6"/>
<circle cx="482.20" cy="1880.33" r="14.20" fill="#fff" stroke="#000" stroke-width="3.6"/>
<circle cx="579.00" cy="1917.08" r="14.20" fill="#fff" stroke="#000" stroke-width="3.6"/>
<circle cx="869.40" cy="1977.35" r="14.20" fill="#fff" stroke="#000" stroke-width="3.6"/>
</g>
<line x1="1190.30" y1="1696.00" x2="1190.30" y2="2125.70" stroke="#000" stroke-width="3.5" stroke-linecap="butt"/>
<line x1="1177.00" y1="2087.10" x2="1190.30" y2="2087.10" stroke="#000" stroke-width="3.5" stroke-linecap="butt"/>
<line x1="1177.00" y1="1989.70" x2="1190.30" y2="1989.70" stroke="#000" stroke-width="3.5" stroke-linecap="butt"/>
<line x1="1177.00" y1="1892.30" x2="1190.30" y2="1892.30" stroke="#000" stroke-width="3.5" stroke-linecap="butt"/>
<line x1="1177.00" y1="1794.90" x2="1190.30" y2="1794.90" stroke="#000" stroke-width="3.5" stroke-linecap="butt"/>
<line x1="1177.00" y1="1697.50" x2="1190.30" y2="1697.50" stroke="#000" stroke-width="3.5" stroke-linecap="butt"/>
<line x1="1188.70" y1="2114.00" x2="1821.20" y2="2114.00" stroke="#000" stroke-width="3.5" stroke-linecap="butt"/>
<line x1="1286.90" y1="2114.00" x2="1286.90" y2="2125.70" stroke="#000" stroke-width="3.5" stroke-linecap="butt"/>
<line x1="1383.50" y1="2114.00" x2="1383.50" y2="2125.70" stroke="#000" stroke-width="3.5" stroke-linecap="butt"/>
<line x1="1480.10" y1="2114.00" x2="1480.10" y2="2125.70" stroke="#000" stroke-width="3.5" stroke-linecap="butt"/>
<line x1="1625.00" y1="2114.00" x2="1625.00" y2="2125.70" stroke="#000" stroke-width="3.5" stroke-linecap="butt"/>
<line x1="1769.90" y1="2114.00" x2="1769.90" y2="2125.70" stroke="#000" stroke-width="3.5" stroke-linecap="butt"/>
<line x1="1819.60" y1="2114.00" x2="1819.60" y2="2125.70" stroke="#000" stroke-width="3.5" stroke-linecap="butt"/>
<text x="1127.47" y="2101.70" font-size="41.50" textLength="45.77" lengthAdjust="spacingAndGlyphs" fill="#000">40</text>
<text x="1126.39" y="2004.30" font-size="41.50" textLength="46.89" lengthAdjust="spacingAndGlyphs" fill="#000">60</text>
<text x="1126.61" y="1906.90" font-size="41.50" textLength="46.66" lengthAdjust="spacingAndGlyphs" fill="#000">80</text>
<text x="1104.40" y="1809.50" font-size="41.50" textLength="68.89" lengthAdjust="spacingAndGlyphs" fill="#000">100</text>
<text x="1104.40" y="1712.10" font-size="41.50" textLength="68.89" lengthAdjust="spacingAndGlyphs" fill="#000">120</text>
<text x="1178.78" y="2166.10" font-size="41.50" textLength="23.08" lengthAdjust="spacingAndGlyphs" fill="#000">0</text>
<text x="1261.81" y="2169.70" font-size="41.50" textLength="48.74" lengthAdjust="spacingAndGlyphs" fill="#000">10</text>
<text x="1359.56" y="2169.70" font-size="41.50" textLength="47.55" lengthAdjust="spacingAndGlyphs" fill="#000">20</text>
<text x="1456.61" y="2166.10" font-size="41.50" textLength="47.09" lengthAdjust="spacingAndGlyphs" fill="#000">30</text>
<text x="1602.16" y="2169.70" font-size="41.50" textLength="46.41" lengthAdjust="spacingAndGlyphs" fill="#000">45</text>
<text x="1745.96" y="2166.10" font-size="41.50" textLength="47.55" lengthAdjust="spacingAndGlyphs" fill="#000">60</text>
<text x="1393.30" y="2221.10" font-size="41.50" textLength="189.72" lengthAdjust="spacingAndGlyphs" fill="#000">Time (min)</text>
<text transform="translate(1086.50,2137.48) rotate(-90)" x="0" y="0" font-size="43.00" textLength="468.70" lengthAdjust="spacingAndGlyphs">Glucose (% of initial value)</text>
<polyline points="1190.30,1794.90 1286.90,1736.46 1383.50,1925.42 1480.10,1992.14 1769.90,2052.52" fill="none" stroke="#000" stroke-width="3.4" stroke-linejoin="round"/>
<polyline points="1190.30,1794.90 1286.90,1769.58 1383.50,1900.58 1480.10,1930.29 1769.90,1979.96" fill="none" stroke="#000" stroke-width="3.4" stroke-linejoin="round"/>
<line x1="1286.90" y1="1736.46" x2="1286.90" y2="1706.70" stroke="#000" stroke-width="3.2" stroke-linecap="butt"/>
<line x1="1270.40" y1="1706.70" x2="1303.40" y2="1706.70" stroke="#000" stroke-width="3.2" stroke-linecap="butt"/>
<line x1="1383.50" y1="1925.42" x2="1383.50" y2="1944.40" stroke="#000" stroke-width="3.2" stroke-linecap="butt"/>
<line x1="1367.00" y1="1944.40" x2="1400.00" y2="1944.40" stroke="#000" stroke-width="3.2" stroke-linecap="butt"/>
<line x1="1383.50" y1="1900.58" x2="1383.50" y2="1886.70" stroke="#000" stroke-width="3.2" stroke-linecap="butt"/>
<line x1="1367.00" y1="1886.70" x2="1400.00" y2="1886.70" stroke="#000" stroke-width="3.2" stroke-linecap="butt"/>
<rect x="1272.80" y="1722.36" width="28.20" height="28.20" fill="#2680c3" stroke="#000" stroke-width="3.8"/>
<rect x="1369.40" y="1911.32" width="28.20" height="28.20" fill="#2680c3" stroke="#000" stroke-width="3.8"/>
<rect x="1466.00" y="1978.04" width="28.20" height="28.20" fill="#2680c3" stroke="#000" stroke-width="3.8"/>
<rect x="1755.80" y="2038.42" width="28.20" height="28.20" fill="#2680c3" stroke="#000" stroke-width="3.8"/>
<circle cx="1286.90" cy="1769.58" r="14.05" fill="#000" stroke="#000" stroke-width="3.4"/>
<circle cx="1383.50" cy="1900.58" r="14.05" fill="#000" stroke="#000" stroke-width="3.4"/>
<circle cx="1480.10" cy="1930.29" r="14.05" fill="#000" stroke="#000" stroke-width="3.4"/>
<circle cx="1769.90" cy="1979.96" r="14.05" fill="#000" stroke="#000" stroke-width="3.4"/>
<rect x="1175.70" y="1780.30" width="29.20" height="29.20" fill="#000" stroke="#000" stroke-width="3.8"/>
<line x1="1480.10" y1="1930.29" x2="1480.10" y2="1910.60" stroke="#000" stroke-width="3.2" stroke-linecap="butt"/>
<line x1="1463.60" y1="1910.60" x2="1496.60" y2="1910.60" stroke="#000" stroke-width="3.2" stroke-linecap="butt"/>
<line x1="1480.10" y1="1930.29" x2="1480.10" y2="1950.00" stroke="#000" stroke-width="3.2" stroke-linecap="butt"/>
<line x1="1463.60" y1="1950.00" x2="1496.60" y2="1950.00" stroke="#000" stroke-width="3.2" stroke-linecap="butt"/>
<line x1="1769.90" y1="1979.96" x2="1769.90" y2="1960.80" stroke="#000" stroke-width="3.2" stroke-linecap="butt"/>
<line x1="1753.40" y1="1960.80" x2="1786.40" y2="1960.80" stroke="#000" stroke-width="3.2" stroke-linecap="butt"/>
<line x1="1769.90" y1="1979.96" x2="1769.90" y2="2001.10" stroke="#000" stroke-width="3.2" stroke-linecap="butt"/>
<line x1="1753.40" y1="2001.10" x2="1786.40" y2="2001.10" stroke="#000" stroke-width="3.2" stroke-linecap="butt"/>
<text x="1466.52" y="2053.52" font-size="54.00" style="font-family:IPAGothic" textLength="30.95" lengthAdjust="spacingAndGlyphs" fill="#000" stroke="#fff" stroke-width="0.9">*</text>
<text x="1738.46" y="2111.42" font-size="54.00" style="font-family:IPAGothic" textLength="63.59" lengthAdjust="spacingAndGlyphs" fill="#000" stroke="#fff" stroke-width="0.9">**</text>
<line x1="442.60" y1="2317.50" x2="442.60" y2="2677.80" stroke="#000" stroke-width="3.0" stroke-linecap="butt"/>
<line x1="431.40" y1="2676.30" x2="442.60" y2="2676.30" stroke="#000" stroke-width="3.0" stroke-linecap="butt"/>
<line x1="431.40" y1="2604.84" x2="442.60" y2="2604.84" stroke="#000" stroke-width="3.0" stroke-linecap="butt"/>
<line x1="431.40" y1="2533.38" x2="442.60" y2="2533.38" stroke="#000" stroke-width="3.0" stroke-linecap="butt"/>
<line x1="431.40" y1="2461.92" x2="442.60" y2="2461.92" stroke="#000" stroke-width="3.0" stroke-linecap="butt"/>
<line x1="431.40" y1="2390.46" x2="442.60" y2="2390.46" stroke="#000" stroke-width="3.0" stroke-linecap="butt"/>
<line x1="431.40" y1="2319.00" x2="442.60" y2="2319.00" stroke="#000" stroke-width="3.0" stroke-linecap="butt"/>
<line x1="431.40" y1="2676.30" x2="798.90" y2="2676.30" stroke="#000" stroke-width="3.0" stroke-linecap="butt"/>
<line x1="531.95" y1="2328.40" x2="531.95" y2="2320.20" stroke="#000" stroke-width="3.4" stroke-linecap="butt"/>
<line x1="501.95" y1="2320.20" x2="561.95" y2="2320.20" stroke="#000" stroke-width="3.4" stroke-linecap="round"/>
<rect x="473.05" y="2329.05" width="117.80" height="348.85" fill="#fff"/>
<path d="M473.05 2677.90V2329.05H590.85V2677.90" fill="none" stroke="#000" stroke-width="3.3" stroke-linejoin="round"/>
<line x1="474.70" y1="2677.20" x2="589.20" y2="2677.20" stroke="#a8a8a8" stroke-width="1.4"/>
<line x1="709.70" y1="2351.80" x2="709.70" y2="2344.80" stroke="#000" stroke-width="3.4" stroke-linecap="butt"/>
<line x1="679.70" y1="2344.80" x2="739.70" y2="2344.80" stroke="#000" stroke-width="3.4" stroke-linecap="round"/>
<rect x="651.05" y="2352.45" width="117.30" height="325.45" fill="#cbcbca"/>
<path d="M651.05 2677.90V2352.45H768.35V2677.90" fill="none" stroke="#000" stroke-width="3.3" stroke-linejoin="round"/>
<line x1="652.70" y1="2677.20" x2="766.70" y2="2677.20" stroke="#8c8c8c" stroke-width="1.4"/>
<text x="325.64" y="2616.34" font-size="34.00" textLength="68.12" lengthAdjust="spacingAndGlyphs" fill="#000">1x10</text>
<text x="399.11" y="2605.04" font-size="19.50" textLength="24.85" lengthAdjust="spacingAndGlyphs" fill="#000">03</text>
<text x="323.17" y="2544.88" font-size="34.00" textLength="70.65" lengthAdjust="spacingAndGlyphs" fill="#000">2x10</text>
<text x="399.11" y="2533.58" font-size="19.50" textLength="24.85" lengthAdjust="spacingAndGlyphs" fill="#000">03</text>
<text x="323.50" y="2473.42" font-size="34.00" textLength="70.31" lengthAdjust="spacingAndGlyphs" fill="#000">3x10</text>
<text x="399.11" y="2462.12" font-size="19.50" textLength="24.85" lengthAdjust="spacingAndGlyphs" fill="#000">03</text>
<text x="324.00" y="2401.96" font-size="34.00" textLength="69.81" lengthAdjust="spacingAndGlyphs" fill="#000">4x10</text>
<text x="399.11" y="2390.66" font-size="19.50" textLength="24.85" lengthAdjust="spacingAndGlyphs" fill="#000">03</text>
<text x="323.50" y="2330.50" font-size="34.00" textLength="70.31" lengthAdjust="spacingAndGlyphs" fill="#000">5x10</text>
<text x="399.11" y="2319.20" font-size="19.50" textLength="24.85" lengthAdjust="spacingAndGlyphs" fill="#000">03</text>
<text x="406.40" y="2687.60" font-size="33.00" textLength="18.35" lengthAdjust="spacingAndGlyphs" fill="#000">0</text>
<text transform="translate(297.20,2628.07) rotate(-90)" x="0" y="0" font-size="36.50" textLength="271.55" lengthAdjust="spacingAndGlyphs">AUC (min x mg/dl)</text>
<line x1="1352.40" y1="2322.30" x2="1352.40" y2="2682.30" stroke="#000" stroke-width="3.2" stroke-linecap="butt"/>
<line x1="1339.50" y1="2680.80" x2="1352.40" y2="2680.80" stroke="#000" stroke-width="3.2" stroke-linecap="butt"/>
<line x1="1339.50" y1="2609.40" x2="1352.40" y2="2609.40" stroke="#000" stroke-width="3.2" stroke-linecap="butt"/>
<line x1="1339.50" y1="2538.00" x2="1352.40" y2="2538.00" stroke="#000" stroke-width="3.2" stroke-linecap="butt"/>
<line x1="1339.50" y1="2466.60" x2="1352.40" y2="2466.60" stroke="#000" stroke-width="3.2" stroke-linecap="butt"/>
<line x1="1339.50" y1="2395.20" x2="1352.40" y2="2395.20" stroke="#000" stroke-width="3.2" stroke-linecap="butt"/>
<line x1="1339.50" y1="2323.80" x2="1352.40" y2="2323.80" stroke="#000" stroke-width="3.2" stroke-linecap="butt"/>
<line x1="1339.30" y1="2680.80" x2="1710.80" y2="2680.80" stroke="#000" stroke-width="3.2" stroke-linecap="butt"/>
<line x1="1440.75" y1="2345.80" x2="1440.75" y2="2336.40" stroke="#000" stroke-width="3.4" stroke-linecap="butt"/>
<line x1="1411.75" y1="2336.40" x2="1469.75" y2="2336.40" stroke="#000" stroke-width="3.4" stroke-linecap="round"/>
<rect x="1381.95" y="2346.45" width="117.60" height="335.95" fill="#000"/>
<path d="M1381.95 2682.40V2346.45H1499.55V2682.40" fill="none" stroke="#000" stroke-width="3.3" stroke-linejoin="round"/>
<line x1="1620.50" y1="2378.10" x2="1620.50" y2="2367.60" stroke="#000" stroke-width="3.4" stroke-linecap="butt"/>
<line x1="1591.50" y1="2367.60" x2="1649.50" y2="2367.60" stroke="#000" stroke-width="3.4" stroke-linecap="round"/>
<rect x="1562.35" y="2378.75" width="116.30" height="303.65" fill="#2680c3"/>
<path d="M1562.35 2682.40V2378.75H1678.65V2682.40" fill="none" stroke="#000" stroke-width="3.3" stroke-linejoin="round"/>
<line x1="1564.00" y1="2681.70" x2="1677.00" y2="2681.70" stroke="#1c5a8c" stroke-width="1.4"/>
<text x="1233.60" y="2622.30" font-size="34.50" textLength="69.50" lengthAdjust="spacingAndGlyphs" fill="#000">1x10</text>
<text x="1307.20" y="2611.30" font-size="21.00" textLength="24.96" lengthAdjust="spacingAndGlyphs" fill="#000">03</text>
<text x="1231.04" y="2550.90" font-size="34.50" textLength="72.11" lengthAdjust="spacingAndGlyphs" fill="#000">2x10</text>
<text x="1307.20" y="2539.90" font-size="21.00" textLength="24.96" lengthAdjust="spacingAndGlyphs" fill="#000">03</text>
<text x="1231.38" y="2479.50" font-size="34.50" textLength="71.76" lengthAdjust="spacingAndGlyphs" fill="#000">3x10</text>
<text x="1307.20" y="2468.50" font-size="21.00" textLength="24.96" lengthAdjust="spacingAndGlyphs" fill="#000">03</text>
<text x="1231.88" y="2408.10" font-size="34.50" textLength="71.25" lengthAdjust="spacingAndGlyphs" fill="#000">4x10</text>
<text x="1307.20" y="2397.10" font-size="21.00" textLength="24.96" lengthAdjust="spacingAndGlyphs" fill="#000">03</text>
<text x="1231.38" y="2336.70" font-size="34.50" textLength="71.76" lengthAdjust="spacingAndGlyphs" fill="#000">5x10</text>
<text x="1307.20" y="2325.70" font-size="21.00" textLength="24.96" lengthAdjust="spacingAndGlyphs" fill="#000">03</text>
<text x="1283.93" y="2690.80" font-size="34.50" textLength="19.19" lengthAdjust="spacingAndGlyphs" fill="#000">0</text>
<text transform="translate(1207.30,2636.37) rotate(-90)" x="0" y="0" font-size="37.00" textLength="273.87" lengthAdjust="spacingAndGlyphs">AUC (min x mg/dl)</text>
<text x="1606.46" y="2361.32" font-size="54.00" style="font-family:IPAGothic" textLength="31.79" lengthAdjust="spacingAndGlyphs" fill="#000" stroke="#fff" stroke-width="0.9">*</text>
<circle cx="1794" cy="20.6" r="1.3" fill="#9a9a9a"/><circle cx="1845.3" cy="36.9" r="1.3" fill="#a8a8a8"/>
</svg></body></html>
